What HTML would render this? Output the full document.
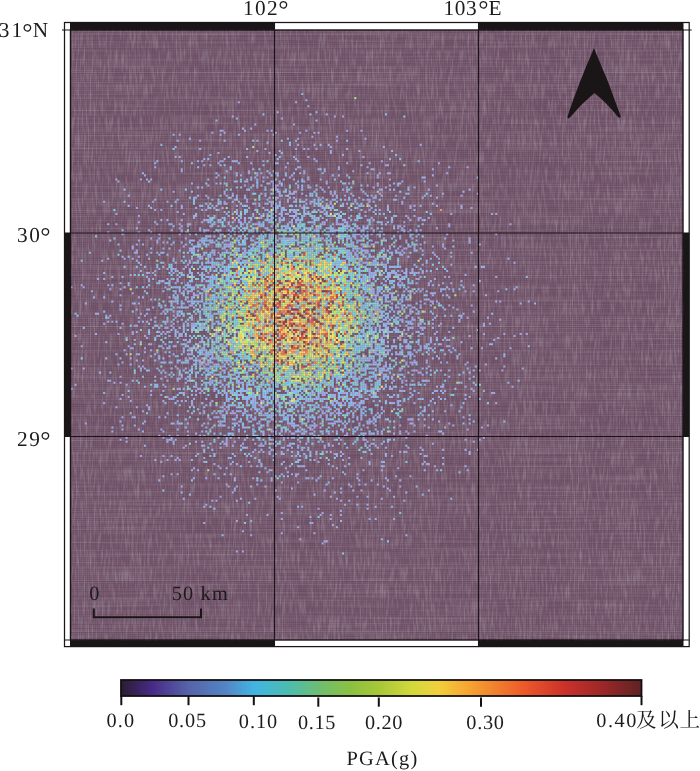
<!DOCTYPE html>
<html lang="zh"><head><meta charset="utf-8"><title>PGA</title>
<style>
html,body{margin:0;padding:0;background:#fff;}
svg{display:block;}
text{font-family:"Liberation Serif","Noto Serif CJK SC",serif;fill:#1d1a1b;text-rendering:geometricPrecision;}
</style></head><body>
<svg width="700" height="771" viewBox="0 0 700 771">
<defs>
<linearGradient id="cb" x1="0" y1="0" x2="1" y2="0"><stop offset="0.000" stop-color="#2b1e30"/><stop offset="0.030" stop-color="#3a225c"/><stop offset="0.060" stop-color="#482a86"/><stop offset="0.130" stop-color="#5664a8"/><stop offset="0.200" stop-color="#5484c4"/><stop offset="0.255" stop-color="#42b4e2"/><stop offset="0.320" stop-color="#4cbcb0"/><stop offset="0.385" stop-color="#70be6e"/><stop offset="0.440" stop-color="#8cc042"/><stop offset="0.495" stop-color="#a6c838"/><stop offset="0.560" stop-color="#d4d83c"/><stop offset="0.610" stop-color="#f2d03c"/><stop offset="0.660" stop-color="#f6aa34"/><stop offset="0.695" stop-color="#f39230"/><stop offset="0.770" stop-color="#ee5c2a"/><stop offset="0.850" stop-color="#cc322a"/><stop offset="0.920" stop-color="#a02828"/><stop offset="1.000" stop-color="#5e2224"/></linearGradient>
<filter id="soft" x="60" y="20" width="640" height="640" filterUnits="userSpaceOnUse"><feGaussianBlur stdDeviation="0.5"/></filter>
<filter id="linen" x="70" y="29" width="614" height="612" filterUnits="userSpaceOnUse" color-interpolation-filters="sRGB">
<feTurbulence type="fractalNoise" baseFrequency="0.5 0.06" numOctaves="2" seed="7" result="v"/>
<feColorMatrix in="v" type="matrix" values="0 0 0 0 1  0 0 0 0 1  0 0 0 0 1  0.46 0 0 0 -0.205" result="vw"/>
<feTurbulence type="fractalNoise" baseFrequency="0.012 0.5" numOctaves="1" seed="11" result="h"/>
<feColorMatrix in="h" type="matrix" values="0 0 0 0 1  0 0 0 0 1  0 0 0 0 1  0.22 0 0 0 -0.095" result="hw"/>
<feMerge><feMergeNode in="SourceGraphic"/><feMergeNode in="vw"/><feMergeNode in="hw"/></feMerge>
</filter>
<pattern id="fine" width="2.0417" height="2.0333" patternUnits="userSpaceOnUse" x="70.5" y="30">
<rect x="1.3" y="0" width="0.75" height="2.04" fill="#fff" fill-opacity="0.07"/>
<rect x="0" y="1.3" width="2.05" height="0.75" fill="#fff" fill-opacity="0.06"/>
</pattern>
<pattern id="tex" width="2.04" height="12.7" patternUnits="userSpaceOnUse" x="70.5" y="30">
<rect x="0" y="4.0" width="2.04" height="1.0" fill="#fff" fill-opacity="0.07"/>
<rect x="0" y="5.0" width="2.04" height="1.0" fill="#1a0a1a" fill-opacity="0.11"/>
</pattern>
<pattern id="tex2" width="2.04" height="12.7" patternUnits="userSpaceOnUse" x="70.5" y="30">
<rect x="0.3" y="0" width="0.8" height="12.7" fill="#fff" fill-opacity="0.03"/>
</pattern>
</defs>
<rect x="0" y="0" width="700" height="771" fill="#fff"/>
<rect x="64.50" y="22.50" width="624.70" height="624.10" fill="#fff" stroke="#1a1516" stroke-width="1.25"/>
<rect x="70.50" y="22.50" width="204.00" height="7.50" fill="#1a1516"/>
<rect x="478.50" y="22.50" width="204.50" height="7.50" fill="#1a1516"/>
<rect x="70.50" y="640.00" width="204.00" height="6.60" fill="#1a1516"/>
<rect x="478.50" y="640.00" width="204.50" height="6.60" fill="#1a1516"/>
<rect x="64.50" y="233.00" width="6.00" height="203.50" fill="#1a1516"/>
<rect x="683.00" y="233.00" width="6.20" height="203.50" fill="#1a1516"/>
<rect x="70.50" y="30.00" width="612.50" height="610.00" fill="#67485f" filter="url(#linen)"/>
<rect x="70.50" y="30.00" width="612.50" height="610.00" fill="url(#tex)"/>
<rect x="70.50" y="30.00" width="612.50" height="610.00" fill="url(#fine)"/>
<g filter="url(#soft)"><g transform="translate(70.50 30.00) scale(2.04167 2.03333)"><path fill="#a4a3e2" d="M82 35h1v1h-1zM110 35h1v1h-1zM125 41h1v1h-1zM73 49h1v1h-1zM74 49h1v1h-1zM98 49h1v1h-1zM142 49h1v1h-1zM69 50h1v1h-1zM112 50h1v1h-1zM53 51h1v1h-1zM118 52h1v1h-1zM130 52h1v1h-1zM106 53h1v1h-1zM63 54h1v1h-1zM130 54h1v1h-1zM111 56h1v1h-1zM119 56h1v1h-1zM116 58h1v1h-1zM120 58h1v1h-1zM97 60h1v1h-1zM51 62h1v1h-1zM77 62h1v1h-1zM65 63h1v1h-1zM119 63h1v1h-1zM64 64h1v1h-1zM73 64h1v1h-1zM72 65h1v1h-1zM135 65h1v1h-1zM180 65h1v1h-1zM65 66h1v1h-1zM154 66h1v1h-1zM155 66h1v1h-1zM105 67h1v1h-1zM145 67h1v1h-1zM194 67h1v1h-1zM54 68h1v1h-1zM124 68h1v1h-1zM148 68h1v1h-1zM87 69h1v1h-1zM114 69h1v1h-1zM138 69h1v1h-1zM87 70h1v1h-1zM93 70h1v1h-1zM100 70h1v1h-1zM156 70h1v1h-1zM36 71h1v1h-1zM72 71h1v1h-1zM83 71h1v1h-1zM91 71h1v1h-1zM108 71h1v1h-1zM135 71h1v1h-1zM150 71h1v1h-1zM88 72h1v1h-1zM94 72h1v1h-1zM96 72h1v1h-1zM156 73h1v1h-1zM99 74h1v1h-1zM125 74h1v1h-1zM71 75h1v1h-1zM76 75h1v1h-1zM97 75h1v1h-1zM102 75h1v1h-1zM136 75h1v1h-1zM93 76h1v1h-1zM101 76h1v1h-1zM111 76h1v1h-1zM116 76h1v1h-1zM150 76h1v1h-1zM156 76h1v1h-1zM179 76h1v1h-1zM95 77h1v1h-1zM99 77h1v1h-1zM100 77h1v1h-1zM122 77h1v1h-1zM126 77h1v1h-1zM148 77h1v1h-1zM100 78h1v1h-1zM120 78h1v1h-1zM135 78h1v1h-1zM151 78h1v1h-1zM109 79h1v1h-1zM124 79h1v1h-1zM129 79h1v1h-1zM75 80h1v1h-1zM79 80h1v1h-1zM95 80h1v1h-1zM107 80h1v1h-1zM109 80h1v1h-1zM129 80h1v1h-1zM137 80h1v1h-1zM144 80h1v1h-1zM151 80h1v1h-1zM182 80h1v1h-1zM85 81h1v1h-1zM105 81h1v1h-1zM147 81h1v1h-1zM152 81h1v1h-1zM159 81h1v1h-1zM191 81h1v1h-1zM60 82h1v1h-1zM81 82h1v1h-1zM97 82h1v1h-1zM109 82h1v1h-1zM121 82h1v1h-1zM52 83h1v1h-1zM69 83h1v1h-1zM80 83h1v1h-1zM106 83h1v1h-1zM112 83h1v1h-1zM134 83h1v1h-1zM145 83h1v1h-1zM159 83h1v1h-1zM40 84h1v1h-1zM47 84h1v1h-1zM72 84h1v1h-1zM86 84h1v1h-1zM106 84h1v1h-1zM127 84h1v1h-1zM139 84h1v1h-1zM146 84h1v1h-1zM162 84h1v1h-1zM76 85h1v1h-1zM90 85h1v1h-1zM98 85h1v1h-1zM117 85h1v1h-1zM125 85h1v1h-1zM145 85h1v1h-1zM162 85h1v1h-1zM54 86h1v1h-1zM67 86h1v1h-1zM69 86h1v1h-1zM92 86h1v1h-1zM100 86h1v1h-1zM112 86h1v1h-1zM119 86h1v1h-1zM123 86h1v1h-1zM126 86h1v1h-1zM146 86h1v1h-1zM166 86h1v1h-1zM168 86h1v1h-1zM179 86h1v1h-1zM32 87h1v1h-1zM54 87h1v1h-1zM67 87h1v1h-1zM87 87h1v1h-1zM113 87h1v1h-1zM155 87h1v1h-1zM166 87h1v1h-1zM196 87h1v1h-1zM41 88h1v1h-1zM44 88h1v1h-1zM66 88h1v1h-1zM100 88h1v1h-1zM108 88h1v1h-1zM110 88h1v1h-1zM146 88h1v1h-1zM81 89h1v1h-1zM98 89h1v1h-1zM122 89h1v1h-1zM144 89h1v1h-1zM92 90h1v1h-1zM96 90h1v1h-1zM106 90h1v1h-1zM131 90h1v1h-1zM33 91h1v1h-1zM67 91h1v1h-1zM82 91h1v1h-1zM98 91h1v1h-1zM107 91h1v1h-1zM110 91h1v1h-1zM114 91h1v1h-1zM168 91h1v1h-1zM60 92h1v1h-1zM70 92h1v1h-1zM90 92h1v1h-1zM93 92h1v1h-1zM109 92h1v1h-1zM119 92h1v1h-1zM132 92h1v1h-1zM165 92h1v1h-1zM170 92h1v1h-1zM175 92h1v1h-1zM66 93h1v1h-1zM67 93h1v1h-1zM88 93h1v1h-1zM95 93h1v1h-1zM97 93h1v1h-1zM103 93h1v1h-1zM137 93h1v1h-1zM140 93h1v1h-1zM145 93h1v1h-1zM166 93h1v1h-1zM172 93h1v1h-1zM72 94h1v1h-1zM82 94h1v1h-1zM118 94h1v1h-1zM123 94h1v1h-1zM152 94h1v1h-1zM22 95h1v1h-1zM42 95h1v1h-1zM84 95h1v1h-1zM112 95h1v1h-1zM124 95h1v1h-1zM131 95h1v1h-1zM185 95h1v1h-1zM215 95h1v1h-1zM54 96h1v1h-1zM57 96h1v1h-1zM68 96h1v1h-1zM69 96h1v1h-1zM140 96h1v1h-1zM161 96h1v1h-1zM163 96h1v1h-1zM185 96h1v1h-1zM53 97h1v1h-1zM63 97h1v1h-1zM137 97h1v1h-1zM160 97h1v1h-1zM49 98h1v1h-1zM66 98h1v1h-1zM77 98h1v1h-1zM96 98h1v1h-1zM99 98h1v1h-1zM119 98h1v1h-1zM142 98h1v1h-1zM162 98h1v1h-1zM33 99h1v1h-1zM54 99h1v1h-1zM80 99h1v1h-1zM82 99h1v1h-1zM98 99h1v1h-1zM113 99h1v1h-1zM131 99h1v1h-1zM138 99h1v1h-1zM169 99h1v1h-1zM53 100h1v1h-1zM58 100h1v1h-1zM93 100h1v1h-1zM98 100h1v1h-1zM107 100h1v1h-1zM139 100h1v1h-1zM140 100h1v1h-1zM147 100h1v1h-1zM208 100h1v1h-1zM73 101h1v1h-1zM98 101h1v1h-1zM104 101h1v1h-1zM169 101h1v1h-1zM56 102h1v1h-1zM83 102h1v1h-1zM123 102h1v1h-1zM153 102h1v1h-1zM161 102h1v1h-1zM42 103h1v1h-1zM60 103h1v1h-1zM64 103h1v1h-1zM76 103h1v1h-1zM93 103h1v1h-1zM111 103h1v1h-1zM124 103h1v1h-1zM140 103h1v1h-1zM147 103h1v1h-1zM164 103h1v1h-1zM187 103h1v1h-1zM45 104h1v1h-1zM64 104h1v1h-1zM68 104h1v1h-1zM69 104h1v1h-1zM149 104h1v1h-1zM49 105h1v1h-1zM77 105h1v1h-1zM99 105h1v1h-1zM127 105h1v1h-1zM142 105h1v1h-1zM144 105h1v1h-1zM147 105h1v1h-1zM171 105h1v1h-1zM55 106h1v1h-1zM73 106h1v1h-1zM75 106h1v1h-1zM76 106h1v1h-1zM112 106h1v1h-1zM146 106h1v1h-1zM177 106h1v1h-1zM182 106h1v1h-1zM45 107h1v1h-1zM75 107h1v1h-1zM127 107h1v1h-1zM128 107h1v1h-1zM142 107h1v1h-1zM156 107h1v1h-1zM160 107h1v1h-1zM163 107h1v1h-1zM171 107h1v1h-1zM32 108h1v1h-1zM53 108h1v1h-1zM58 108h1v1h-1zM60 108h1v1h-1zM70 108h1v1h-1zM81 108h1v1h-1zM162 108h1v1h-1zM172 108h1v1h-1zM39 109h1v1h-1zM68 109h1v1h-1zM72 109h1v1h-1zM85 109h1v1h-1zM136 109h1v1h-1zM65 110h1v1h-1zM70 110h1v1h-1zM80 110h1v1h-1zM136 110h1v1h-1zM140 110h1v1h-1zM142 110h1v1h-1zM33 111h1v1h-1zM64 111h1v1h-1zM137 111h1v1h-1zM147 111h1v1h-1zM67 112h1v1h-1zM141 112h1v1h-1zM145 112h1v1h-1zM180 112h1v1h-1zM15 113h1v1h-1zM32 113h1v1h-1zM58 113h1v1h-1zM69 113h1v1h-1zM86 113h1v1h-1zM133 113h1v1h-1zM141 113h1v1h-1zM51 114h1v1h-1zM113 114h1v1h-1zM144 114h1v1h-1zM148 114h1v1h-1zM152 114h1v1h-1zM160 114h1v1h-1zM57 115h1v1h-1zM70 115h1v1h-1zM73 115h1v1h-1zM78 115h1v1h-1zM135 115h1v1h-1zM142 115h1v1h-1zM151 115h1v1h-1zM153 115h1v1h-1zM65 116h1v1h-1zM69 116h1v1h-1zM76 116h1v1h-1zM141 116h1v1h-1zM51 117h1v1h-1zM55 117h1v1h-1zM58 117h1v1h-1zM106 117h1v1h-1zM146 117h1v1h-1zM41 118h1v1h-1zM52 118h1v1h-1zM140 118h1v1h-1zM146 118h1v1h-1zM174 118h1v1h-1zM38 119h1v1h-1zM40 119h1v1h-1zM67 119h1v1h-1zM148 119h1v1h-1zM149 119h1v1h-1zM157 119h1v1h-1zM169 119h1v1h-1zM172 119h1v1h-1zM29 120h1v1h-1zM63 120h1v1h-1zM64 120h1v1h-1zM143 120h1v1h-1zM152 120h1v1h-1zM78 121h1v1h-1zM155 121h1v1h-1zM156 121h1v1h-1zM162 121h1v1h-1zM183 121h1v1h-1zM185 121h1v1h-1zM208 121h1v1h-1zM13 122h1v1h-1zM68 122h1v1h-1zM146 122h1v1h-1zM148 122h1v1h-1zM160 122h1v1h-1zM161 122h1v1h-1zM169 122h1v1h-1zM178 122h1v1h-1zM44 123h1v1h-1zM45 123h1v1h-1zM66 123h1v1h-1zM156 123h1v1h-1zM161 123h1v1h-1zM160 124h1v1h-1zM162 124h1v1h-1zM175 124h1v1h-1zM182 124h1v1h-1zM18 125h1v1h-1zM144 125h1v1h-1zM160 125h1v1h-1zM180 125h1v1h-1zM6 126h1v1h-1zM37 126h1v1h-1zM46 126h1v1h-1zM74 126h1v1h-1zM146 126h1v1h-1zM19 127h1v1h-1zM24 127h1v1h-1zM47 127h1v1h-1zM167 127h1v1h-1zM187 127h1v1h-1zM10 128h1v1h-1zM36 128h1v1h-1zM55 128h1v1h-1zM59 128h1v1h-1zM65 128h1v1h-1zM163 128h1v1h-1zM181 128h1v1h-1zM193 128h1v1h-1zM209 128h1v1h-1zM60 129h1v1h-1zM156 129h1v1h-1zM168 129h1v1h-1zM176 129h1v1h-1zM177 129h1v1h-1zM178 129h1v1h-1zM60 130h1v1h-1zM61 130h1v1h-1zM62 130h1v1h-1zM148 130h1v1h-1zM150 130h1v1h-1zM154 130h1v1h-1zM160 130h1v1h-1zM165 130h1v1h-1zM33 131h1v1h-1zM48 131h1v1h-1zM50 131h1v1h-1zM51 131h1v1h-1zM56 131h1v1h-1zM59 131h1v1h-1zM152 131h1v1h-1zM51 132h1v1h-1zM162 132h1v1h-1zM166 132h1v1h-1zM58 133h1v1h-1zM61 133h1v1h-1zM146 133h1v1h-1zM156 133h1v1h-1zM171 133h1v1h-1zM177 133h1v1h-1zM179 133h1v1h-1zM224 133h1v1h-1zM49 134h1v1h-1zM74 134h1v1h-1zM173 134h1v1h-1zM44 135h1v1h-1zM54 135h1v1h-1zM58 135h1v1h-1zM59 135h1v1h-1zM162 135h1v1h-1zM166 135h1v1h-1zM185 135h1v1h-1zM196 135h1v1h-1zM52 136h1v1h-1zM57 136h1v1h-1zM150 136h1v1h-1zM32 137h1v1h-1zM48 137h1v1h-1zM151 137h1v1h-1zM162 137h1v1h-1zM50 138h1v1h-1zM52 138h1v1h-1zM149 138h1v1h-1zM173 138h1v1h-1zM197 138h1v1h-1zM13 139h1v1h-1zM44 139h1v1h-1zM63 139h1v1h-1zM148 139h1v1h-1zM166 139h1v1h-1zM169 139h1v1h-1zM192 139h1v1h-1zM36 140h1v1h-1zM53 140h1v1h-1zM148 140h1v1h-1zM155 140h1v1h-1zM164 140h1v1h-1zM165 140h1v1h-1zM179 140h1v1h-1zM41 141h1v1h-1zM51 141h1v1h-1zM147 141h1v1h-1zM155 141h1v1h-1zM194 141h1v1h-1zM65 142h1v1h-1zM150 142h1v1h-1zM162 142h1v1h-1zM20 143h1v1h-1zM155 143h1v1h-1zM59 144h1v1h-1zM60 144h1v1h-1zM170 144h1v1h-1zM177 144h1v1h-1zM181 144h1v1h-1zM32 145h1v1h-1zM64 145h1v1h-1zM47 146h1v1h-1zM154 146h1v1h-1zM165 146h1v1h-1zM172 146h1v1h-1zM55 147h1v1h-1zM172 147h1v1h-1zM30 148h1v1h-1zM45 148h1v1h-1zM48 148h1v1h-1zM51 148h1v1h-1zM155 148h1v1h-1zM30 149h1v1h-1zM46 149h1v1h-1zM153 149h1v1h-1zM155 149h1v1h-1zM167 149h1v1h-1zM171 149h1v1h-1zM202 149h1v1h-1zM212 149h1v1h-1zM223 149h1v1h-1zM2 150h1v1h-1zM36 150h1v1h-1zM48 150h1v1h-1zM54 150h1v1h-1zM153 150h1v1h-1zM217 150h1v1h-1zM27 151h1v1h-1zM66 151h1v1h-1zM152 151h1v1h-1zM176 151h1v1h-1zM179 151h1v1h-1zM31 152h1v1h-1zM55 152h1v1h-1zM72 152h1v1h-1zM153 152h1v1h-1zM182 152h1v1h-1zM184 152h1v1h-1zM207 152h1v1h-1zM57 153h1v1h-1zM158 153h1v1h-1zM39 154h1v1h-1zM54 154h1v1h-1zM170 154h1v1h-1zM5 155h1v1h-1zM50 155h1v1h-1zM51 155h1v1h-1zM63 155h1v1h-1zM72 155h1v1h-1zM171 155h1v1h-1zM174 155h1v1h-1zM45 156h1v1h-1zM58 156h1v1h-1zM62 156h1v1h-1zM164 156h1v1h-1zM173 156h1v1h-1zM201 156h1v1h-1zM26 157h1v1h-1zM39 157h1v1h-1zM55 157h1v1h-1zM74 157h1v1h-1zM171 157h1v1h-1zM175 157h1v1h-1zM36 158h1v1h-1zM42 158h1v1h-1zM55 158h1v1h-1zM77 158h1v1h-1zM148 158h1v1h-1zM149 158h1v1h-1zM169 158h1v1h-1zM178 158h1v1h-1zM65 159h1v1h-1zM69 159h1v1h-1zM146 159h1v1h-1zM151 159h1v1h-1zM154 159h1v1h-1zM159 159h1v1h-1zM160 159h1v1h-1zM161 159h1v1h-1zM43 160h1v1h-1zM67 160h1v1h-1zM71 160h1v1h-1zM144 160h1v1h-1zM168 160h1v1h-1zM29 161h1v1h-1zM56 161h1v1h-1zM64 161h1v1h-1zM70 161h1v1h-1zM141 161h1v1h-1zM189 161h1v1h-1zM62 162h1v1h-1zM63 162h1v1h-1zM74 162h1v1h-1zM57 163h1v1h-1zM63 163h1v1h-1zM67 163h1v1h-1zM164 163h1v1h-1zM167 163h1v1h-1zM174 163h1v1h-1zM23 164h1v1h-1zM64 164h1v1h-1zM70 164h1v1h-1zM147 164h1v1h-1zM203 164h1v1h-1zM35 165h1v1h-1zM51 165h1v1h-1zM63 165h1v1h-1zM65 165h1v1h-1zM69 165h1v1h-1zM72 165h1v1h-1zM153 165h1v1h-1zM212 165h1v1h-1zM6 166h1v1h-1zM36 166h1v1h-1zM52 166h1v1h-1zM66 166h1v1h-1zM68 166h1v1h-1zM76 166h1v1h-1zM145 166h1v1h-1zM149 166h1v1h-1zM34 167h1v1h-1zM74 167h1v1h-1zM79 167h1v1h-1zM142 167h1v1h-1zM154 167h1v1h-1zM155 167h1v1h-1zM167 167h1v1h-1zM169 167h1v1h-1zM181 167h1v1h-1zM211 167h1v1h-1zM49 168h1v1h-1zM138 168h1v1h-1zM171 168h1v1h-1zM80 169h1v1h-1zM82 169h1v1h-1zM172 169h1v1h-1zM24 170h1v1h-1zM49 170h1v1h-1zM92 170h1v1h-1zM130 170h1v1h-1zM138 170h1v1h-1zM139 170h1v1h-1zM142 170h1v1h-1zM148 170h1v1h-1zM52 171h1v1h-1zM58 171h1v1h-1zM118 171h1v1h-1zM132 171h1v1h-1zM136 171h1v1h-1zM151 171h1v1h-1zM195 171h1v1h-1zM19 172h1v1h-1zM32 172h1v1h-1zM52 172h1v1h-1zM68 172h1v1h-1zM89 172h1v1h-1zM158 172h1v1h-1zM175 172h1v1h-1zM83 173h1v1h-1zM86 173h1v1h-1zM99 173h1v1h-1zM162 173h1v1h-1zM27 174h1v1h-1zM101 174h1v1h-1zM61 175h1v1h-1zM70 175h1v1h-1zM0 176h1v1h-1zM52 176h1v1h-1zM62 176h1v1h-1zM75 176h1v1h-1zM98 176h1v1h-1zM196 176h1v1h-1zM70 177h1v1h-1zM123 177h1v1h-1zM130 177h1v1h-1zM146 177h1v1h-1zM162 177h1v1h-1zM178 177h1v1h-1zM179 177h1v1h-1zM197 177h1v1h-1zM202 177h1v1h-1zM63 178h1v1h-1zM83 178h1v1h-1zM96 178h1v1h-1zM119 178h1v1h-1zM123 178h1v1h-1zM133 178h1v1h-1zM134 178h1v1h-1zM138 178h1v1h-1zM206 178h1v1h-1zM44 179h1v1h-1zM124 179h1v1h-1zM142 179h1v1h-1zM28 180h1v1h-1zM47 180h1v1h-1zM50 180h1v1h-1zM78 180h1v1h-1zM107 180h1v1h-1zM128 180h1v1h-1zM147 180h1v1h-1zM180 180h1v1h-1zM48 181h1v1h-1zM50 181h1v1h-1zM76 181h1v1h-1zM90 181h1v1h-1zM101 181h1v1h-1zM123 181h1v1h-1zM140 181h1v1h-1zM193 181h1v1h-1zM52 182h1v1h-1zM77 182h1v1h-1zM117 182h1v1h-1zM133 182h1v1h-1zM148 182h1v1h-1zM16 183h1v1h-1zM59 183h1v1h-1zM86 183h1v1h-1zM89 183h1v1h-1zM107 183h1v1h-1zM108 183h1v1h-1zM132 183h1v1h-1zM141 183h1v1h-1zM142 183h1v1h-1zM157 183h1v1h-1zM208 183h1v1h-1zM82 184h1v1h-1zM89 184h1v1h-1zM93 184h1v1h-1zM101 184h1v1h-1zM118 184h1v1h-1zM125 184h1v1h-1zM133 184h1v1h-1zM32 185h1v1h-1zM38 185h1v1h-1zM73 185h1v1h-1zM76 185h1v1h-1zM81 185h1v1h-1zM93 185h1v1h-1zM94 185h1v1h-1zM123 185h1v1h-1zM191 185h1v1h-1zM75 186h1v1h-1zM77 186h1v1h-1zM99 186h1v1h-1zM135 186h1v1h-1zM152 186h1v1h-1zM35 187h1v1h-1zM83 187h1v1h-1zM85 187h1v1h-1zM104 187h1v1h-1zM106 187h1v1h-1zM115 187h1v1h-1zM123 187h1v1h-1zM131 187h1v1h-1zM139 187h1v1h-1zM162 187h1v1h-1zM65 188h1v1h-1zM73 188h1v1h-1zM78 188h1v1h-1zM79 188h1v1h-1zM84 188h1v1h-1zM102 188h1v1h-1zM105 188h1v1h-1zM115 188h1v1h-1zM124 188h1v1h-1zM130 188h1v1h-1zM132 188h1v1h-1zM81 189h1v1h-1zM87 189h1v1h-1zM94 189h1v1h-1zM98 189h1v1h-1zM107 189h1v1h-1zM129 189h1v1h-1zM131 189h1v1h-1zM138 189h1v1h-1zM172 189h1v1h-1zM31 190h1v1h-1zM67 190h1v1h-1zM72 190h1v1h-1zM98 190h1v1h-1zM104 190h1v1h-1zM106 190h1v1h-1zM115 190h1v1h-1zM142 190h1v1h-1zM148 190h1v1h-1zM108 191h1v1h-1zM116 191h1v1h-1zM125 191h1v1h-1zM148 191h1v1h-1zM149 191h1v1h-1zM165 191h1v1h-1zM195 191h1v1h-1zM87 192h1v1h-1zM100 192h1v1h-1zM108 192h1v1h-1zM118 192h1v1h-1zM129 192h1v1h-1zM146 192h1v1h-1zM7 193h1v1h-1zM52 193h1v1h-1zM67 193h1v1h-1zM73 193h1v1h-1zM80 193h1v1h-1zM92 193h1v1h-1zM106 193h1v1h-1zM108 193h1v1h-1zM122 193h1v1h-1zM146 193h1v1h-1zM185 193h1v1h-1zM73 194h1v1h-1zM82 194h1v1h-1zM117 194h1v1h-1zM119 194h1v1h-1zM120 194h1v1h-1zM161 194h1v1h-1zM168 194h1v1h-1zM173 194h1v1h-1zM187 194h1v1h-1zM204 194h1v1h-1zM112 195h1v1h-1zM116 195h1v1h-1zM119 195h1v1h-1zM145 195h1v1h-1zM201 195h1v1h-1zM33 196h1v1h-1zM68 196h1v1h-1zM114 196h1v1h-1zM118 196h1v1h-1zM138 196h1v1h-1zM194 196h1v1h-1zM89 197h1v1h-1zM105 197h1v1h-1zM112 197h1v1h-1zM180 197h1v1h-1zM61 198h1v1h-1zM150 198h1v1h-1zM158 198h1v1h-1zM165 198h1v1h-1zM182 198h1v1h-1zM65 199h1v1h-1zM77 199h1v1h-1zM111 199h1v1h-1zM143 199h1v1h-1zM104 200h1v1h-1zM106 200h1v1h-1zM143 200h1v1h-1zM202 200h1v1h-1zM47 201h1v1h-1zM76 201h1v1h-1zM97 201h1v1h-1zM98 201h1v1h-1zM132 201h1v1h-1zM148 201h1v1h-1zM193 201h1v1h-1zM27 202h1v1h-1zM95 202h1v1h-1zM116 202h1v1h-1zM197 202h1v1h-1zM50 203h1v1h-1zM75 203h1v1h-1zM76 203h1v1h-1zM98 203h1v1h-1zM107 203h1v1h-1zM144 203h1v1h-1zM177 203h1v1h-1zM76 204h1v1h-1zM111 204h1v1h-1zM149 204h1v1h-1zM55 205h1v1h-1zM114 205h1v1h-1zM124 205h1v1h-1zM171 205h1v1h-1zM99 206h1v1h-1zM106 206h1v1h-1zM113 206h1v1h-1zM193 206h1v1h-1zM199 206h1v1h-1zM65 207h1v1h-1zM97 207h1v1h-1zM127 207h1v1h-1zM104 208h1v1h-1zM120 208h1v1h-1zM129 208h1v1h-1zM133 208h1v1h-1zM147 208h1v1h-1zM171 208h1v1h-1zM34 209h1v1h-1zM45 209h1v1h-1zM154 209h1v1h-1zM157 209h1v1h-1zM52 210h1v1h-1zM182 210h1v1h-1zM41 211h1v1h-1zM47 211h1v1h-1zM53 211h1v1h-1zM44 212h1v1h-1zM65 212h1v1h-1zM87 212h1v1h-1zM104 212h1v1h-1zM152 212h1v1h-1zM173 212h1v1h-1zM78 213h1v1h-1zM146 213h1v1h-1zM174 213h1v1h-1zM88 214h1v1h-1zM107 214h1v1h-1zM113 214h1v1h-1zM114 214h1v1h-1zM178 214h1v1h-1zM60 215h1v1h-1zM95 215h1v1h-1zM160 215h1v1h-1zM98 216h1v1h-1zM152 216h1v1h-1zM106 217h1v1h-1zM52 218h1v1h-1zM110 218h1v1h-1zM110 219h1v1h-1zM89 220h1v1h-1zM118 220h1v1h-1zM121 220h1v1h-1zM147 221h1v1h-1zM155 221h1v1h-1zM161 221h1v1h-1zM103 222h1v1h-1zM76 223h1v1h-1zM81 224h1v1h-1zM108 225h1v1h-1zM124 226h1v1h-1zM156 226h1v1h-1zM79 227h1v1h-1zM132 227h1v1h-1zM73 229h1v1h-1zM140 229h1v1h-1zM90 230h1v1h-1zM102 230h1v1h-1zM130 230h1v1h-1zM152 230h1v1h-1zM132 231h1v1h-1zM136 231h1v1h-1zM145 233h1v1h-1zM65 234h1v1h-1zM121 235h1v1h-1zM132 236h1v1h-1zM103 237h1v1h-1zM123 237h1v1h-1zM132 238h1v1h-1zM127 240h1v1h-1zM158 240h1v1h-1zM81 241h1v1h-1zM128 243h1v1h-1zM84 246h1v1h-1zM119 247h1v1h-1zM112 250h1v1h-1zM124 251h1v1h-1zM84 256h1v1h-1z"/>
<path fill="#a0a7e6" d="M129 42h1v1h-1zM133 42h1v1h-1zM103 43h1v1h-1zM109 46h1v1h-1zM84 48h1v1h-1zM88 48h1v1h-1zM135 49h1v1h-1zM75 50h1v1h-1zM121 50h1v1h-1zM73 51h1v1h-1zM111 53h1v1h-1zM144 53h1v1h-1zM91 54h1v1h-1zM110 54h1v1h-1zM171 56h1v1h-1zM127 57h1v1h-1zM95 58h1v1h-1zM110 58h1v1h-1zM127 59h1v1h-1zM141 59h1v1h-1zM72 60h1v1h-1zM127 60h1v1h-1zM68 61h1v1h-1zM100 61h1v1h-1zM133 61h1v1h-1zM143 62h1v1h-1zM75 63h1v1h-1zM62 64h1v1h-1zM74 64h1v1h-1zM94 64h1v1h-1zM152 64h1v1h-1zM41 65h1v1h-1zM82 65h1v1h-1zM146 65h1v1h-1zM68 66h1v1h-1zM112 67h1v1h-1zM131 67h1v1h-1zM89 68h1v1h-1zM110 68h1v1h-1zM177 68h1v1h-1zM81 70h1v1h-1zM91 70h1v1h-1zM101 70h1v1h-1zM114 70h1v1h-1zM184 70h1v1h-1zM128 71h1v1h-1zM131 71h1v1h-1zM177 71h1v1h-1zM107 72h1v1h-1zM22 73h1v1h-1zM39 73h1v1h-1zM67 73h1v1h-1zM109 73h1v1h-1zM116 73h1v1h-1zM122 73h1v1h-1zM85 74h1v1h-1zM86 74h1v1h-1zM94 74h1v1h-1zM98 74h1v1h-1zM102 74h1v1h-1zM114 74h1v1h-1zM162 74h1v1h-1zM59 75h1v1h-1zM99 75h1v1h-1zM138 75h1v1h-1zM150 75h1v1h-1zM145 76h1v1h-1zM64 77h1v1h-1zM88 77h1v1h-1zM91 77h1v1h-1zM111 77h1v1h-1zM135 77h1v1h-1zM154 77h1v1h-1zM86 78h1v1h-1zM133 78h1v1h-1zM152 78h1v1h-1zM156 78h1v1h-1zM175 78h1v1h-1zM50 79h1v1h-1zM99 79h1v1h-1zM101 79h1v1h-1zM102 79h1v1h-1zM135 79h1v1h-1zM113 80h1v1h-1zM127 80h1v1h-1zM164 80h1v1h-1zM76 81h1v1h-1zM81 81h1v1h-1zM102 81h1v1h-1zM115 81h1v1h-1zM134 81h1v1h-1zM173 81h1v1h-1zM61 82h1v1h-1zM123 82h1v1h-1zM130 82h1v1h-1zM141 82h1v1h-1zM41 83h1v1h-1zM100 83h1v1h-1zM115 83h1v1h-1zM121 83h1v1h-1zM128 83h1v1h-1zM146 83h1v1h-1zM16 84h1v1h-1zM75 84h1v1h-1zM82 84h1v1h-1zM98 84h1v1h-1zM117 84h1v1h-1zM118 84h1v1h-1zM121 84h1v1h-1zM95 85h1v1h-1zM99 85h1v1h-1zM135 85h1v1h-1zM177 85h1v1h-1zM71 86h1v1h-1zM81 86h1v1h-1zM84 86h1v1h-1zM86 86h1v1h-1zM98 86h1v1h-1zM128 86h1v1h-1zM142 86h1v1h-1zM171 86h1v1h-1zM74 87h1v1h-1zM99 87h1v1h-1zM191 87h1v1h-1zM72 88h1v1h-1zM119 88h1v1h-1zM127 88h1v1h-1zM151 88h1v1h-1zM100 89h1v1h-1zM107 89h1v1h-1zM109 89h1v1h-1zM123 89h1v1h-1zM22 90h1v1h-1zM103 90h1v1h-1zM111 90h1v1h-1zM129 90h1v1h-1zM186 90h1v1h-1zM208 90h1v1h-1zM83 91h1v1h-1zM89 91h1v1h-1zM125 91h1v1h-1zM141 91h1v1h-1zM144 91h1v1h-1zM83 92h1v1h-1zM92 92h1v1h-1zM96 92h1v1h-1zM123 92h1v1h-1zM147 92h1v1h-1zM171 92h1v1h-1zM54 93h1v1h-1zM80 93h1v1h-1zM85 93h1v1h-1zM98 93h1v1h-1zM108 93h1v1h-1zM111 93h1v1h-1zM130 93h1v1h-1zM133 93h1v1h-1zM134 93h1v1h-1zM33 94h1v1h-1zM79 94h1v1h-1zM83 94h1v1h-1zM110 94h1v1h-1zM135 94h1v1h-1zM157 94h1v1h-1zM163 94h1v1h-1zM49 95h1v1h-1zM53 95h1v1h-1zM57 95h1v1h-1zM83 95h1v1h-1zM91 95h1v1h-1zM99 95h1v1h-1zM108 95h1v1h-1zM119 95h1v1h-1zM123 95h1v1h-1zM130 95h1v1h-1zM135 95h1v1h-1zM72 96h1v1h-1zM86 96h1v1h-1zM92 96h1v1h-1zM106 96h1v1h-1zM135 96h1v1h-1zM95 97h1v1h-1zM100 97h1v1h-1zM103 97h1v1h-1zM105 97h1v1h-1zM116 97h1v1h-1zM121 97h1v1h-1zM126 97h1v1h-1zM134 97h1v1h-1zM141 97h1v1h-1zM179 97h1v1h-1zM38 98h1v1h-1zM54 98h1v1h-1zM67 98h1v1h-1zM73 98h1v1h-1zM87 98h1v1h-1zM89 98h1v1h-1zM116 98h1v1h-1zM136 98h1v1h-1zM148 98h1v1h-1zM171 98h1v1h-1zM18 99h1v1h-1zM56 99h1v1h-1zM65 99h1v1h-1zM70 99h1v1h-1zM78 99h1v1h-1zM111 99h1v1h-1zM119 99h1v1h-1zM126 99h1v1h-1zM129 99h1v1h-1zM143 99h1v1h-1zM160 99h1v1h-1zM165 99h1v1h-1zM120 100h1v1h-1zM133 100h1v1h-1zM141 100h1v1h-1zM143 100h1v1h-1zM150 100h1v1h-1zM166 100h1v1h-1zM184 100h1v1h-1zM68 101h1v1h-1zM70 101h1v1h-1zM82 101h1v1h-1zM95 101h1v1h-1zM130 101h1v1h-1zM138 101h1v1h-1zM139 101h1v1h-1zM39 102h1v1h-1zM65 102h1v1h-1zM66 102h1v1h-1zM102 102h1v1h-1zM115 102h1v1h-1zM119 102h1v1h-1zM131 102h1v1h-1zM135 102h1v1h-1zM136 102h1v1h-1zM167 102h1v1h-1zM58 103h1v1h-1zM63 103h1v1h-1zM77 103h1v1h-1zM81 103h1v1h-1zM88 103h1v1h-1zM135 103h1v1h-1zM153 103h1v1h-1zM195 103h1v1h-1zM42 104h1v1h-1zM62 104h1v1h-1zM78 104h1v1h-1zM137 104h1v1h-1zM150 104h1v1h-1zM32 105h1v1h-1zM67 105h1v1h-1zM76 105h1v1h-1zM88 105h1v1h-1zM97 105h1v1h-1zM138 105h1v1h-1zM169 105h1v1h-1zM182 105h1v1h-1zM30 106h1v1h-1zM71 106h1v1h-1zM77 106h1v1h-1zM78 106h1v1h-1zM138 106h1v1h-1zM140 106h1v1h-1zM143 106h1v1h-1zM156 106h1v1h-1zM161 106h1v1h-1zM166 106h1v1h-1zM30 107h1v1h-1zM100 107h1v1h-1zM109 107h1v1h-1zM126 107h1v1h-1zM141 107h1v1h-1zM153 107h1v1h-1zM164 107h1v1h-1zM168 107h1v1h-1zM183 107h1v1h-1zM94 108h1v1h-1zM115 108h1v1h-1zM138 108h1v1h-1zM145 108h1v1h-1zM168 108h1v1h-1zM32 109h1v1h-1zM42 109h1v1h-1zM69 109h1v1h-1zM97 109h1v1h-1zM121 109h1v1h-1zM144 109h1v1h-1zM160 109h1v1h-1zM98 110h1v1h-1zM101 110h1v1h-1zM107 110h1v1h-1zM157 110h1v1h-1zM161 110h1v1h-1zM162 110h1v1h-1zM178 110h1v1h-1zM77 111h1v1h-1zM84 111h1v1h-1zM125 111h1v1h-1zM148 111h1v1h-1zM179 111h1v1h-1zM186 111h1v1h-1zM30 112h1v1h-1zM38 112h1v1h-1zM50 112h1v1h-1zM59 112h1v1h-1zM64 112h1v1h-1zM107 112h1v1h-1zM139 112h1v1h-1zM153 112h1v1h-1zM176 112h1v1h-1zM82 113h1v1h-1zM84 113h1v1h-1zM114 113h1v1h-1zM138 113h1v1h-1zM68 114h1v1h-1zM141 114h1v1h-1zM145 114h1v1h-1zM147 114h1v1h-1zM149 114h1v1h-1zM217 114h1v1h-1zM34 115h1v1h-1zM74 115h1v1h-1zM129 115h1v1h-1zM70 116h1v1h-1zM154 116h1v1h-1zM157 116h1v1h-1zM161 116h1v1h-1zM169 116h1v1h-1zM202 116h1v1h-1zM43 117h1v1h-1zM50 117h1v1h-1zM64 117h1v1h-1zM65 117h1v1h-1zM66 117h1v1h-1zM119 117h1v1h-1zM164 117h1v1h-1zM68 118h1v1h-1zM75 118h1v1h-1zM94 118h1v1h-1zM135 118h1v1h-1zM151 118h1v1h-1zM160 118h1v1h-1zM162 118h1v1h-1zM50 119h1v1h-1zM54 119h1v1h-1zM81 119h1v1h-1zM112 119h1v1h-1zM122 119h1v1h-1zM156 119h1v1h-1zM158 119h1v1h-1zM159 119h1v1h-1zM166 119h1v1h-1zM167 119h1v1h-1zM170 119h1v1h-1zM57 120h1v1h-1zM147 120h1v1h-1zM159 120h1v1h-1zM161 120h1v1h-1zM164 120h1v1h-1zM25 121h1v1h-1zM79 121h1v1h-1zM131 121h1v1h-1zM147 121h1v1h-1zM16 122h1v1h-1zM38 122h1v1h-1zM52 122h1v1h-1zM64 122h1v1h-1zM69 122h1v1h-1zM70 122h1v1h-1zM102 122h1v1h-1zM38 123h1v1h-1zM48 123h1v1h-1zM76 123h1v1h-1zM143 123h1v1h-1zM146 123h1v1h-1zM154 123h1v1h-1zM167 123h1v1h-1zM191 123h1v1h-1zM51 124h1v1h-1zM54 124h1v1h-1zM57 124h1v1h-1zM81 124h1v1h-1zM116 124h1v1h-1zM166 124h1v1h-1zM186 124h1v1h-1zM5 125h1v1h-1zM65 125h1v1h-1zM67 125h1v1h-1zM71 125h1v1h-1zM78 125h1v1h-1zM175 125h1v1h-1zM50 126h1v1h-1zM52 126h1v1h-1zM59 126h1v1h-1zM60 126h1v1h-1zM72 126h1v1h-1zM122 126h1v1h-1zM147 126h1v1h-1zM165 126h1v1h-1zM64 127h1v1h-1zM67 127h1v1h-1zM83 127h1v1h-1zM90 127h1v1h-1zM138 127h1v1h-1zM181 127h1v1h-1zM183 127h1v1h-1zM45 128h1v1h-1zM58 128h1v1h-1zM62 128h1v1h-1zM74 128h1v1h-1zM144 128h1v1h-1zM148 128h1v1h-1zM30 129h1v1h-1zM83 129h1v1h-1zM142 129h1v1h-1zM150 129h1v1h-1zM157 129h1v1h-1zM166 129h1v1h-1zM52 130h1v1h-1zM64 130h1v1h-1zM157 130h1v1h-1zM174 130h1v1h-1zM182 130h1v1h-1zM35 131h1v1h-1zM57 131h1v1h-1zM68 131h1v1h-1zM75 131h1v1h-1zM143 131h1v1h-1zM149 131h1v1h-1zM151 131h1v1h-1zM157 131h1v1h-1zM158 131h1v1h-1zM59 132h1v1h-1zM64 132h1v1h-1zM71 132h1v1h-1zM161 132h1v1h-1zM164 132h1v1h-1zM165 132h1v1h-1zM173 132h1v1h-1zM175 132h1v1h-1zM20 133h1v1h-1zM48 133h1v1h-1zM63 133h1v1h-1zM149 133h1v1h-1zM155 133h1v1h-1zM160 133h1v1h-1zM208 133h1v1h-1zM210 133h1v1h-1zM33 134h1v1h-1zM118 134h1v1h-1zM94 135h1v1h-1zM110 135h1v1h-1zM171 135h1v1h-1zM40 136h1v1h-1zM53 136h1v1h-1zM60 136h1v1h-1zM63 136h1v1h-1zM65 136h1v1h-1zM72 136h1v1h-1zM87 136h1v1h-1zM148 136h1v1h-1zM157 136h1v1h-1zM159 136h1v1h-1zM167 136h1v1h-1zM24 137h1v1h-1zM38 137h1v1h-1zM74 137h1v1h-1zM90 137h1v1h-1zM166 137h1v1h-1zM189 137h1v1h-1zM45 138h1v1h-1zM65 138h1v1h-1zM68 138h1v1h-1zM124 138h1v1h-1zM146 138h1v1h-1zM158 138h1v1h-1zM34 139h1v1h-1zM37 139h1v1h-1zM55 139h1v1h-1zM61 139h1v1h-1zM72 139h1v1h-1zM92 139h1v1h-1zM104 139h1v1h-1zM170 139h1v1h-1zM17 140h1v1h-1zM19 140h1v1h-1zM50 140h1v1h-1zM52 140h1v1h-1zM68 140h1v1h-1zM121 140h1v1h-1zM133 140h1v1h-1zM147 140h1v1h-1zM18 141h1v1h-1zM59 141h1v1h-1zM68 141h1v1h-1zM97 141h1v1h-1zM103 141h1v1h-1zM142 141h1v1h-1zM159 141h1v1h-1zM167 141h1v1h-1zM191 141h1v1h-1zM204 141h1v1h-1zM39 142h1v1h-1zM59 142h1v1h-1zM117 142h1v1h-1zM139 142h1v1h-1zM159 142h1v1h-1zM161 142h1v1h-1zM168 142h1v1h-1zM33 143h1v1h-1zM37 143h1v1h-1zM41 143h1v1h-1zM47 143h1v1h-1zM49 143h1v1h-1zM52 143h1v1h-1zM150 143h1v1h-1zM152 143h1v1h-1zM165 143h1v1h-1zM190 143h1v1h-1zM16 144h1v1h-1zM25 144h1v1h-1zM69 144h1v1h-1zM146 144h1v1h-1zM154 144h1v1h-1zM155 144h1v1h-1zM165 144h1v1h-1zM171 144h1v1h-1zM31 145h1v1h-1zM57 145h1v1h-1zM59 145h1v1h-1zM151 145h1v1h-1zM170 145h1v1h-1zM24 146h1v1h-1zM40 146h1v1h-1zM43 146h1v1h-1zM46 146h1v1h-1zM50 146h1v1h-1zM71 146h1v1h-1zM151 146h1v1h-1zM159 146h1v1h-1zM171 146h1v1h-1zM173 146h1v1h-1zM38 147h1v1h-1zM60 147h1v1h-1zM62 147h1v1h-1zM142 147h1v1h-1zM146 147h1v1h-1zM155 147h1v1h-1zM158 147h1v1h-1zM163 147h1v1h-1zM165 147h1v1h-1zM32 148h1v1h-1zM43 148h1v1h-1zM52 148h1v1h-1zM59 148h1v1h-1zM67 148h1v1h-1zM71 148h1v1h-1zM74 148h1v1h-1zM81 148h1v1h-1zM86 148h1v1h-1zM121 148h1v1h-1zM156 148h1v1h-1zM169 148h1v1h-1zM179 148h1v1h-1zM185 148h1v1h-1zM12 149h1v1h-1zM23 149h1v1h-1zM71 149h1v1h-1zM97 149h1v1h-1zM112 149h1v1h-1zM135 149h1v1h-1zM164 149h1v1h-1zM220 149h1v1h-1zM42 150h1v1h-1zM71 150h1v1h-1zM73 150h1v1h-1zM109 150h1v1h-1zM161 150h1v1h-1zM37 151h1v1h-1zM142 151h1v1h-1zM64 152h1v1h-1zM138 152h1v1h-1zM149 152h1v1h-1zM161 152h1v1h-1zM164 152h1v1h-1zM176 152h1v1h-1zM58 153h1v1h-1zM63 153h1v1h-1zM78 153h1v1h-1zM95 153h1v1h-1zM103 153h1v1h-1zM146 153h1v1h-1zM163 153h1v1h-1zM164 153h1v1h-1zM176 153h1v1h-1zM38 154h1v1h-1zM46 154h1v1h-1zM56 154h1v1h-1zM106 154h1v1h-1zM151 154h1v1h-1zM181 154h1v1h-1zM65 155h1v1h-1zM92 155h1v1h-1zM105 155h1v1h-1zM145 155h1v1h-1zM149 155h1v1h-1zM184 155h1v1h-1zM185 155h1v1h-1zM29 156h1v1h-1zM36 156h1v1h-1zM64 156h1v1h-1zM91 156h1v1h-1zM157 156h1v1h-1zM159 156h1v1h-1zM176 156h1v1h-1zM178 156h1v1h-1zM215 156h1v1h-1zM58 157h1v1h-1zM65 157h1v1h-1zM155 157h1v1h-1zM182 157h1v1h-1zM46 158h1v1h-1zM95 158h1v1h-1zM110 158h1v1h-1zM111 158h1v1h-1zM118 158h1v1h-1zM147 158h1v1h-1zM165 158h1v1h-1zM166 158h1v1h-1zM32 159h1v1h-1zM57 159h1v1h-1zM59 159h1v1h-1zM64 159h1v1h-1zM111 159h1v1h-1zM143 159h1v1h-1zM152 159h1v1h-1zM175 159h1v1h-1zM190 159h1v1h-1zM48 160h1v1h-1zM51 160h1v1h-1zM128 160h1v1h-1zM58 161h1v1h-1zM59 161h1v1h-1zM136 161h1v1h-1zM148 161h1v1h-1zM177 161h1v1h-1zM32 162h1v1h-1zM60 162h1v1h-1zM65 162h1v1h-1zM84 162h1v1h-1zM145 162h1v1h-1zM146 162h1v1h-1zM157 162h1v1h-1zM168 162h1v1h-1zM174 162h1v1h-1zM25 163h1v1h-1zM44 163h1v1h-1zM45 163h1v1h-1zM46 163h1v1h-1zM54 163h1v1h-1zM65 163h1v1h-1zM78 163h1v1h-1zM92 163h1v1h-1zM100 163h1v1h-1zM101 163h1v1h-1zM148 163h1v1h-1zM166 163h1v1h-1zM184 163h1v1h-1zM63 164h1v1h-1zM66 164h1v1h-1zM154 164h1v1h-1zM193 164h1v1h-1zM33 165h1v1h-1zM74 165h1v1h-1zM100 165h1v1h-1zM108 165h1v1h-1zM131 165h1v1h-1zM154 165h1v1h-1zM165 165h1v1h-1zM0 166h1v1h-1zM67 166h1v1h-1zM121 166h1v1h-1zM147 166h1v1h-1zM151 166h1v1h-1zM161 166h1v1h-1zM162 166h1v1h-1zM194 166h1v1h-1zM221 166h1v1h-1zM38 167h1v1h-1zM45 167h1v1h-1zM89 167h1v1h-1zM168 167h1v1h-1zM176 167h1v1h-1zM200 167h1v1h-1zM57 168h1v1h-1zM67 168h1v1h-1zM77 168h1v1h-1zM170 168h1v1h-1zM54 169h1v1h-1zM71 169h1v1h-1zM86 169h1v1h-1zM92 169h1v1h-1zM94 169h1v1h-1zM139 169h1v1h-1zM148 169h1v1h-1zM153 169h1v1h-1zM161 169h1v1h-1zM46 170h1v1h-1zM54 170h1v1h-1zM58 170h1v1h-1zM75 170h1v1h-1zM107 170h1v1h-1zM128 170h1v1h-1zM154 170h1v1h-1zM44 171h1v1h-1zM71 171h1v1h-1zM97 171h1v1h-1zM47 172h1v1h-1zM57 172h1v1h-1zM70 172h1v1h-1zM82 172h1v1h-1zM130 172h1v1h-1zM140 172h1v1h-1zM162 172h1v1h-1zM21 173h1v1h-1zM24 173h1v1h-1zM56 173h1v1h-1zM67 173h1v1h-1zM68 173h1v1h-1zM72 173h1v1h-1zM82 173h1v1h-1zM100 173h1v1h-1zM116 173h1v1h-1zM137 173h1v1h-1zM170 173h1v1h-1zM191 173h1v1h-1zM61 174h1v1h-1zM86 174h1v1h-1zM92 174h1v1h-1zM116 174h1v1h-1zM124 174h1v1h-1zM144 174h1v1h-1zM182 174h1v1h-1zM46 175h1v1h-1zM84 175h1v1h-1zM86 175h1v1h-1zM97 175h1v1h-1zM99 175h1v1h-1zM109 175h1v1h-1zM126 175h1v1h-1zM132 175h1v1h-1zM143 175h1v1h-1zM193 175h1v1h-1zM216 175h1v1h-1zM58 176h1v1h-1zM63 176h1v1h-1zM117 176h1v1h-1zM129 176h1v1h-1zM135 176h1v1h-1zM139 176h1v1h-1zM147 176h1v1h-1zM156 176h1v1h-1zM157 176h1v1h-1zM39 177h1v1h-1zM64 177h1v1h-1zM105 177h1v1h-1zM108 177h1v1h-1zM114 177h1v1h-1zM150 177h1v1h-1zM161 177h1v1h-1zM183 177h1v1h-1zM76 178h1v1h-1zM81 178h1v1h-1zM111 178h1v1h-1zM122 178h1v1h-1zM125 178h1v1h-1zM132 178h1v1h-1zM137 178h1v1h-1zM166 178h1v1h-1zM207 178h1v1h-1zM25 179h1v1h-1zM39 179h1v1h-1zM61 179h1v1h-1zM84 179h1v1h-1zM89 179h1v1h-1zM99 179h1v1h-1zM112 179h1v1h-1zM118 179h1v1h-1zM123 179h1v1h-1zM128 179h1v1h-1zM129 179h1v1h-1zM140 179h1v1h-1zM141 179h1v1h-1zM158 179h1v1h-1zM88 180h1v1h-1zM120 180h1v1h-1zM132 180h1v1h-1zM133 180h1v1h-1zM141 180h1v1h-1zM195 180h1v1h-1zM24 181h1v1h-1zM60 181h1v1h-1zM78 181h1v1h-1zM84 181h1v1h-1zM87 181h1v1h-1zM89 181h1v1h-1zM95 181h1v1h-1zM96 181h1v1h-1zM100 181h1v1h-1zM115 181h1v1h-1zM120 181h1v1h-1zM121 181h1v1h-1zM134 181h1v1h-1zM145 181h1v1h-1zM183 181h1v1h-1zM29 182h1v1h-1zM45 182h1v1h-1zM56 182h1v1h-1zM59 182h1v1h-1zM69 182h1v1h-1zM76 182h1v1h-1zM86 182h1v1h-1zM88 182h1v1h-1zM90 182h1v1h-1zM94 182h1v1h-1zM101 182h1v1h-1zM115 182h1v1h-1zM128 182h1v1h-1zM137 182h1v1h-1zM143 182h1v1h-1zM154 182h1v1h-1zM176 182h1v1h-1zM68 183h1v1h-1zM100 183h1v1h-1zM110 183h1v1h-1zM128 183h1v1h-1zM130 183h1v1h-1zM134 183h1v1h-1zM139 183h1v1h-1zM158 183h1v1h-1zM160 183h1v1h-1zM168 183h1v1h-1zM37 184h1v1h-1zM59 184h1v1h-1zM75 184h1v1h-1zM92 184h1v1h-1zM111 184h1v1h-1zM128 184h1v1h-1zM161 184h1v1h-1zM84 185h1v1h-1zM126 185h1v1h-1zM139 185h1v1h-1zM144 185h1v1h-1zM173 185h1v1h-1zM94 186h1v1h-1zM102 186h1v1h-1zM106 186h1v1h-1zM108 186h1v1h-1zM122 186h1v1h-1zM127 186h1v1h-1zM131 186h1v1h-1zM142 186h1v1h-1zM76 187h1v1h-1zM79 187h1v1h-1zM82 187h1v1h-1zM129 187h1v1h-1zM133 187h1v1h-1zM153 187h1v1h-1zM183 187h1v1h-1zM71 188h1v1h-1zM80 188h1v1h-1zM85 188h1v1h-1zM90 188h1v1h-1zM93 188h1v1h-1zM135 188h1v1h-1zM142 188h1v1h-1zM74 189h1v1h-1zM75 189h1v1h-1zM95 189h1v1h-1zM100 189h1v1h-1zM116 189h1v1h-1zM122 189h1v1h-1zM127 189h1v1h-1zM149 189h1v1h-1zM151 189h1v1h-1zM25 190h1v1h-1zM43 190h1v1h-1zM70 190h1v1h-1zM81 190h1v1h-1zM90 190h1v1h-1zM116 190h1v1h-1zM122 190h1v1h-1zM138 190h1v1h-1zM140 190h1v1h-1zM192 190h1v1h-1zM89 191h1v1h-1zM98 191h1v1h-1zM112 191h1v1h-1zM140 191h1v1h-1zM146 191h1v1h-1zM154 191h1v1h-1zM166 191h1v1h-1zM167 191h1v1h-1zM24 192h1v1h-1zM36 192h1v1h-1zM73 192h1v1h-1zM75 192h1v1h-1zM82 192h1v1h-1zM83 192h1v1h-1zM132 192h1v1h-1zM180 192h1v1h-1zM57 193h1v1h-1zM91 193h1v1h-1zM96 193h1v1h-1zM123 193h1v1h-1zM127 193h1v1h-1zM128 193h1v1h-1zM129 193h1v1h-1zM148 193h1v1h-1zM166 193h1v1h-1zM167 193h1v1h-1zM64 194h1v1h-1zM72 194h1v1h-1zM108 194h1v1h-1zM141 194h1v1h-1zM143 194h1v1h-1zM149 194h1v1h-1zM20 195h1v1h-1zM66 195h1v1h-1zM77 195h1v1h-1zM86 195h1v1h-1zM93 195h1v1h-1zM122 195h1v1h-1zM134 195h1v1h-1zM25 196h1v1h-1zM44 196h1v1h-1zM79 196h1v1h-1zM133 196h1v1h-1zM153 196h1v1h-1zM20 197h1v1h-1zM64 197h1v1h-1zM98 197h1v1h-1zM100 197h1v1h-1zM107 197h1v1h-1zM130 197h1v1h-1zM133 197h1v1h-1zM161 197h1v1h-1zM164 197h1v1h-1zM79 198h1v1h-1zM109 198h1v1h-1zM126 198h1v1h-1zM144 198h1v1h-1zM147 198h1v1h-1zM152 198h1v1h-1zM43 199h1v1h-1zM99 199h1v1h-1zM135 199h1v1h-1zM27 200h1v1h-1zM45 200h1v1h-1zM49 200h1v1h-1zM72 200h1v1h-1zM82 200h1v1h-1zM164 200h1v1h-1zM24 201h1v1h-1zM49 201h1v1h-1zM51 201h1v1h-1zM85 201h1v1h-1zM99 201h1v1h-1zM143 201h1v1h-1zM144 201h1v1h-1zM200 201h1v1h-1zM50 202h1v1h-1zM80 202h1v1h-1zM95 203h1v1h-1zM99 203h1v1h-1zM115 203h1v1h-1zM126 203h1v1h-1zM147 203h1v1h-1zM56 204h1v1h-1zM79 204h1v1h-1zM83 204h1v1h-1zM93 204h1v1h-1zM126 204h1v1h-1zM73 205h1v1h-1zM103 205h1v1h-1zM108 205h1v1h-1zM154 205h1v1h-1zM69 206h1v1h-1zM98 206h1v1h-1zM172 206h1v1h-1zM182 206h1v1h-1zM92 207h1v1h-1zM94 207h1v1h-1zM103 207h1v1h-1zM123 207h1v1h-1zM132 207h1v1h-1zM161 207h1v1h-1zM164 207h1v1h-1zM117 208h1v1h-1zM195 208h1v1h-1zM108 209h1v1h-1zM110 209h1v1h-1zM174 209h1v1h-1zM65 210h1v1h-1zM77 210h1v1h-1zM136 210h1v1h-1zM142 210h1v1h-1zM51 211h1v1h-1zM92 212h1v1h-1zM121 212h1v1h-1zM81 213h1v1h-1zM175 213h1v1h-1zM182 213h1v1h-1zM91 214h1v1h-1zM134 214h1v1h-1zM153 214h1v1h-1zM105 215h1v1h-1zM130 215h1v1h-1zM143 216h1v1h-1zM179 216h1v1h-1zM194 216h1v1h-1zM96 217h1v1h-1zM49 218h1v1h-1zM103 218h1v1h-1zM108 218h1v1h-1zM111 218h1v1h-1zM134 218h1v1h-1zM140 218h1v1h-1zM166 219h1v1h-1zM66 220h1v1h-1zM115 220h1v1h-1zM128 220h1v1h-1zM140 220h1v1h-1zM98 221h1v1h-1zM91 223h1v1h-1zM141 223h1v1h-1zM150 223h1v1h-1zM54 224h1v1h-1zM77 224h1v1h-1zM153 224h1v1h-1zM161 224h1v1h-1zM155 225h1v1h-1zM80 226h1v1h-1zM175 226h1v1h-1zM101 229h1v1h-1zM127 229h1v1h-1zM83 230h1v1h-1zM69 231h1v1h-1zM71 231h1v1h-1zM81 231h1v1h-1zM163 231h1v1h-1zM66 233h1v1h-1zM113 234h1v1h-1zM86 238h1v1h-1zM96 238h1v1h-1zM122 238h1v1h-1zM127 238h1v1h-1zM117 239h1v1h-1zM103 240h1v1h-1zM146 240h1v1h-1zM88 241h1v1h-1zM65 242h1v1h-1zM118 242h1v1h-1zM103 247h1v1h-1zM88 248h1v1h-1zM164 248h1v1h-1zM125 251h1v1h-1zM123 252h1v1h-1zM81 256h1v1h-1z"/>
<path fill="#9aade8" d="M115 34h1v1h-1zM116 37h1v1h-1zM101 40h1v1h-1zM79 42h1v1h-1zM71 44h1v1h-1zM90 46h1v1h-1zM85 49h1v1h-1zM96 49h1v1h-1zM115 49h1v1h-1zM119 50h1v1h-1zM82 51h1v1h-1zM99 51h1v1h-1zM58 53h1v1h-1zM52 54h1v1h-1zM75 54h1v1h-1zM96 55h1v1h-1zM44 56h1v1h-1zM107 56h1v1h-1zM122 56h1v1h-1zM153 57h1v1h-1zM63 58h1v1h-1zM91 59h1v1h-1zM53 62h1v1h-1zM109 62h1v1h-1zM116 62h1v1h-1zM79 64h1v1h-1zM80 64h1v1h-1zM170 64h1v1h-1zM88 65h1v1h-1zM41 67h1v1h-1zM185 67h1v1h-1zM78 68h1v1h-1zM131 68h1v1h-1zM54 69h1v1h-1zM76 69h1v1h-1zM124 69h1v1h-1zM97 70h1v1h-1zM105 70h1v1h-1zM112 70h1v1h-1zM123 70h1v1h-1zM145 70h1v1h-1zM151 70h1v1h-1zM155 70h1v1h-1zM81 71h1v1h-1zM98 71h1v1h-1zM71 72h1v1h-1zM90 72h1v1h-1zM116 72h1v1h-1zM150 72h1v1h-1zM172 72h1v1h-1zM173 72h1v1h-1zM34 73h1v1h-1zM86 73h1v1h-1zM104 73h1v1h-1zM81 74h1v1h-1zM132 74h1v1h-1zM173 74h1v1h-1zM75 75h1v1h-1zM125 75h1v1h-1zM160 75h1v1h-1zM161 75h1v1h-1zM67 76h1v1h-1zM85 76h1v1h-1zM91 76h1v1h-1zM99 76h1v1h-1zM100 76h1v1h-1zM160 76h1v1h-1zM113 77h1v1h-1zM117 77h1v1h-1zM165 77h1v1h-1zM168 77h1v1h-1zM123 78h1v1h-1zM142 78h1v1h-1zM158 78h1v1h-1zM195 78h1v1h-1zM110 79h1v1h-1zM102 80h1v1h-1zM108 80h1v1h-1zM118 80h1v1h-1zM199 80h1v1h-1zM28 81h1v1h-1zM66 81h1v1h-1zM128 81h1v1h-1zM130 81h1v1h-1zM149 81h1v1h-1zM176 81h1v1h-1zM67 82h1v1h-1zM101 82h1v1h-1zM148 82h1v1h-1zM172 82h1v1h-1zM179 82h1v1h-1zM86 83h1v1h-1zM96 83h1v1h-1zM143 83h1v1h-1zM102 84h1v1h-1zM109 84h1v1h-1zM148 84h1v1h-1zM73 85h1v1h-1zM75 85h1v1h-1zM100 85h1v1h-1zM102 85h1v1h-1zM115 85h1v1h-1zM127 85h1v1h-1zM133 85h1v1h-1zM137 85h1v1h-1zM38 86h1v1h-1zM63 86h1v1h-1zM101 86h1v1h-1zM122 86h1v1h-1zM133 86h1v1h-1zM143 86h1v1h-1zM155 86h1v1h-1zM191 86h1v1h-1zM61 87h1v1h-1zM70 87h1v1h-1zM94 87h1v1h-1zM103 87h1v1h-1zM104 87h1v1h-1zM115 87h1v1h-1zM116 87h1v1h-1zM123 87h1v1h-1zM124 87h1v1h-1zM125 87h1v1h-1zM127 87h1v1h-1zM136 87h1v1h-1zM147 87h1v1h-1zM64 88h1v1h-1zM81 88h1v1h-1zM90 88h1v1h-1zM95 88h1v1h-1zM103 88h1v1h-1zM105 88h1v1h-1zM109 88h1v1h-1zM137 88h1v1h-1zM52 89h1v1h-1zM75 89h1v1h-1zM86 89h1v1h-1zM148 89h1v1h-1zM55 90h1v1h-1zM76 90h1v1h-1zM79 90h1v1h-1zM85 90h1v1h-1zM105 90h1v1h-1zM110 90h1v1h-1zM114 90h1v1h-1zM115 90h1v1h-1zM117 90h1v1h-1zM151 90h1v1h-1zM206 90h1v1h-1zM60 91h1v1h-1zM61 91h1v1h-1zM77 91h1v1h-1zM103 91h1v1h-1zM127 91h1v1h-1zM158 91h1v1h-1zM159 91h1v1h-1zM74 92h1v1h-1zM81 92h1v1h-1zM87 92h1v1h-1zM104 92h1v1h-1zM111 92h1v1h-1zM120 92h1v1h-1zM47 93h1v1h-1zM65 93h1v1h-1zM73 93h1v1h-1zM102 93h1v1h-1zM112 93h1v1h-1zM121 93h1v1h-1zM139 93h1v1h-1zM148 93h1v1h-1zM170 93h1v1h-1zM64 94h1v1h-1zM77 94h1v1h-1zM107 94h1v1h-1zM108 94h1v1h-1zM124 94h1v1h-1zM130 94h1v1h-1zM151 94h1v1h-1zM70 95h1v1h-1zM77 95h1v1h-1zM93 95h1v1h-1zM133 95h1v1h-1zM154 95h1v1h-1zM172 95h1v1h-1zM78 96h1v1h-1zM93 96h1v1h-1zM143 96h1v1h-1zM158 96h1v1h-1zM160 96h1v1h-1zM32 97h1v1h-1zM84 97h1v1h-1zM90 97h1v1h-1zM106 97h1v1h-1zM109 97h1v1h-1zM110 97h1v1h-1zM118 97h1v1h-1zM120 97h1v1h-1zM135 97h1v1h-1zM140 97h1v1h-1zM143 97h1v1h-1zM147 97h1v1h-1zM162 97h1v1h-1zM85 98h1v1h-1zM108 98h1v1h-1zM128 98h1v1h-1zM129 98h1v1h-1zM130 98h1v1h-1zM139 98h1v1h-1zM163 98h1v1h-1zM166 98h1v1h-1zM57 99h1v1h-1zM116 99h1v1h-1zM128 99h1v1h-1zM132 99h1v1h-1zM142 99h1v1h-1zM152 99h1v1h-1zM163 99h1v1h-1zM25 100h1v1h-1zM43 100h1v1h-1zM73 100h1v1h-1zM77 100h1v1h-1zM84 100h1v1h-1zM102 100h1v1h-1zM116 100h1v1h-1zM126 100h1v1h-1zM145 100h1v1h-1zM153 100h1v1h-1zM67 101h1v1h-1zM93 101h1v1h-1zM109 101h1v1h-1zM118 101h1v1h-1zM145 101h1v1h-1zM43 102h1v1h-1zM85 102h1v1h-1zM97 102h1v1h-1zM103 102h1v1h-1zM105 102h1v1h-1zM107 102h1v1h-1zM109 102h1v1h-1zM113 102h1v1h-1zM114 102h1v1h-1zM118 102h1v1h-1zM122 102h1v1h-1zM127 102h1v1h-1zM132 102h1v1h-1zM137 102h1v1h-1zM139 102h1v1h-1zM183 102h1v1h-1zM195 102h1v1h-1zM19 103h1v1h-1zM33 103h1v1h-1zM67 103h1v1h-1zM85 103h1v1h-1zM92 103h1v1h-1zM107 103h1v1h-1zM109 103h1v1h-1zM127 103h1v1h-1zM141 103h1v1h-1zM142 103h1v1h-1zM159 103h1v1h-1zM47 104h1v1h-1zM70 104h1v1h-1zM100 104h1v1h-1zM103 104h1v1h-1zM120 104h1v1h-1zM164 104h1v1h-1zM195 104h1v1h-1zM56 105h1v1h-1zM59 105h1v1h-1zM90 105h1v1h-1zM106 105h1v1h-1zM107 105h1v1h-1zM145 105h1v1h-1zM157 105h1v1h-1zM200 105h1v1h-1zM61 106h1v1h-1zM89 106h1v1h-1zM118 106h1v1h-1zM135 106h1v1h-1zM137 106h1v1h-1zM165 106h1v1h-1zM168 106h1v1h-1zM48 107h1v1h-1zM59 107h1v1h-1zM85 107h1v1h-1zM89 107h1v1h-1zM92 107h1v1h-1zM95 107h1v1h-1zM116 107h1v1h-1zM119 107h1v1h-1zM131 107h1v1h-1zM133 107h1v1h-1zM134 107h1v1h-1zM24 108h1v1h-1zM59 108h1v1h-1zM62 108h1v1h-1zM69 108h1v1h-1zM76 108h1v1h-1zM82 108h1v1h-1zM123 108h1v1h-1zM142 108h1v1h-1zM143 108h1v1h-1zM144 108h1v1h-1zM155 108h1v1h-1zM31 109h1v1h-1zM80 109h1v1h-1zM137 109h1v1h-1zM139 109h1v1h-1zM145 109h1v1h-1zM163 109h1v1h-1zM177 109h1v1h-1zM186 109h1v1h-1zM196 109h1v1h-1zM63 110h1v1h-1zM74 110h1v1h-1zM84 110h1v1h-1zM85 110h1v1h-1zM97 110h1v1h-1zM117 110h1v1h-1zM133 110h1v1h-1zM150 110h1v1h-1zM25 111h1v1h-1zM67 111h1v1h-1zM129 111h1v1h-1zM135 111h1v1h-1zM136 111h1v1h-1zM140 111h1v1h-1zM165 111h1v1h-1zM18 112h1v1h-1zM26 112h1v1h-1zM69 112h1v1h-1zM71 112h1v1h-1zM77 112h1v1h-1zM83 112h1v1h-1zM88 112h1v1h-1zM108 112h1v1h-1zM128 112h1v1h-1zM149 112h1v1h-1zM214 112h1v1h-1zM5 113h1v1h-1zM54 113h1v1h-1zM62 113h1v1h-1zM67 113h1v1h-1zM81 113h1v1h-1zM101 113h1v1h-1zM134 113h1v1h-1zM58 114h1v1h-1zM62 114h1v1h-1zM67 114h1v1h-1zM72 114h1v1h-1zM78 114h1v1h-1zM82 114h1v1h-1zM85 114h1v1h-1zM86 114h1v1h-1zM87 114h1v1h-1zM93 114h1v1h-1zM136 114h1v1h-1zM143 114h1v1h-1zM174 114h1v1h-1zM95 115h1v1h-1zM137 115h1v1h-1zM147 115h1v1h-1zM154 115h1v1h-1zM172 115h1v1h-1zM186 115h1v1h-1zM56 116h1v1h-1zM92 116h1v1h-1zM117 116h1v1h-1zM133 116h1v1h-1zM153 116h1v1h-1zM159 116h1v1h-1zM198 116h1v1h-1zM47 117h1v1h-1zM62 117h1v1h-1zM75 117h1v1h-1zM137 117h1v1h-1zM150 117h1v1h-1zM167 117h1v1h-1zM34 118h1v1h-1zM51 118h1v1h-1zM77 118h1v1h-1zM128 118h1v1h-1zM157 118h1v1h-1zM167 118h1v1h-1zM184 118h1v1h-1zM37 119h1v1h-1zM58 119h1v1h-1zM59 119h1v1h-1zM93 119h1v1h-1zM146 119h1v1h-1zM163 119h1v1h-1zM164 119h1v1h-1zM168 119h1v1h-1zM52 120h1v1h-1zM59 120h1v1h-1zM65 120h1v1h-1zM69 120h1v1h-1zM109 120h1v1h-1zM146 120h1v1h-1zM148 120h1v1h-1zM155 120h1v1h-1zM160 120h1v1h-1zM193 120h1v1h-1zM20 121h1v1h-1zM37 121h1v1h-1zM53 121h1v1h-1zM60 121h1v1h-1zM66 121h1v1h-1zM67 121h1v1h-1zM140 121h1v1h-1zM143 121h1v1h-1zM163 121h1v1h-1zM171 121h1v1h-1zM223 121h1v1h-1zM47 122h1v1h-1zM49 122h1v1h-1zM59 122h1v1h-1zM124 122h1v1h-1zM140 122h1v1h-1zM143 122h1v1h-1zM155 122h1v1h-1zM170 122h1v1h-1zM43 123h1v1h-1zM52 123h1v1h-1zM71 123h1v1h-1zM82 123h1v1h-1zM136 123h1v1h-1zM176 123h1v1h-1zM200 123h1v1h-1zM24 124h1v1h-1zM78 124h1v1h-1zM147 124h1v1h-1zM148 124h1v1h-1zM169 124h1v1h-1zM28 125h1v1h-1zM58 125h1v1h-1zM61 125h1v1h-1zM62 125h1v1h-1zM197 125h1v1h-1zM0 126h1v1h-1zM57 126h1v1h-1zM67 126h1v1h-1zM68 126h1v1h-1zM132 126h1v1h-1zM142 126h1v1h-1zM145 126h1v1h-1zM157 126h1v1h-1zM158 126h1v1h-1zM161 126h1v1h-1zM218 126h1v1h-1zM53 127h1v1h-1zM56 127h1v1h-1zM65 127h1v1h-1zM76 127h1v1h-1zM137 127h1v1h-1zM147 127h1v1h-1zM148 127h1v1h-1zM151 127h1v1h-1zM154 127h1v1h-1zM155 127h1v1h-1zM172 127h1v1h-1zM185 127h1v1h-1zM217 127h1v1h-1zM53 128h1v1h-1zM69 128h1v1h-1zM146 128h1v1h-1zM147 128h1v1h-1zM150 128h1v1h-1zM165 128h1v1h-1zM167 128h1v1h-1zM169 128h1v1h-1zM171 128h1v1h-1zM174 128h1v1h-1zM197 128h1v1h-1zM51 129h1v1h-1zM64 129h1v1h-1zM90 129h1v1h-1zM119 129h1v1h-1zM148 129h1v1h-1zM74 130h1v1h-1zM126 130h1v1h-1zM143 130h1v1h-1zM155 130h1v1h-1zM177 130h1v1h-1zM203 130h1v1h-1zM11 131h1v1h-1zM71 131h1v1h-1zM144 131h1v1h-1zM185 131h1v1h-1zM39 132h1v1h-1zM43 132h1v1h-1zM52 132h1v1h-1zM174 132h1v1h-1zM51 133h1v1h-1zM59 133h1v1h-1zM68 133h1v1h-1zM124 133h1v1h-1zM176 133h1v1h-1zM7 134h1v1h-1zM30 134h1v1h-1zM52 134h1v1h-1zM55 134h1v1h-1zM67 134h1v1h-1zM93 134h1v1h-1zM122 134h1v1h-1zM161 134h1v1h-1zM177 134h1v1h-1zM180 134h1v1h-1zM220 134h1v1h-1zM24 135h1v1h-1zM80 135h1v1h-1zM125 135h1v1h-1zM176 135h1v1h-1zM55 136h1v1h-1zM107 136h1v1h-1zM142 136h1v1h-1zM147 136h1v1h-1zM160 136h1v1h-1zM164 136h1v1h-1zM168 136h1v1h-1zM182 136h1v1h-1zM187 136h1v1h-1zM37 137h1v1h-1zM47 137h1v1h-1zM61 137h1v1h-1zM72 137h1v1h-1zM99 137h1v1h-1zM149 137h1v1h-1zM163 137h1v1h-1zM47 138h1v1h-1zM54 138h1v1h-1zM101 138h1v1h-1zM2 139h1v1h-1zM12 139h1v1h-1zM90 139h1v1h-1zM147 139h1v1h-1zM59 140h1v1h-1zM151 140h1v1h-1zM158 140h1v1h-1zM161 140h1v1h-1zM106 141h1v1h-1zM152 141h1v1h-1zM178 141h1v1h-1zM47 142h1v1h-1zM98 142h1v1h-1zM177 142h1v1h-1zM210 142h1v1h-1zM18 143h1v1h-1zM22 143h1v1h-1zM66 143h1v1h-1zM69 143h1v1h-1zM71 143h1v1h-1zM85 143h1v1h-1zM146 143h1v1h-1zM162 143h1v1h-1zM46 144h1v1h-1zM50 144h1v1h-1zM55 144h1v1h-1zM95 144h1v1h-1zM133 144h1v1h-1zM145 144h1v1h-1zM166 144h1v1h-1zM167 144h1v1h-1zM205 144h1v1h-1zM49 145h1v1h-1zM60 145h1v1h-1zM94 145h1v1h-1zM136 145h1v1h-1zM180 145h1v1h-1zM202 145h1v1h-1zM59 146h1v1h-1zM62 146h1v1h-1zM147 146h1v1h-1zM149 146h1v1h-1zM166 146h1v1h-1zM64 147h1v1h-1zM108 147h1v1h-1zM139 147h1v1h-1zM152 147h1v1h-1zM153 147h1v1h-1zM160 147h1v1h-1zM199 147h1v1h-1zM162 148h1v1h-1zM38 149h1v1h-1zM54 149h1v1h-1zM69 149h1v1h-1zM80 149h1v1h-1zM89 149h1v1h-1zM98 149h1v1h-1zM143 149h1v1h-1zM147 149h1v1h-1zM148 149h1v1h-1zM178 149h1v1h-1zM43 150h1v1h-1zM51 150h1v1h-1zM56 150h1v1h-1zM58 150h1v1h-1zM144 150h1v1h-1zM170 150h1v1h-1zM195 150h1v1h-1zM166 151h1v1h-1zM209 151h1v1h-1zM56 152h1v1h-1zM58 152h1v1h-1zM69 152h1v1h-1zM77 152h1v1h-1zM147 152h1v1h-1zM151 152h1v1h-1zM163 152h1v1h-1zM185 152h1v1h-1zM17 153h1v1h-1zM34 153h1v1h-1zM64 153h1v1h-1zM128 153h1v1h-1zM135 153h1v1h-1zM155 153h1v1h-1zM170 153h1v1h-1zM191 153h1v1h-1zM69 154h1v1h-1zM73 154h1v1h-1zM74 154h1v1h-1zM80 154h1v1h-1zM97 154h1v1h-1zM109 154h1v1h-1zM149 154h1v1h-1zM153 154h1v1h-1zM165 154h1v1h-1zM174 154h1v1h-1zM28 155h1v1h-1zM76 155h1v1h-1zM84 155h1v1h-1zM154 155h1v1h-1zM157 155h1v1h-1zM162 155h1v1h-1zM164 155h1v1h-1zM165 155h1v1h-1zM30 156h1v1h-1zM48 156h1v1h-1zM61 156h1v1h-1zM70 156h1v1h-1zM103 156h1v1h-1zM142 156h1v1h-1zM165 156h1v1h-1zM61 157h1v1h-1zM64 157h1v1h-1zM66 157h1v1h-1zM69 157h1v1h-1zM73 157h1v1h-1zM82 157h1v1h-1zM149 157h1v1h-1zM150 157h1v1h-1zM153 157h1v1h-1zM154 157h1v1h-1zM162 157h1v1h-1zM185 157h1v1h-1zM59 158h1v1h-1zM155 158h1v1h-1zM159 158h1v1h-1zM50 159h1v1h-1zM58 159h1v1h-1zM66 159h1v1h-1zM67 159h1v1h-1zM68 159h1v1h-1zM79 159h1v1h-1zM149 159h1v1h-1zM155 159h1v1h-1zM167 159h1v1h-1zM66 160h1v1h-1zM76 160h1v1h-1zM99 160h1v1h-1zM153 160h1v1h-1zM24 161h1v1h-1zM68 161h1v1h-1zM88 161h1v1h-1zM142 161h1v1h-1zM144 161h1v1h-1zM146 161h1v1h-1zM166 161h1v1h-1zM180 161h1v1h-1zM35 162h1v1h-1zM68 162h1v1h-1zM75 162h1v1h-1zM76 162h1v1h-1zM77 162h1v1h-1zM78 162h1v1h-1zM119 162h1v1h-1zM131 162h1v1h-1zM143 162h1v1h-1zM150 162h1v1h-1zM52 163h1v1h-1zM61 163h1v1h-1zM68 163h1v1h-1zM76 163h1v1h-1zM115 163h1v1h-1zM151 163h1v1h-1zM154 163h1v1h-1zM181 163h1v1h-1zM194 163h1v1h-1zM29 164h1v1h-1zM81 164h1v1h-1zM83 164h1v1h-1zM105 164h1v1h-1zM118 164h1v1h-1zM148 164h1v1h-1zM149 164h1v1h-1zM59 165h1v1h-1zM70 165h1v1h-1zM73 165h1v1h-1zM78 165h1v1h-1zM87 165h1v1h-1zM92 165h1v1h-1zM127 165h1v1h-1zM139 165h1v1h-1zM150 165h1v1h-1zM175 165h1v1h-1zM34 166h1v1h-1zM49 166h1v1h-1zM56 166h1v1h-1zM65 166h1v1h-1zM131 166h1v1h-1zM143 166h1v1h-1zM152 166h1v1h-1zM43 167h1v1h-1zM53 167h1v1h-1zM55 167h1v1h-1zM90 167h1v1h-1zM109 167h1v1h-1zM119 167h1v1h-1zM122 167h1v1h-1zM151 167h1v1h-1zM153 167h1v1h-1zM161 167h1v1h-1zM185 167h1v1h-1zM19 168h1v1h-1zM46 168h1v1h-1zM61 168h1v1h-1zM65 168h1v1h-1zM73 168h1v1h-1zM75 168h1v1h-1zM120 168h1v1h-1zM135 168h1v1h-1zM136 168h1v1h-1zM151 168h1v1h-1zM152 168h1v1h-1zM192 168h1v1h-1zM53 169h1v1h-1zM68 169h1v1h-1zM70 169h1v1h-1zM144 169h1v1h-1zM160 169h1v1h-1zM167 169h1v1h-1zM35 170h1v1h-1zM66 170h1v1h-1zM78 170h1v1h-1zM103 170h1v1h-1zM117 170h1v1h-1zM141 170h1v1h-1zM146 170h1v1h-1zM157 170h1v1h-1zM163 170h1v1h-1zM185 170h1v1h-1zM53 171h1v1h-1zM79 171h1v1h-1zM83 171h1v1h-1zM87 171h1v1h-1zM146 171h1v1h-1zM149 171h1v1h-1zM157 171h1v1h-1zM41 172h1v1h-1zM69 172h1v1h-1zM73 172h1v1h-1zM90 172h1v1h-1zM98 172h1v1h-1zM106 172h1v1h-1zM123 172h1v1h-1zM128 172h1v1h-1zM134 172h1v1h-1zM136 172h1v1h-1zM139 172h1v1h-1zM143 172h1v1h-1zM164 172h1v1h-1zM172 172h1v1h-1zM173 172h1v1h-1zM174 172h1v1h-1zM65 173h1v1h-1zM81 173h1v1h-1zM94 173h1v1h-1zM111 173h1v1h-1zM119 173h1v1h-1zM130 173h1v1h-1zM157 173h1v1h-1zM2 174h1v1h-1zM45 174h1v1h-1zM76 174h1v1h-1zM82 174h1v1h-1zM88 174h1v1h-1zM128 174h1v1h-1zM131 174h1v1h-1zM138 174h1v1h-1zM154 174h1v1h-1zM164 174h1v1h-1zM166 174h1v1h-1zM173 174h1v1h-1zM36 175h1v1h-1zM81 175h1v1h-1zM128 175h1v1h-1zM144 175h1v1h-1zM162 175h1v1h-1zM179 175h1v1h-1zM181 175h1v1h-1zM182 175h1v1h-1zM55 176h1v1h-1zM65 176h1v1h-1zM83 176h1v1h-1zM86 176h1v1h-1zM149 176h1v1h-1zM151 176h1v1h-1zM166 176h1v1h-1zM45 177h1v1h-1zM61 177h1v1h-1zM75 177h1v1h-1zM79 177h1v1h-1zM86 177h1v1h-1zM98 177h1v1h-1zM102 177h1v1h-1zM129 177h1v1h-1zM144 177h1v1h-1zM16 178h1v1h-1zM53 178h1v1h-1zM54 178h1v1h-1zM73 178h1v1h-1zM78 178h1v1h-1zM79 178h1v1h-1zM89 178h1v1h-1zM94 178h1v1h-1zM117 178h1v1h-1zM124 178h1v1h-1zM141 178h1v1h-1zM147 178h1v1h-1zM149 178h1v1h-1zM170 178h1v1h-1zM182 178h1v1h-1zM59 179h1v1h-1zM71 179h1v1h-1zM95 179h1v1h-1zM100 179h1v1h-1zM103 179h1v1h-1zM108 179h1v1h-1zM131 179h1v1h-1zM138 179h1v1h-1zM148 179h1v1h-1zM149 179h1v1h-1zM71 180h1v1h-1zM86 180h1v1h-1zM99 180h1v1h-1zM112 180h1v1h-1zM113 180h1v1h-1zM117 180h1v1h-1zM121 180h1v1h-1zM156 180h1v1h-1zM157 180h1v1h-1zM160 180h1v1h-1zM49 181h1v1h-1zM85 181h1v1h-1zM92 181h1v1h-1zM111 181h1v1h-1zM118 181h1v1h-1zM122 181h1v1h-1zM125 181h1v1h-1zM131 181h1v1h-1zM135 181h1v1h-1zM144 181h1v1h-1zM170 181h1v1h-1zM177 181h1v1h-1zM93 182h1v1h-1zM96 182h1v1h-1zM107 182h1v1h-1zM116 182h1v1h-1zM118 182h1v1h-1zM123 182h1v1h-1zM129 182h1v1h-1zM130 182h1v1h-1zM160 182h1v1h-1zM91 183h1v1h-1zM131 183h1v1h-1zM136 183h1v1h-1zM138 183h1v1h-1zM156 183h1v1h-1zM66 184h1v1h-1zM68 184h1v1h-1zM77 184h1v1h-1zM129 184h1v1h-1zM134 184h1v1h-1zM138 184h1v1h-1zM140 184h1v1h-1zM150 184h1v1h-1zM160 184h1v1h-1zM186 184h1v1h-1zM22 185h1v1h-1zM77 185h1v1h-1zM114 185h1v1h-1zM117 185h1v1h-1zM119 185h1v1h-1zM125 185h1v1h-1zM152 185h1v1h-1zM38 186h1v1h-1zM92 186h1v1h-1zM97 186h1v1h-1zM126 186h1v1h-1zM160 186h1v1h-1zM57 187h1v1h-1zM65 187h1v1h-1zM73 187h1v1h-1zM81 187h1v1h-1zM86 187h1v1h-1zM113 187h1v1h-1zM125 187h1v1h-1zM172 187h1v1h-1zM177 187h1v1h-1zM59 188h1v1h-1zM95 188h1v1h-1zM116 188h1v1h-1zM127 188h1v1h-1zM136 188h1v1h-1zM150 188h1v1h-1zM92 189h1v1h-1zM96 189h1v1h-1zM108 189h1v1h-1zM113 189h1v1h-1zM125 189h1v1h-1zM30 190h1v1h-1zM46 190h1v1h-1zM74 190h1v1h-1zM121 190h1v1h-1zM125 190h1v1h-1zM151 190h1v1h-1zM68 191h1v1h-1zM75 191h1v1h-1zM79 191h1v1h-1zM93 191h1v1h-1zM94 191h1v1h-1zM170 191h1v1h-1zM173 191h1v1h-1zM177 191h1v1h-1zM52 192h1v1h-1zM72 192h1v1h-1zM106 192h1v1h-1zM112 192h1v1h-1zM131 192h1v1h-1zM49 193h1v1h-1zM50 193h1v1h-1zM65 193h1v1h-1zM79 193h1v1h-1zM81 193h1v1h-1zM113 193h1v1h-1zM126 193h1v1h-1zM133 193h1v1h-1zM135 193h1v1h-1zM141 193h1v1h-1zM145 193h1v1h-1zM195 193h1v1h-1zM94 194h1v1h-1zM96 194h1v1h-1zM109 194h1v1h-1zM110 194h1v1h-1zM118 194h1v1h-1zM56 195h1v1h-1zM69 195h1v1h-1zM84 195h1v1h-1zM85 195h1v1h-1zM109 195h1v1h-1zM117 195h1v1h-1zM175 195h1v1h-1zM183 195h1v1h-1zM98 196h1v1h-1zM106 196h1v1h-1zM117 196h1v1h-1zM132 196h1v1h-1zM140 196h1v1h-1zM45 197h1v1h-1zM57 197h1v1h-1zM82 197h1v1h-1zM94 197h1v1h-1zM99 197h1v1h-1zM114 197h1v1h-1zM119 197h1v1h-1zM122 197h1v1h-1zM123 197h1v1h-1zM138 197h1v1h-1zM89 198h1v1h-1zM94 198h1v1h-1zM108 198h1v1h-1zM113 198h1v1h-1zM117 198h1v1h-1zM135 198h1v1h-1zM143 198h1v1h-1zM146 198h1v1h-1zM52 199h1v1h-1zM94 199h1v1h-1zM97 199h1v1h-1zM103 199h1v1h-1zM134 199h1v1h-1zM174 199h1v1h-1zM78 200h1v1h-1zM108 200h1v1h-1zM120 200h1v1h-1zM131 200h1v1h-1zM111 201h1v1h-1zM129 201h1v1h-1zM47 202h1v1h-1zM61 202h1v1h-1zM76 202h1v1h-1zM145 202h1v1h-1zM155 202h1v1h-1zM73 203h1v1h-1zM84 203h1v1h-1zM90 203h1v1h-1zM93 203h1v1h-1zM102 203h1v1h-1zM131 203h1v1h-1zM64 204h1v1h-1zM65 204h1v1h-1zM92 204h1v1h-1zM106 204h1v1h-1zM107 204h1v1h-1zM128 204h1v1h-1zM146 204h1v1h-1zM84 205h1v1h-1zM86 205h1v1h-1zM165 205h1v1h-1zM90 206h1v1h-1zM93 206h1v1h-1zM89 207h1v1h-1zM111 207h1v1h-1zM120 207h1v1h-1zM163 207h1v1h-1zM195 207h1v1h-1zM62 208h1v1h-1zM130 208h1v1h-1zM154 208h1v1h-1zM80 209h1v1h-1zM86 209h1v1h-1zM88 209h1v1h-1zM99 209h1v1h-1zM130 209h1v1h-1zM59 211h1v1h-1zM111 211h1v1h-1zM112 211h1v1h-1zM117 211h1v1h-1zM119 211h1v1h-1zM126 211h1v1h-1zM133 211h1v1h-1zM146 212h1v1h-1zM70 213h1v1h-1zM93 213h1v1h-1zM126 213h1v1h-1zM172 213h1v1h-1zM72 214h1v1h-1zM112 214h1v1h-1zM128 214h1v1h-1zM193 214h1v1h-1zM73 215h1v1h-1zM76 215h1v1h-1zM59 216h1v1h-1zM62 216h1v1h-1zM173 216h1v1h-1zM70 218h1v1h-1zM78 218h1v1h-1zM45 219h1v1h-1zM159 219h1v1h-1zM60 220h1v1h-1zM80 220h1v1h-1zM98 220h1v1h-1zM116 220h1v1h-1zM154 220h1v1h-1zM80 221h1v1h-1zM91 221h1v1h-1zM120 221h1v1h-1zM141 221h1v1h-1zM111 222h1v1h-1zM136 223h1v1h-1zM144 223h1v1h-1zM95 224h1v1h-1zM137 224h1v1h-1zM80 225h1v1h-1zM138 226h1v1h-1zM142 226h1v1h-1zM54 227h1v1h-1zM129 227h1v1h-1zM164 227h1v1h-1zM58 228h1v1h-1zM119 228h1v1h-1zM172 228h1v1h-1zM145 229h1v1h-1zM55 230h1v1h-1zM186 230h1v1h-1zM134 233h1v1h-1zM140 233h1v1h-1zM149 234h1v1h-1zM157 234h1v1h-1zM145 235h1v1h-1zM117 242h1v1h-1zM111 244h1v1h-1zM130 244h1v1h-1z"/>
<path fill="#91b6ea" d="M113 31h1v1h-1zM120 40h1v1h-1zM117 41h1v1h-1zM154 41h1v1h-1zM81 43h1v1h-1zM120 44h1v1h-1zM100 50h1v1h-1zM50 51h1v1h-1zM135 54h1v1h-1zM126 56h1v1h-1zM51 57h1v1h-1zM114 58h1v1h-1zM135 58h1v1h-1zM102 59h1v1h-1zM157 59h1v1h-1zM86 62h1v1h-1zM102 62h1v1h-1zM67 63h1v1h-1zM110 63h1v1h-1zM156 63h1v1h-1zM161 63h1v1h-1zM42 64h1v1h-1zM54 64h1v1h-1zM81 64h1v1h-1zM111 64h1v1h-1zM120 64h1v1h-1zM100 65h1v1h-1zM101 65h1v1h-1zM106 65h1v1h-1zM142 66h1v1h-1zM111 67h1v1h-1zM121 68h1v1h-1zM147 68h1v1h-1zM35 70h1v1h-1zM37 73h1v1h-1zM83 73h1v1h-1zM88 73h1v1h-1zM91 73h1v1h-1zM113 73h1v1h-1zM23 74h1v1h-1zM80 74h1v1h-1zM111 74h1v1h-1zM113 74h1v1h-1zM103 75h1v1h-1zM134 75h1v1h-1zM89 76h1v1h-1zM103 76h1v1h-1zM107 76h1v1h-1zM120 76h1v1h-1zM83 77h1v1h-1zM116 77h1v1h-1zM26 78h1v1h-1zM44 78h1v1h-1zM98 78h1v1h-1zM105 78h1v1h-1zM113 78h1v1h-1zM75 79h1v1h-1zM104 79h1v1h-1zM107 79h1v1h-1zM127 79h1v1h-1zM143 79h1v1h-1zM192 79h1v1h-1zM93 80h1v1h-1zM62 81h1v1h-1zM118 81h1v1h-1zM138 81h1v1h-1zM85 82h1v1h-1zM107 82h1v1h-1zM149 82h1v1h-1zM110 83h1v1h-1zM129 83h1v1h-1zM139 83h1v1h-1zM79 84h1v1h-1zM97 84h1v1h-1zM114 84h1v1h-1zM123 84h1v1h-1zM89 85h1v1h-1zM92 85h1v1h-1zM119 85h1v1h-1zM140 85h1v1h-1zM28 86h1v1h-1zM107 86h1v1h-1zM108 86h1v1h-1zM114 86h1v1h-1zM39 87h1v1h-1zM101 87h1v1h-1zM128 87h1v1h-1zM86 88h1v1h-1zM121 88h1v1h-1zM142 88h1v1h-1zM168 88h1v1h-1zM103 89h1v1h-1zM110 89h1v1h-1zM116 89h1v1h-1zM125 89h1v1h-1zM81 90h1v1h-1zM89 90h1v1h-1zM94 90h1v1h-1zM99 90h1v1h-1zM102 90h1v1h-1zM124 90h1v1h-1zM70 91h1v1h-1zM93 91h1v1h-1zM108 91h1v1h-1zM113 91h1v1h-1zM117 91h1v1h-1zM118 91h1v1h-1zM131 91h1v1h-1zM137 91h1v1h-1zM164 91h1v1h-1zM98 92h1v1h-1zM102 92h1v1h-1zM131 92h1v1h-1zM44 93h1v1h-1zM68 93h1v1h-1zM69 93h1v1h-1zM82 93h1v1h-1zM120 93h1v1h-1zM68 94h1v1h-1zM73 94h1v1h-1zM85 94h1v1h-1zM102 94h1v1h-1zM116 94h1v1h-1zM117 94h1v1h-1zM134 94h1v1h-1zM146 94h1v1h-1zM155 94h1v1h-1zM58 95h1v1h-1zM86 95h1v1h-1zM90 95h1v1h-1zM92 95h1v1h-1zM122 95h1v1h-1zM128 95h1v1h-1zM132 95h1v1h-1zM152 95h1v1h-1zM98 96h1v1h-1zM100 96h1v1h-1zM104 96h1v1h-1zM114 96h1v1h-1zM145 96h1v1h-1zM82 97h1v1h-1zM96 97h1v1h-1zM111 97h1v1h-1zM125 97h1v1h-1zM127 97h1v1h-1zM128 97h1v1h-1zM138 97h1v1h-1zM144 97h1v1h-1zM145 97h1v1h-1zM65 98h1v1h-1zM72 98h1v1h-1zM105 98h1v1h-1zM120 98h1v1h-1zM121 98h1v1h-1zM39 99h1v1h-1zM88 99h1v1h-1zM89 99h1v1h-1zM120 99h1v1h-1zM125 99h1v1h-1zM151 99h1v1h-1zM74 100h1v1h-1zM80 100h1v1h-1zM97 100h1v1h-1zM128 100h1v1h-1zM132 100h1v1h-1zM170 100h1v1h-1zM12 101h1v1h-1zM83 101h1v1h-1zM89 101h1v1h-1zM92 101h1v1h-1zM114 101h1v1h-1zM121 101h1v1h-1zM135 101h1v1h-1zM142 101h1v1h-1zM161 101h1v1h-1zM21 102h1v1h-1zM77 102h1v1h-1zM106 102h1v1h-1zM59 103h1v1h-1zM68 103h1v1h-1zM82 103h1v1h-1zM95 103h1v1h-1zM101 103h1v1h-1zM108 103h1v1h-1zM118 103h1v1h-1zM125 103h1v1h-1zM54 104h1v1h-1zM65 104h1v1h-1zM90 104h1v1h-1zM91 104h1v1h-1zM104 104h1v1h-1zM106 104h1v1h-1zM133 104h1v1h-1zM173 104h1v1h-1zM35 105h1v1h-1zM65 105h1v1h-1zM75 105h1v1h-1zM83 105h1v1h-1zM95 105h1v1h-1zM126 105h1v1h-1zM167 105h1v1h-1zM60 106h1v1h-1zM63 106h1v1h-1zM87 106h1v1h-1zM99 106h1v1h-1zM100 106h1v1h-1zM58 107h1v1h-1zM60 107h1v1h-1zM81 107h1v1h-1zM84 107h1v1h-1zM88 107h1v1h-1zM106 107h1v1h-1zM118 107h1v1h-1zM138 107h1v1h-1zM140 107h1v1h-1zM88 108h1v1h-1zM92 108h1v1h-1zM116 108h1v1h-1zM121 108h1v1h-1zM135 108h1v1h-1zM152 108h1v1h-1zM153 108h1v1h-1zM159 108h1v1h-1zM9 109h1v1h-1zM44 109h1v1h-1zM45 109h1v1h-1zM65 109h1v1h-1zM70 109h1v1h-1zM92 109h1v1h-1zM98 109h1v1h-1zM131 109h1v1h-1zM135 109h1v1h-1zM156 109h1v1h-1zM159 109h1v1h-1zM37 110h1v1h-1zM43 110h1v1h-1zM91 110h1v1h-1zM139 110h1v1h-1zM154 110h1v1h-1zM172 110h1v1h-1zM28 111h1v1h-1zM59 111h1v1h-1zM62 111h1v1h-1zM73 111h1v1h-1zM80 111h1v1h-1zM108 111h1v1h-1zM152 111h1v1h-1zM153 111h1v1h-1zM154 111h1v1h-1zM63 112h1v1h-1zM74 112h1v1h-1zM81 112h1v1h-1zM82 112h1v1h-1zM135 112h1v1h-1zM50 113h1v1h-1zM120 113h1v1h-1zM148 113h1v1h-1zM149 113h1v1h-1zM174 113h1v1h-1zM45 114h1v1h-1zM64 114h1v1h-1zM71 114h1v1h-1zM75 114h1v1h-1zM90 114h1v1h-1zM130 114h1v1h-1zM131 114h1v1h-1zM132 114h1v1h-1zM139 114h1v1h-1zM155 114h1v1h-1zM42 115h1v1h-1zM49 115h1v1h-1zM64 115h1v1h-1zM77 115h1v1h-1zM114 115h1v1h-1zM134 115h1v1h-1zM160 115h1v1h-1zM26 116h1v1h-1zM36 116h1v1h-1zM49 116h1v1h-1zM59 116h1v1h-1zM68 116h1v1h-1zM80 116h1v1h-1zM84 116h1v1h-1zM85 116h1v1h-1zM131 116h1v1h-1zM135 116h1v1h-1zM143 116h1v1h-1zM156 116h1v1h-1zM158 116h1v1h-1zM182 116h1v1h-1zM201 116h1v1h-1zM71 117h1v1h-1zM133 117h1v1h-1zM134 117h1v1h-1zM49 118h1v1h-1zM73 118h1v1h-1zM74 118h1v1h-1zM76 118h1v1h-1zM82 118h1v1h-1zM124 118h1v1h-1zM142 118h1v1h-1zM145 118h1v1h-1zM172 118h1v1h-1zM16 119h1v1h-1zM62 119h1v1h-1zM89 119h1v1h-1zM96 119h1v1h-1zM138 119h1v1h-1zM147 119h1v1h-1zM55 120h1v1h-1zM82 120h1v1h-1zM95 120h1v1h-1zM136 120h1v1h-1zM139 120h1v1h-1zM142 120h1v1h-1zM156 120h1v1h-1zM68 121h1v1h-1zM69 121h1v1h-1zM76 121h1v1h-1zM84 121h1v1h-1zM103 121h1v1h-1zM127 121h1v1h-1zM132 121h1v1h-1zM146 121h1v1h-1zM164 121h1v1h-1zM40 122h1v1h-1zM74 122h1v1h-1zM106 122h1v1h-1zM130 122h1v1h-1zM142 122h1v1h-1zM58 123h1v1h-1zM135 123h1v1h-1zM137 123h1v1h-1zM28 124h1v1h-1zM42 124h1v1h-1zM68 124h1v1h-1zM77 124h1v1h-1zM82 124h1v1h-1zM85 124h1v1h-1zM86 124h1v1h-1zM140 124h1v1h-1zM152 124h1v1h-1zM20 125h1v1h-1zM48 125h1v1h-1zM56 125h1v1h-1zM85 125h1v1h-1zM109 125h1v1h-1zM145 125h1v1h-1zM154 125h1v1h-1zM162 125h1v1h-1zM177 125h1v1h-1zM191 125h1v1h-1zM26 126h1v1h-1zM69 126h1v1h-1zM79 126h1v1h-1zM99 126h1v1h-1zM129 126h1v1h-1zM152 126h1v1h-1zM184 126h1v1h-1zM192 126h1v1h-1zM60 127h1v1h-1zM87 127h1v1h-1zM134 127h1v1h-1zM152 127h1v1h-1zM182 127h1v1h-1zM84 128h1v1h-1zM91 128h1v1h-1zM151 128h1v1h-1zM187 128h1v1h-1zM54 129h1v1h-1zM55 129h1v1h-1zM57 129h1v1h-1zM66 129h1v1h-1zM86 129h1v1h-1zM126 129h1v1h-1zM133 129h1v1h-1zM144 129h1v1h-1zM147 129h1v1h-1zM152 129h1v1h-1zM24 130h1v1h-1zM66 130h1v1h-1zM96 130h1v1h-1zM107 130h1v1h-1zM16 131h1v1h-1zM64 131h1v1h-1zM76 131h1v1h-1zM81 131h1v1h-1zM83 131h1v1h-1zM118 131h1v1h-1zM154 131h1v1h-1zM155 131h1v1h-1zM41 132h1v1h-1zM157 132h1v1h-1zM50 133h1v1h-1zM54 133h1v1h-1zM66 133h1v1h-1zM75 133h1v1h-1zM117 133h1v1h-1zM138 133h1v1h-1zM143 133h1v1h-1zM150 133h1v1h-1zM154 133h1v1h-1zM60 134h1v1h-1zM62 134h1v1h-1zM65 134h1v1h-1zM110 134h1v1h-1zM129 134h1v1h-1zM130 134h1v1h-1zM135 134h1v1h-1zM157 134h1v1h-1zM227 134h1v1h-1zM43 135h1v1h-1zM46 135h1v1h-1zM85 135h1v1h-1zM93 135h1v1h-1zM143 135h1v1h-1zM144 135h1v1h-1zM151 135h1v1h-1zM153 135h1v1h-1zM70 136h1v1h-1zM111 136h1v1h-1zM156 136h1v1h-1zM162 136h1v1h-1zM171 136h1v1h-1zM65 137h1v1h-1zM67 137h1v1h-1zM73 137h1v1h-1zM77 137h1v1h-1zM100 137h1v1h-1zM150 137h1v1h-1zM154 137h1v1h-1zM169 137h1v1h-1zM183 137h1v1h-1zM16 138h1v1h-1zM78 138h1v1h-1zM109 138h1v1h-1zM151 138h1v1h-1zM153 138h1v1h-1zM160 138h1v1h-1zM166 138h1v1h-1zM176 138h1v1h-1zM68 139h1v1h-1zM71 139h1v1h-1zM110 139h1v1h-1zM114 139h1v1h-1zM122 139h1v1h-1zM133 139h1v1h-1zM160 139h1v1h-1zM177 139h1v1h-1zM63 140h1v1h-1zM138 140h1v1h-1zM153 140h1v1h-1zM186 140h1v1h-1zM191 140h1v1h-1zM33 141h1v1h-1zM107 141h1v1h-1zM170 141h1v1h-1zM54 142h1v1h-1zM67 142h1v1h-1zM78 142h1v1h-1zM132 142h1v1h-1zM154 142h1v1h-1zM167 142h1v1h-1zM190 142h1v1h-1zM35 143h1v1h-1zM72 143h1v1h-1zM171 143h1v1h-1zM64 144h1v1h-1zM92 144h1v1h-1zM124 144h1v1h-1zM153 144h1v1h-1zM202 144h1v1h-1zM55 145h1v1h-1zM65 145h1v1h-1zM69 145h1v1h-1zM144 145h1v1h-1zM153 145h1v1h-1zM154 145h1v1h-1zM161 145h1v1h-1zM6 146h1v1h-1zM53 146h1v1h-1zM55 146h1v1h-1zM64 146h1v1h-1zM66 146h1v1h-1zM121 146h1v1h-1zM145 146h1v1h-1zM167 146h1v1h-1zM177 146h1v1h-1zM51 147h1v1h-1zM93 147h1v1h-1zM112 147h1v1h-1zM133 147h1v1h-1zM149 147h1v1h-1zM159 147h1v1h-1zM47 148h1v1h-1zM55 148h1v1h-1zM72 148h1v1h-1zM161 148h1v1h-1zM51 149h1v1h-1zM76 149h1v1h-1zM120 149h1v1h-1zM141 149h1v1h-1zM53 150h1v1h-1zM72 150h1v1h-1zM52 151h1v1h-1zM87 151h1v1h-1zM123 151h1v1h-1zM135 151h1v1h-1zM140 151h1v1h-1zM79 152h1v1h-1zM119 152h1v1h-1zM144 152h1v1h-1zM158 152h1v1h-1zM45 153h1v1h-1zM71 153h1v1h-1zM102 153h1v1h-1zM134 153h1v1h-1zM140 153h1v1h-1zM148 153h1v1h-1zM153 153h1v1h-1zM62 154h1v1h-1zM117 154h1v1h-1zM147 154h1v1h-1zM178 154h1v1h-1zM180 154h1v1h-1zM205 154h1v1h-1zM206 154h1v1h-1zM43 155h1v1h-1zM75 155h1v1h-1zM136 155h1v1h-1zM143 155h1v1h-1zM150 155h1v1h-1zM161 155h1v1h-1zM173 155h1v1h-1zM224 155h1v1h-1zM55 156h1v1h-1zM59 156h1v1h-1zM79 156h1v1h-1zM106 156h1v1h-1zM117 156h1v1h-1zM139 156h1v1h-1zM140 156h1v1h-1zM147 156h1v1h-1zM151 156h1v1h-1zM171 156h1v1h-1zM174 156h1v1h-1zM187 156h1v1h-1zM57 157h1v1h-1zM70 157h1v1h-1zM90 157h1v1h-1zM101 157h1v1h-1zM138 157h1v1h-1zM142 157h1v1h-1zM152 157h1v1h-1zM156 157h1v1h-1zM168 157h1v1h-1zM188 157h1v1h-1zM68 158h1v1h-1zM69 158h1v1h-1zM127 158h1v1h-1zM140 158h1v1h-1zM161 158h1v1h-1zM162 158h1v1h-1zM186 158h1v1h-1zM22 159h1v1h-1zM27 159h1v1h-1zM139 159h1v1h-1zM165 159h1v1h-1zM183 159h1v1h-1zM212 159h1v1h-1zM39 160h1v1h-1zM62 160h1v1h-1zM69 160h1v1h-1zM82 160h1v1h-1zM106 160h1v1h-1zM134 160h1v1h-1zM164 160h1v1h-1zM17 161h1v1h-1zM45 161h1v1h-1zM61 161h1v1h-1zM69 161h1v1h-1zM71 161h1v1h-1zM74 161h1v1h-1zM114 161h1v1h-1zM120 161h1v1h-1zM130 161h1v1h-1zM135 161h1v1h-1zM137 161h1v1h-1zM143 161h1v1h-1zM145 161h1v1h-1zM147 161h1v1h-1zM151 161h1v1h-1zM159 161h1v1h-1zM208 161h1v1h-1zM41 162h1v1h-1zM57 162h1v1h-1zM139 162h1v1h-1zM148 162h1v1h-1zM151 162h1v1h-1zM163 162h1v1h-1zM48 163h1v1h-1zM69 163h1v1h-1zM143 163h1v1h-1zM149 163h1v1h-1zM159 163h1v1h-1zM168 163h1v1h-1zM169 163h1v1h-1zM61 164h1v1h-1zM67 164h1v1h-1zM71 164h1v1h-1zM75 164h1v1h-1zM86 164h1v1h-1zM90 164h1v1h-1zM135 164h1v1h-1zM139 164h1v1h-1zM164 164h1v1h-1zM167 164h1v1h-1zM89 165h1v1h-1zM91 165h1v1h-1zM107 165h1v1h-1zM136 165h1v1h-1zM144 165h1v1h-1zM156 165h1v1h-1zM198 165h1v1h-1zM42 166h1v1h-1zM59 166h1v1h-1zM137 166h1v1h-1zM142 166h1v1h-1zM144 166h1v1h-1zM153 166h1v1h-1zM155 166h1v1h-1zM172 166h1v1h-1zM59 167h1v1h-1zM67 167h1v1h-1zM75 167h1v1h-1zM81 167h1v1h-1zM87 167h1v1h-1zM95 167h1v1h-1zM106 167h1v1h-1zM107 167h1v1h-1zM120 167h1v1h-1zM141 167h1v1h-1zM144 167h1v1h-1zM152 167h1v1h-1zM197 167h1v1h-1zM44 168h1v1h-1zM85 168h1v1h-1zM86 168h1v1h-1zM91 168h1v1h-1zM108 168h1v1h-1zM111 168h1v1h-1zM127 168h1v1h-1zM129 168h1v1h-1zM137 168h1v1h-1zM156 168h1v1h-1zM195 168h1v1h-1zM79 169h1v1h-1zM128 169h1v1h-1zM132 169h1v1h-1zM134 169h1v1h-1zM137 169h1v1h-1zM149 169h1v1h-1zM183 169h1v1h-1zM41 170h1v1h-1zM57 170h1v1h-1zM61 170h1v1h-1zM76 170h1v1h-1zM81 170h1v1h-1zM82 170h1v1h-1zM95 170h1v1h-1zM96 170h1v1h-1zM120 170h1v1h-1zM131 170h1v1h-1zM149 170h1v1h-1zM56 171h1v1h-1zM81 171h1v1h-1zM84 171h1v1h-1zM85 171h1v1h-1zM91 171h1v1h-1zM105 171h1v1h-1zM131 171h1v1h-1zM138 171h1v1h-1zM139 171h1v1h-1zM141 171h1v1h-1zM144 171h1v1h-1zM153 171h1v1h-1zM155 171h1v1h-1zM75 172h1v1h-1zM88 172h1v1h-1zM120 172h1v1h-1zM150 172h1v1h-1zM167 172h1v1h-1zM219 172h1v1h-1zM73 173h1v1h-1zM79 173h1v1h-1zM84 173h1v1h-1zM110 173h1v1h-1zM123 173h1v1h-1zM127 173h1v1h-1zM133 173h1v1h-1zM140 173h1v1h-1zM143 173h1v1h-1zM149 173h1v1h-1zM214 173h1v1h-1zM42 174h1v1h-1zM74 174h1v1h-1zM77 174h1v1h-1zM89 174h1v1h-1zM94 174h1v1h-1zM105 174h1v1h-1zM126 174h1v1h-1zM150 174h1v1h-1zM170 174h1v1h-1zM41 175h1v1h-1zM42 175h1v1h-1zM60 175h1v1h-1zM66 175h1v1h-1zM73 175h1v1h-1zM75 175h1v1h-1zM90 175h1v1h-1zM93 175h1v1h-1zM117 175h1v1h-1zM142 175h1v1h-1zM156 175h1v1h-1zM158 175h1v1h-1zM53 176h1v1h-1zM70 176h1v1h-1zM71 176h1v1h-1zM94 176h1v1h-1zM112 176h1v1h-1zM114 176h1v1h-1zM115 176h1v1h-1zM131 176h1v1h-1zM142 176h1v1h-1zM148 176h1v1h-1zM153 176h1v1h-1zM188 176h1v1h-1zM78 177h1v1h-1zM84 177h1v1h-1zM87 177h1v1h-1zM92 177h1v1h-1zM96 177h1v1h-1zM109 177h1v1h-1zM110 177h1v1h-1zM136 177h1v1h-1zM141 177h1v1h-1zM163 177h1v1h-1zM168 177h1v1h-1zM181 177h1v1h-1zM55 178h1v1h-1zM75 178h1v1h-1zM106 178h1v1h-1zM110 178h1v1h-1zM118 178h1v1h-1zM139 178h1v1h-1zM140 178h1v1h-1zM177 178h1v1h-1zM55 179h1v1h-1zM76 179h1v1h-1zM82 179h1v1h-1zM83 179h1v1h-1zM92 179h1v1h-1zM94 179h1v1h-1zM121 179h1v1h-1zM146 179h1v1h-1zM193 179h1v1h-1zM76 180h1v1h-1zM85 180h1v1h-1zM89 180h1v1h-1zM92 180h1v1h-1zM100 180h1v1h-1zM102 180h1v1h-1zM129 180h1v1h-1zM135 180h1v1h-1zM138 180h1v1h-1zM166 180h1v1h-1zM66 181h1v1h-1zM82 181h1v1h-1zM136 181h1v1h-1zM137 181h1v1h-1zM165 181h1v1h-1zM171 181h1v1h-1zM181 181h1v1h-1zM200 181h1v1h-1zM54 182h1v1h-1zM104 182h1v1h-1zM161 182h1v1h-1zM163 182h1v1h-1zM46 183h1v1h-1zM90 183h1v1h-1zM94 183h1v1h-1zM97 183h1v1h-1zM109 183h1v1h-1zM125 183h1v1h-1zM95 184h1v1h-1zM96 184h1v1h-1zM113 184h1v1h-1zM119 184h1v1h-1zM141 184h1v1h-1zM83 185h1v1h-1zM90 185h1v1h-1zM120 185h1v1h-1zM141 185h1v1h-1zM143 185h1v1h-1zM62 186h1v1h-1zM88 186h1v1h-1zM90 186h1v1h-1zM91 186h1v1h-1zM109 186h1v1h-1zM118 186h1v1h-1zM130 186h1v1h-1zM147 186h1v1h-1zM158 186h1v1h-1zM173 186h1v1h-1zM70 187h1v1h-1zM91 187h1v1h-1zM118 187h1v1h-1zM142 187h1v1h-1zM147 187h1v1h-1zM173 187h1v1h-1zM29 188h1v1h-1zM63 188h1v1h-1zM69 188h1v1h-1zM98 188h1v1h-1zM123 188h1v1h-1zM128 188h1v1h-1zM131 188h1v1h-1zM93 189h1v1h-1zM104 189h1v1h-1zM110 189h1v1h-1zM112 189h1v1h-1zM142 189h1v1h-1zM71 190h1v1h-1zM88 190h1v1h-1zM118 190h1v1h-1zM119 190h1v1h-1zM56 191h1v1h-1zM86 191h1v1h-1zM90 191h1v1h-1zM119 191h1v1h-1zM126 191h1v1h-1zM128 191h1v1h-1zM136 191h1v1h-1zM142 191h1v1h-1zM92 192h1v1h-1zM97 192h1v1h-1zM116 192h1v1h-1zM130 192h1v1h-1zM156 192h1v1h-1zM212 192h1v1h-1zM35 193h1v1h-1zM53 193h1v1h-1zM107 193h1v1h-1zM115 193h1v1h-1zM25 194h1v1h-1zM31 194h1v1h-1zM74 194h1v1h-1zM75 194h1v1h-1zM128 194h1v1h-1zM134 194h1v1h-1zM103 195h1v1h-1zM139 195h1v1h-1zM103 196h1v1h-1zM111 196h1v1h-1zM125 196h1v1h-1zM35 197h1v1h-1zM103 197h1v1h-1zM110 197h1v1h-1zM111 197h1v1h-1zM128 197h1v1h-1zM156 197h1v1h-1zM168 197h1v1h-1zM100 198h1v1h-1zM114 198h1v1h-1zM118 198h1v1h-1zM138 198h1v1h-1zM161 198h1v1h-1zM57 199h1v1h-1zM63 199h1v1h-1zM75 199h1v1h-1zM76 200h1v1h-1zM118 200h1v1h-1zM140 200h1v1h-1zM104 201h1v1h-1zM122 201h1v1h-1zM156 201h1v1h-1zM158 201h1v1h-1zM64 202h1v1h-1zM112 202h1v1h-1zM108 203h1v1h-1zM148 203h1v1h-1zM152 203h1v1h-1zM36 204h1v1h-1zM94 204h1v1h-1zM100 204h1v1h-1zM124 204h1v1h-1zM67 205h1v1h-1zM85 205h1v1h-1zM111 205h1v1h-1zM145 205h1v1h-1zM116 206h1v1h-1zM117 207h1v1h-1zM125 207h1v1h-1zM70 208h1v1h-1zM97 208h1v1h-1zM103 208h1v1h-1zM114 208h1v1h-1zM49 209h1v1h-1zM61 209h1v1h-1zM68 209h1v1h-1zM132 209h1v1h-1zM78 210h1v1h-1zM122 210h1v1h-1zM79 212h1v1h-1zM93 214h1v1h-1zM115 216h1v1h-1zM190 217h1v1h-1zM75 218h1v1h-1zM100 219h1v1h-1zM72 220h1v1h-1zM43 221h1v1h-1zM93 221h1v1h-1zM126 222h1v1h-1zM88 224h1v1h-1zM169 224h1v1h-1zM132 225h1v1h-1zM100 226h1v1h-1zM158 229h1v1h-1zM111 234h1v1h-1zM70 235h1v1h-1zM149 240h1v1h-1zM132 241h1v1h-1zM152 250h1v1h-1z"/>
<path fill="#85c0eb" d="M94 41h1v1h-1zM86 58h1v1h-1zM103 60h1v1h-1zM101 63h1v1h-1zM59 65h1v1h-1zM75 66h1v1h-1zM94 66h1v1h-1zM62 67h1v1h-1zM122 68h1v1h-1zM71 70h1v1h-1zM101 71h1v1h-1zM105 71h1v1h-1zM199 72h1v1h-1zM129 73h1v1h-1zM91 74h1v1h-1zM73 75h1v1h-1zM91 75h1v1h-1zM133 75h1v1h-1zM158 75h1v1h-1zM113 76h1v1h-1zM142 76h1v1h-1zM62 77h1v1h-1zM81 77h1v1h-1zM137 77h1v1h-1zM78 78h1v1h-1zM87 78h1v1h-1zM101 78h1v1h-1zM165 78h1v1h-1zM59 79h1v1h-1zM120 80h1v1h-1zM165 80h1v1h-1zM79 81h1v1h-1zM95 81h1v1h-1zM117 81h1v1h-1zM77 82h1v1h-1zM78 82h1v1h-1zM136 82h1v1h-1zM163 82h1v1h-1zM60 83h1v1h-1zM92 83h1v1h-1zM122 83h1v1h-1zM136 83h1v1h-1zM151 83h1v1h-1zM158 83h1v1h-1zM26 84h1v1h-1zM51 84h1v1h-1zM60 84h1v1h-1zM113 84h1v1h-1zM119 84h1v1h-1zM130 84h1v1h-1zM66 85h1v1h-1zM83 85h1v1h-1zM96 85h1v1h-1zM138 85h1v1h-1zM64 86h1v1h-1zM102 86h1v1h-1zM110 86h1v1h-1zM121 86h1v1h-1zM141 86h1v1h-1zM140 87h1v1h-1zM104 88h1v1h-1zM114 88h1v1h-1zM149 88h1v1h-1zM155 88h1v1h-1zM83 89h1v1h-1zM114 89h1v1h-1zM132 89h1v1h-1zM61 90h1v1h-1zM98 90h1v1h-1zM141 90h1v1h-1zM153 90h1v1h-1zM176 90h1v1h-1zM96 91h1v1h-1zM68 92h1v1h-1zM75 92h1v1h-1zM85 92h1v1h-1zM118 92h1v1h-1zM136 92h1v1h-1zM142 92h1v1h-1zM154 92h1v1h-1zM157 92h1v1h-1zM75 93h1v1h-1zM104 93h1v1h-1zM110 93h1v1h-1zM125 93h1v1h-1zM173 93h1v1h-1zM41 94h1v1h-1zM87 94h1v1h-1zM18 95h1v1h-1zM48 95h1v1h-1zM94 95h1v1h-1zM106 95h1v1h-1zM138 95h1v1h-1zM50 96h1v1h-1zM75 96h1v1h-1zM81 96h1v1h-1zM94 96h1v1h-1zM118 96h1v1h-1zM133 96h1v1h-1zM170 96h1v1h-1zM79 97h1v1h-1zM122 97h1v1h-1zM152 97h1v1h-1zM63 98h1v1h-1zM97 98h1v1h-1zM113 98h1v1h-1zM132 98h1v1h-1zM133 98h1v1h-1zM143 98h1v1h-1zM169 98h1v1h-1zM72 99h1v1h-1zM91 99h1v1h-1zM106 99h1v1h-1zM127 99h1v1h-1zM133 99h1v1h-1zM139 99h1v1h-1zM145 99h1v1h-1zM121 100h1v1h-1zM151 100h1v1h-1zM66 101h1v1h-1zM78 101h1v1h-1zM97 101h1v1h-1zM100 101h1v1h-1zM115 101h1v1h-1zM144 101h1v1h-1zM151 101h1v1h-1zM158 101h1v1h-1zM166 101h1v1h-1zM73 102h1v1h-1zM86 102h1v1h-1zM88 102h1v1h-1zM93 102h1v1h-1zM111 102h1v1h-1zM125 102h1v1h-1zM157 102h1v1h-1zM66 103h1v1h-1zM69 103h1v1h-1zM71 103h1v1h-1zM89 103h1v1h-1zM97 103h1v1h-1zM110 103h1v1h-1zM114 103h1v1h-1zM137 103h1v1h-1zM169 103h1v1h-1zM72 104h1v1h-1zM74 104h1v1h-1zM85 104h1v1h-1zM92 104h1v1h-1zM96 104h1v1h-1zM135 104h1v1h-1zM138 104h1v1h-1zM23 105h1v1h-1zM62 105h1v1h-1zM63 105h1v1h-1zM66 105h1v1h-1zM79 105h1v1h-1zM82 105h1v1h-1zM85 105h1v1h-1zM148 105h1v1h-1zM72 106h1v1h-1zM91 106h1v1h-1zM92 106h1v1h-1zM104 106h1v1h-1zM119 106h1v1h-1zM121 106h1v1h-1zM145 106h1v1h-1zM158 106h1v1h-1zM187 106h1v1h-1zM39 107h1v1h-1zM74 107h1v1h-1zM78 107h1v1h-1zM104 107h1v1h-1zM108 107h1v1h-1zM87 108h1v1h-1zM100 108h1v1h-1zM112 108h1v1h-1zM117 108h1v1h-1zM122 108h1v1h-1zM140 108h1v1h-1zM57 109h1v1h-1zM59 109h1v1h-1zM60 109h1v1h-1zM75 109h1v1h-1zM78 109h1v1h-1zM86 109h1v1h-1zM110 109h1v1h-1zM118 109h1v1h-1zM157 109h1v1h-1zM161 109h1v1h-1zM47 110h1v1h-1zM82 110h1v1h-1zM110 110h1v1h-1zM116 110h1v1h-1zM119 110h1v1h-1zM124 110h1v1h-1zM143 110h1v1h-1zM68 111h1v1h-1zM95 111h1v1h-1zM133 111h1v1h-1zM143 111h1v1h-1zM146 111h1v1h-1zM151 111h1v1h-1zM73 112h1v1h-1zM94 112h1v1h-1zM99 112h1v1h-1zM103 112h1v1h-1zM120 112h1v1h-1zM122 112h1v1h-1zM125 112h1v1h-1zM137 112h1v1h-1zM160 112h1v1h-1zM171 112h1v1h-1zM94 113h1v1h-1zM99 113h1v1h-1zM104 113h1v1h-1zM119 113h1v1h-1zM121 113h1v1h-1zM130 113h1v1h-1zM142 113h1v1h-1zM61 114h1v1h-1zM70 114h1v1h-1zM80 114h1v1h-1zM83 114h1v1h-1zM89 114h1v1h-1zM121 114h1v1h-1zM129 114h1v1h-1zM150 114h1v1h-1zM69 115h1v1h-1zM83 115h1v1h-1zM88 115h1v1h-1zM109 115h1v1h-1zM131 115h1v1h-1zM145 115h1v1h-1zM149 115h1v1h-1zM168 115h1v1h-1zM32 116h1v1h-1zM45 116h1v1h-1zM63 116h1v1h-1zM67 116h1v1h-1zM81 116h1v1h-1zM100 116h1v1h-1zM130 116h1v1h-1zM91 117h1v1h-1zM130 117h1v1h-1zM154 117h1v1h-1zM171 117h1v1h-1zM179 117h1v1h-1zM71 118h1v1h-1zM110 118h1v1h-1zM129 118h1v1h-1zM149 118h1v1h-1zM154 118h1v1h-1zM158 118h1v1h-1zM164 118h1v1h-1zM176 118h1v1h-1zM64 119h1v1h-1zM72 119h1v1h-1zM75 119h1v1h-1zM77 119h1v1h-1zM82 119h1v1h-1zM91 119h1v1h-1zM95 119h1v1h-1zM125 119h1v1h-1zM126 119h1v1h-1zM155 119h1v1h-1zM33 120h1v1h-1zM41 120h1v1h-1zM80 120h1v1h-1zM84 120h1v1h-1zM99 120h1v1h-1zM70 121h1v1h-1zM85 121h1v1h-1zM116 121h1v1h-1zM62 122h1v1h-1zM65 122h1v1h-1zM71 122h1v1h-1zM83 122h1v1h-1zM98 122h1v1h-1zM144 122h1v1h-1zM153 122h1v1h-1zM163 122h1v1h-1zM165 122h1v1h-1zM59 123h1v1h-1zM67 123h1v1h-1zM84 123h1v1h-1zM91 123h1v1h-1zM132 123h1v1h-1zM138 123h1v1h-1zM144 123h1v1h-1zM149 123h1v1h-1zM157 123h1v1h-1zM158 123h1v1h-1zM165 123h1v1h-1zM46 124h1v1h-1zM47 124h1v1h-1zM48 124h1v1h-1zM79 124h1v1h-1zM130 124h1v1h-1zM144 124h1v1h-1zM156 124h1v1h-1zM57 125h1v1h-1zM68 125h1v1h-1zM118 125h1v1h-1zM126 125h1v1h-1zM143 125h1v1h-1zM147 125h1v1h-1zM161 125h1v1h-1zM32 126h1v1h-1zM35 126h1v1h-1zM51 126h1v1h-1zM58 126h1v1h-1zM73 126h1v1h-1zM125 126h1v1h-1zM141 126h1v1h-1zM97 127h1v1h-1zM139 127h1v1h-1zM164 127h1v1h-1zM170 127h1v1h-1zM190 127h1v1h-1zM213 127h1v1h-1zM51 128h1v1h-1zM57 128h1v1h-1zM70 128h1v1h-1zM78 128h1v1h-1zM94 128h1v1h-1zM116 128h1v1h-1zM72 129h1v1h-1zM88 129h1v1h-1zM80 130h1v1h-1zM149 130h1v1h-1zM153 130h1v1h-1zM163 130h1v1h-1zM73 131h1v1h-1zM77 131h1v1h-1zM92 131h1v1h-1zM120 131h1v1h-1zM136 131h1v1h-1zM140 131h1v1h-1zM145 131h1v1h-1zM147 131h1v1h-1zM162 131h1v1h-1zM56 132h1v1h-1zM70 132h1v1h-1zM86 132h1v1h-1zM92 132h1v1h-1zM130 132h1v1h-1zM136 132h1v1h-1zM140 132h1v1h-1zM141 132h1v1h-1zM148 132h1v1h-1zM70 133h1v1h-1zM73 133h1v1h-1zM94 133h1v1h-1zM152 133h1v1h-1zM54 134h1v1h-1zM59 134h1v1h-1zM66 134h1v1h-1zM73 134h1v1h-1zM82 134h1v1h-1zM125 134h1v1h-1zM142 134h1v1h-1zM152 134h1v1h-1zM169 134h1v1h-1zM49 135h1v1h-1zM70 135h1v1h-1zM148 135h1v1h-1zM159 135h1v1h-1zM165 135h1v1h-1zM44 136h1v1h-1zM67 136h1v1h-1zM69 136h1v1h-1zM83 136h1v1h-1zM100 136h1v1h-1zM143 136h1v1h-1zM145 136h1v1h-1zM46 137h1v1h-1zM64 137h1v1h-1zM69 137h1v1h-1zM112 137h1v1h-1zM137 137h1v1h-1zM62 138h1v1h-1zM136 138h1v1h-1zM152 138h1v1h-1zM156 138h1v1h-1zM52 139h1v1h-1zM65 139h1v1h-1zM73 139h1v1h-1zM78 139h1v1h-1zM143 139h1v1h-1zM152 139h1v1h-1zM155 139h1v1h-1zM206 139h1v1h-1zM69 141h1v1h-1zM80 141h1v1h-1zM149 141h1v1h-1zM150 141h1v1h-1zM154 141h1v1h-1zM63 142h1v1h-1zM143 142h1v1h-1zM145 142h1v1h-1zM147 142h1v1h-1zM158 142h1v1h-1zM46 143h1v1h-1zM56 143h1v1h-1zM76 143h1v1h-1zM144 143h1v1h-1zM164 143h1v1h-1zM166 143h1v1h-1zM175 143h1v1h-1zM57 144h1v1h-1zM61 144h1v1h-1zM72 144h1v1h-1zM73 144h1v1h-1zM81 144h1v1h-1zM94 144h1v1h-1zM111 144h1v1h-1zM142 144h1v1h-1zM148 144h1v1h-1zM156 144h1v1h-1zM159 144h1v1h-1zM160 144h1v1h-1zM41 145h1v1h-1zM42 145h1v1h-1zM130 145h1v1h-1zM146 145h1v1h-1zM164 145h1v1h-1zM65 146h1v1h-1zM78 146h1v1h-1zM130 146h1v1h-1zM140 146h1v1h-1zM187 146h1v1h-1zM94 147h1v1h-1zM151 147h1v1h-1zM88 148h1v1h-1zM129 148h1v1h-1zM143 148h1v1h-1zM145 148h1v1h-1zM148 148h1v1h-1zM149 148h1v1h-1zM157 148h1v1h-1zM160 148h1v1h-1zM170 148h1v1h-1zM44 149h1v1h-1zM53 149h1v1h-1zM75 149h1v1h-1zM144 149h1v1h-1zM172 149h1v1h-1zM74 150h1v1h-1zM102 150h1v1h-1zM139 150h1v1h-1zM148 150h1v1h-1zM154 150h1v1h-1zM162 150h1v1h-1zM41 151h1v1h-1zM64 151h1v1h-1zM68 151h1v1h-1zM90 151h1v1h-1zM131 151h1v1h-1zM160 151h1v1h-1zM183 151h1v1h-1zM84 152h1v1h-1zM139 152h1v1h-1zM143 152h1v1h-1zM152 152h1v1h-1zM49 153h1v1h-1zM67 153h1v1h-1zM70 153h1v1h-1zM147 153h1v1h-1zM169 153h1v1h-1zM31 154h1v1h-1zM55 154h1v1h-1zM66 154h1v1h-1zM112 154h1v1h-1zM138 154h1v1h-1zM143 154h1v1h-1zM175 154h1v1h-1zM44 155h1v1h-1zM48 155h1v1h-1zM60 155h1v1h-1zM74 155h1v1h-1zM79 155h1v1h-1zM135 155h1v1h-1zM142 155h1v1h-1zM166 155h1v1h-1zM47 156h1v1h-1zM60 156h1v1h-1zM80 156h1v1h-1zM84 156h1v1h-1zM144 156h1v1h-1zM149 156h1v1h-1zM150 156h1v1h-1zM175 156h1v1h-1zM196 156h1v1h-1zM76 157h1v1h-1zM78 157h1v1h-1zM79 157h1v1h-1zM134 157h1v1h-1zM146 157h1v1h-1zM147 157h1v1h-1zM177 157h1v1h-1zM48 158h1v1h-1zM62 158h1v1h-1zM64 158h1v1h-1zM83 158h1v1h-1zM136 158h1v1h-1zM138 158h1v1h-1zM33 159h1v1h-1zM41 159h1v1h-1zM54 159h1v1h-1zM95 159h1v1h-1zM124 159h1v1h-1zM157 159h1v1h-1zM166 159h1v1h-1zM147 160h1v1h-1zM151 160h1v1h-1zM163 160h1v1h-1zM166 160h1v1h-1zM179 160h1v1h-1zM212 160h1v1h-1zM43 161h1v1h-1zM66 161h1v1h-1zM73 161h1v1h-1zM76 161h1v1h-1zM84 161h1v1h-1zM129 161h1v1h-1zM131 161h1v1h-1zM139 161h1v1h-1zM152 161h1v1h-1zM52 162h1v1h-1zM53 162h1v1h-1zM92 162h1v1h-1zM49 163h1v1h-1zM56 163h1v1h-1zM135 163h1v1h-1zM72 164h1v1h-1zM89 164h1v1h-1zM92 164h1v1h-1zM124 164h1v1h-1zM132 164h1v1h-1zM137 164h1v1h-1zM140 164h1v1h-1zM146 164h1v1h-1zM169 164h1v1h-1zM68 165h1v1h-1zM75 165h1v1h-1zM85 165h1v1h-1zM140 165h1v1h-1zM87 166h1v1h-1zM95 166h1v1h-1zM122 166h1v1h-1zM134 166h1v1h-1zM135 166h1v1h-1zM146 166h1v1h-1zM148 166h1v1h-1zM156 166h1v1h-1zM174 166h1v1h-1zM58 167h1v1h-1zM63 167h1v1h-1zM139 167h1v1h-1zM143 167h1v1h-1zM14 168h1v1h-1zM31 168h1v1h-1zM62 168h1v1h-1zM68 168h1v1h-1zM98 168h1v1h-1zM104 168h1v1h-1zM147 168h1v1h-1zM174 168h1v1h-1zM64 169h1v1h-1zM105 169h1v1h-1zM106 169h1v1h-1zM110 169h1v1h-1zM112 169h1v1h-1zM119 169h1v1h-1zM150 169h1v1h-1zM154 169h1v1h-1zM77 170h1v1h-1zM129 170h1v1h-1zM134 170h1v1h-1zM153 170h1v1h-1zM155 170h1v1h-1zM197 170h1v1h-1zM75 171h1v1h-1zM93 171h1v1h-1zM104 171h1v1h-1zM106 171h1v1h-1zM145 171h1v1h-1zM161 171h1v1h-1zM18 172h1v1h-1zM30 172h1v1h-1zM58 172h1v1h-1zM78 172h1v1h-1zM97 172h1v1h-1zM124 172h1v1h-1zM146 172h1v1h-1zM147 172h1v1h-1zM61 173h1v1h-1zM69 173h1v1h-1zM78 173h1v1h-1zM96 173h1v1h-1zM98 173h1v1h-1zM106 173h1v1h-1zM125 173h1v1h-1zM151 173h1v1h-1zM190 173h1v1h-1zM95 174h1v1h-1zM139 174h1v1h-1zM143 174h1v1h-1zM149 174h1v1h-1zM168 174h1v1h-1zM79 175h1v1h-1zM154 175h1v1h-1zM84 176h1v1h-1zM96 176h1v1h-1zM110 176h1v1h-1zM119 176h1v1h-1zM126 176h1v1h-1zM143 176h1v1h-1zM83 177h1v1h-1zM97 177h1v1h-1zM101 177h1v1h-1zM106 177h1v1h-1zM126 177h1v1h-1zM72 178h1v1h-1zM80 178h1v1h-1zM135 178h1v1h-1zM52 179h1v1h-1zM74 179h1v1h-1zM117 179h1v1h-1zM135 179h1v1h-1zM160 179h1v1h-1zM186 179h1v1h-1zM51 180h1v1h-1zM57 180h1v1h-1zM94 180h1v1h-1zM95 180h1v1h-1zM108 180h1v1h-1zM110 180h1v1h-1zM127 180h1v1h-1zM148 180h1v1h-1zM150 180h1v1h-1zM97 181h1v1h-1zM99 181h1v1h-1zM114 181h1v1h-1zM119 181h1v1h-1zM172 181h1v1h-1zM80 182h1v1h-1zM89 182h1v1h-1zM142 182h1v1h-1zM151 182h1v1h-1zM64 183h1v1h-1zM82 183h1v1h-1zM102 183h1v1h-1zM112 183h1v1h-1zM143 183h1v1h-1zM178 183h1v1h-1zM78 184h1v1h-1zM79 184h1v1h-1zM99 184h1v1h-1zM102 184h1v1h-1zM105 184h1v1h-1zM110 184h1v1h-1zM131 184h1v1h-1zM136 184h1v1h-1zM137 184h1v1h-1zM149 184h1v1h-1zM175 184h1v1h-1zM65 185h1v1h-1zM74 185h1v1h-1zM89 185h1v1h-1zM103 185h1v1h-1zM110 185h1v1h-1zM121 185h1v1h-1zM124 185h1v1h-1zM143 186h1v1h-1zM60 187h1v1h-1zM74 187h1v1h-1zM108 187h1v1h-1zM111 187h1v1h-1zM117 187h1v1h-1zM137 187h1v1h-1zM47 188h1v1h-1zM96 188h1v1h-1zM99 188h1v1h-1zM171 188h1v1h-1zM52 189h1v1h-1zM84 189h1v1h-1zM86 189h1v1h-1zM102 189h1v1h-1zM114 189h1v1h-1zM134 189h1v1h-1zM144 189h1v1h-1zM170 189h1v1h-1zM175 189h1v1h-1zM195 189h1v1h-1zM58 190h1v1h-1zM97 190h1v1h-1zM112 190h1v1h-1zM80 191h1v1h-1zM83 191h1v1h-1zM99 191h1v1h-1zM104 191h1v1h-1zM105 191h1v1h-1zM106 191h1v1h-1zM123 191h1v1h-1zM88 192h1v1h-1zM96 192h1v1h-1zM102 192h1v1h-1zM103 192h1v1h-1zM134 192h1v1h-1zM136 192h1v1h-1zM145 192h1v1h-1zM149 192h1v1h-1zM197 192h1v1h-1zM84 193h1v1h-1zM119 193h1v1h-1zM84 194h1v1h-1zM89 194h1v1h-1zM111 194h1v1h-1zM79 195h1v1h-1zM92 195h1v1h-1zM52 196h1v1h-1zM82 196h1v1h-1zM92 196h1v1h-1zM96 196h1v1h-1zM142 196h1v1h-1zM149 196h1v1h-1zM66 197h1v1h-1zM85 197h1v1h-1zM115 197h1v1h-1zM126 197h1v1h-1zM150 197h1v1h-1zM152 197h1v1h-1zM70 198h1v1h-1zM77 198h1v1h-1zM78 198h1v1h-1zM48 199h1v1h-1zM79 199h1v1h-1zM86 199h1v1h-1zM121 199h1v1h-1zM141 199h1v1h-1zM86 200h1v1h-1zM91 200h1v1h-1zM92 200h1v1h-1zM109 200h1v1h-1zM48 201h1v1h-1zM89 201h1v1h-1zM92 201h1v1h-1zM70 202h1v1h-1zM100 202h1v1h-1zM121 202h1v1h-1zM123 202h1v1h-1zM139 202h1v1h-1zM153 202h1v1h-1zM138 203h1v1h-1zM104 205h1v1h-1zM150 205h1v1h-1zM65 206h1v1h-1zM83 206h1v1h-1zM146 206h1v1h-1zM108 207h1v1h-1zM79 208h1v1h-1zM87 208h1v1h-1zM100 208h1v1h-1zM111 208h1v1h-1zM70 209h1v1h-1zM112 209h1v1h-1zM115 209h1v1h-1zM173 209h1v1h-1zM90 210h1v1h-1zM115 210h1v1h-1zM111 212h1v1h-1zM153 212h1v1h-1zM136 213h1v1h-1zM83 214h1v1h-1zM111 214h1v1h-1zM152 214h1v1h-1zM97 216h1v1h-1zM92 217h1v1h-1zM133 217h1v1h-1zM106 219h1v1h-1zM122 219h1v1h-1zM125 223h1v1h-1zM68 234h1v1h-1zM161 237h1v1h-1zM74 248h1v1h-1zM155 251h1v1h-1z"/>
<path fill="#79caea" d="M163 42h1v1h-1zM89 54h1v1h-1zM107 55h1v1h-1zM50 58h1v1h-1zM159 61h1v1h-1zM73 66h1v1h-1zM78 67h1v1h-1zM92 68h1v1h-1zM109 70h1v1h-1zM136 72h1v1h-1zM110 75h1v1h-1zM56 78h1v1h-1zM95 78h1v1h-1zM119 79h1v1h-1zM161 79h1v1h-1zM89 80h1v1h-1zM90 80h1v1h-1zM98 80h1v1h-1zM117 80h1v1h-1zM174 80h1v1h-1zM73 81h1v1h-1zM103 81h1v1h-1zM58 82h1v1h-1zM92 82h1v1h-1zM100 82h1v1h-1zM73 84h1v1h-1zM110 84h1v1h-1zM60 85h1v1h-1zM121 85h1v1h-1zM49 86h1v1h-1zM100 87h1v1h-1zM114 87h1v1h-1zM21 88h1v1h-1zM96 88h1v1h-1zM99 88h1v1h-1zM124 88h1v1h-1zM77 89h1v1h-1zM85 89h1v1h-1zM149 90h1v1h-1zM126 91h1v1h-1zM128 91h1v1h-1zM99 92h1v1h-1zM130 92h1v1h-1zM140 92h1v1h-1zM141 92h1v1h-1zM113 93h1v1h-1zM157 93h1v1h-1zM70 94h1v1h-1zM92 94h1v1h-1zM94 94h1v1h-1zM97 94h1v1h-1zM119 94h1v1h-1zM69 95h1v1h-1zM89 95h1v1h-1zM139 95h1v1h-1zM146 95h1v1h-1zM83 96h1v1h-1zM105 96h1v1h-1zM136 96h1v1h-1zM107 97h1v1h-1zM112 97h1v1h-1zM115 97h1v1h-1zM25 98h1v1h-1zM79 98h1v1h-1zM88 98h1v1h-1zM103 98h1v1h-1zM107 98h1v1h-1zM124 98h1v1h-1zM127 98h1v1h-1zM134 98h1v1h-1zM84 99h1v1h-1zM87 99h1v1h-1zM108 99h1v1h-1zM112 99h1v1h-1zM148 99h1v1h-1zM61 100h1v1h-1zM86 100h1v1h-1zM135 100h1v1h-1zM138 100h1v1h-1zM167 100h1v1h-1zM94 101h1v1h-1zM126 101h1v1h-1zM132 101h1v1h-1zM172 101h1v1h-1zM48 102h1v1h-1zM64 102h1v1h-1zM81 102h1v1h-1zM91 102h1v1h-1zM94 102h1v1h-1zM99 102h1v1h-1zM120 102h1v1h-1zM133 102h1v1h-1zM143 102h1v1h-1zM65 103h1v1h-1zM104 103h1v1h-1zM105 103h1v1h-1zM120 103h1v1h-1zM146 103h1v1h-1zM154 103h1v1h-1zM50 104h1v1h-1zM58 104h1v1h-1zM82 104h1v1h-1zM105 104h1v1h-1zM107 104h1v1h-1zM108 104h1v1h-1zM116 104h1v1h-1zM119 104h1v1h-1zM140 104h1v1h-1zM145 104h1v1h-1zM73 105h1v1h-1zM84 105h1v1h-1zM93 105h1v1h-1zM105 105h1v1h-1zM111 105h1v1h-1zM125 105h1v1h-1zM129 107h1v1h-1zM80 108h1v1h-1zM85 108h1v1h-1zM89 108h1v1h-1zM98 108h1v1h-1zM101 108h1v1h-1zM104 108h1v1h-1zM110 108h1v1h-1zM128 108h1v1h-1zM132 108h1v1h-1zM134 108h1v1h-1zM136 108h1v1h-1zM169 108h1v1h-1zM66 109h1v1h-1zM74 109h1v1h-1zM77 109h1v1h-1zM84 109h1v1h-1zM93 109h1v1h-1zM99 109h1v1h-1zM119 109h1v1h-1zM132 109h1v1h-1zM152 109h1v1h-1zM94 110h1v1h-1zM111 110h1v1h-1zM127 110h1v1h-1zM146 110h1v1h-1zM55 111h1v1h-1zM107 111h1v1h-1zM117 111h1v1h-1zM134 111h1v1h-1zM144 111h1v1h-1zM87 112h1v1h-1zM111 112h1v1h-1zM127 112h1v1h-1zM156 112h1v1h-1zM126 113h1v1h-1zM127 113h1v1h-1zM132 113h1v1h-1zM139 113h1v1h-1zM33 114h1v1h-1zM44 114h1v1h-1zM55 114h1v1h-1zM60 114h1v1h-1zM66 114h1v1h-1zM84 114h1v1h-1zM97 114h1v1h-1zM126 114h1v1h-1zM128 114h1v1h-1zM48 115h1v1h-1zM128 115h1v1h-1zM42 116h1v1h-1zM66 116h1v1h-1zM74 116h1v1h-1zM86 116h1v1h-1zM90 116h1v1h-1zM97 116h1v1h-1zM144 116h1v1h-1zM149 116h1v1h-1zM160 116h1v1h-1zM49 117h1v1h-1zM77 117h1v1h-1zM83 117h1v1h-1zM117 117h1v1h-1zM118 117h1v1h-1zM139 117h1v1h-1zM183 117h1v1h-1zM58 118h1v1h-1zM70 118h1v1h-1zM103 118h1v1h-1zM112 118h1v1h-1zM150 118h1v1h-1zM48 119h1v1h-1zM102 119h1v1h-1zM113 119h1v1h-1zM121 119h1v1h-1zM153 119h1v1h-1zM31 120h1v1h-1zM49 120h1v1h-1zM76 120h1v1h-1zM78 120h1v1h-1zM94 120h1v1h-1zM116 120h1v1h-1zM140 120h1v1h-1zM168 120h1v1h-1zM71 121h1v1h-1zM74 121h1v1h-1zM80 121h1v1h-1zM100 121h1v1h-1zM113 121h1v1h-1zM135 121h1v1h-1zM137 121h1v1h-1zM144 121h1v1h-1zM50 122h1v1h-1zM76 122h1v1h-1zM77 122h1v1h-1zM137 122h1v1h-1zM141 122h1v1h-1zM145 122h1v1h-1zM64 123h1v1h-1zM69 123h1v1h-1zM75 123h1v1h-1zM140 123h1v1h-1zM69 124h1v1h-1zM142 124h1v1h-1zM165 124h1v1h-1zM64 125h1v1h-1zM69 125h1v1h-1zM70 125h1v1h-1zM76 125h1v1h-1zM86 125h1v1h-1zM153 125h1v1h-1zM55 126h1v1h-1zM88 126h1v1h-1zM134 126h1v1h-1zM143 126h1v1h-1zM151 126h1v1h-1zM163 126h1v1h-1zM66 127h1v1h-1zM70 127h1v1h-1zM77 127h1v1h-1zM143 127h1v1h-1zM144 127h1v1h-1zM50 128h1v1h-1zM81 128h1v1h-1zM118 128h1v1h-1zM136 128h1v1h-1zM137 128h1v1h-1zM73 129h1v1h-1zM131 129h1v1h-1zM140 129h1v1h-1zM87 130h1v1h-1zM99 130h1v1h-1zM135 130h1v1h-1zM137 130h1v1h-1zM162 130h1v1h-1zM60 131h1v1h-1zM70 131h1v1h-1zM164 131h1v1h-1zM68 132h1v1h-1zM74 132h1v1h-1zM98 132h1v1h-1zM149 132h1v1h-1zM52 133h1v1h-1zM57 133h1v1h-1zM62 133h1v1h-1zM80 133h1v1h-1zM90 133h1v1h-1zM125 133h1v1h-1zM137 133h1v1h-1zM142 133h1v1h-1zM162 133h1v1h-1zM31 134h1v1h-1zM68 134h1v1h-1zM69 134h1v1h-1zM114 134h1v1h-1zM138 134h1v1h-1zM144 134h1v1h-1zM78 135h1v1h-1zM124 135h1v1h-1zM130 135h1v1h-1zM149 135h1v1h-1zM155 135h1v1h-1zM181 135h1v1h-1zM56 136h1v1h-1zM49 137h1v1h-1zM83 137h1v1h-1zM157 137h1v1h-1zM30 138h1v1h-1zM79 138h1v1h-1zM100 138h1v1h-1zM121 138h1v1h-1zM147 138h1v1h-1zM46 139h1v1h-1zM66 139h1v1h-1zM135 139h1v1h-1zM141 139h1v1h-1zM154 139h1v1h-1zM3 140h1v1h-1zM55 140h1v1h-1zM67 140h1v1h-1zM183 140h1v1h-1zM67 141h1v1h-1zM77 141h1v1h-1zM95 141h1v1h-1zM157 141h1v1h-1zM164 141h1v1h-1zM80 142h1v1h-1zM131 142h1v1h-1zM135 142h1v1h-1zM153 142h1v1h-1zM156 142h1v1h-1zM62 143h1v1h-1zM93 143h1v1h-1zM98 143h1v1h-1zM130 143h1v1h-1zM139 143h1v1h-1zM141 143h1v1h-1zM143 143h1v1h-1zM159 143h1v1h-1zM172 143h1v1h-1zM38 144h1v1h-1zM66 144h1v1h-1zM75 144h1v1h-1zM88 144h1v1h-1zM91 144h1v1h-1zM97 144h1v1h-1zM141 144h1v1h-1zM29 145h1v1h-1zM44 145h1v1h-1zM61 145h1v1h-1zM74 145h1v1h-1zM75 145h1v1h-1zM80 145h1v1h-1zM100 145h1v1h-1zM138 145h1v1h-1zM63 146h1v1h-1zM87 146h1v1h-1zM155 146h1v1h-1zM49 147h1v1h-1zM132 147h1v1h-1zM61 148h1v1h-1zM79 148h1v1h-1zM101 148h1v1h-1zM159 148h1v1h-1zM87 149h1v1h-1zM115 149h1v1h-1zM65 150h1v1h-1zM70 150h1v1h-1zM93 150h1v1h-1zM141 150h1v1h-1zM142 150h1v1h-1zM71 151h1v1h-1zM75 151h1v1h-1zM98 151h1v1h-1zM137 151h1v1h-1zM141 151h1v1h-1zM145 151h1v1h-1zM148 151h1v1h-1zM71 152h1v1h-1zM73 152h1v1h-1zM89 152h1v1h-1zM133 152h1v1h-1zM179 152h1v1h-1zM48 153h1v1h-1zM118 153h1v1h-1zM70 154h1v1h-1zM76 154h1v1h-1zM79 154h1v1h-1zM136 154h1v1h-1zM144 154h1v1h-1zM145 154h1v1h-1zM56 155h1v1h-1zM69 155h1v1h-1zM131 155h1v1h-1zM147 155h1v1h-1zM151 155h1v1h-1zM159 155h1v1h-1zM65 156h1v1h-1zM123 156h1v1h-1zM141 156h1v1h-1zM152 156h1v1h-1zM140 157h1v1h-1zM151 157h1v1h-1zM170 157h1v1h-1zM181 157h1v1h-1zM63 158h1v1h-1zM67 158h1v1h-1zM71 158h1v1h-1zM73 158h1v1h-1zM85 158h1v1h-1zM91 158h1v1h-1zM94 158h1v1h-1zM128 158h1v1h-1zM131 158h1v1h-1zM133 158h1v1h-1zM139 158h1v1h-1zM63 159h1v1h-1zM87 159h1v1h-1zM150 159h1v1h-1zM172 159h1v1h-1zM52 160h1v1h-1zM85 160h1v1h-1zM140 160h1v1h-1zM81 161h1v1h-1zM83 161h1v1h-1zM56 162h1v1h-1zM72 162h1v1h-1zM80 162h1v1h-1zM81 162h1v1h-1zM129 162h1v1h-1zM142 162h1v1h-1zM74 163h1v1h-1zM90 163h1v1h-1zM131 163h1v1h-1zM115 164h1v1h-1zM119 164h1v1h-1zM144 164h1v1h-1zM150 164h1v1h-1zM156 164h1v1h-1zM159 164h1v1h-1zM61 165h1v1h-1zM142 165h1v1h-1zM79 166h1v1h-1zM92 166h1v1h-1zM94 166h1v1h-1zM157 166h1v1h-1zM108 167h1v1h-1zM114 167h1v1h-1zM123 167h1v1h-1zM135 167h1v1h-1zM179 167h1v1h-1zM69 168h1v1h-1zM80 168h1v1h-1zM101 168h1v1h-1zM144 168h1v1h-1zM146 168h1v1h-1zM165 168h1v1h-1zM178 168h1v1h-1zM48 169h1v1h-1zM58 169h1v1h-1zM61 169h1v1h-1zM77 169h1v1h-1zM100 169h1v1h-1zM122 169h1v1h-1zM162 169h1v1h-1zM176 169h1v1h-1zM190 169h1v1h-1zM73 170h1v1h-1zM87 170h1v1h-1zM97 170h1v1h-1zM147 170h1v1h-1zM89 171h1v1h-1zM102 171h1v1h-1zM128 171h1v1h-1zM130 171h1v1h-1zM140 171h1v1h-1zM60 172h1v1h-1zM94 172h1v1h-1zM103 172h1v1h-1zM117 172h1v1h-1zM154 172h1v1h-1zM183 172h1v1h-1zM71 173h1v1h-1zM101 173h1v1h-1zM107 173h1v1h-1zM134 173h1v1h-1zM142 173h1v1h-1zM41 174h1v1h-1zM64 174h1v1h-1zM66 174h1v1h-1zM70 174h1v1h-1zM84 174h1v1h-1zM100 174h1v1h-1zM103 174h1v1h-1zM107 174h1v1h-1zM113 174h1v1h-1zM119 174h1v1h-1zM122 174h1v1h-1zM142 174h1v1h-1zM198 174h1v1h-1zM100 175h1v1h-1zM107 175h1v1h-1zM111 175h1v1h-1zM114 175h1v1h-1zM122 175h1v1h-1zM134 175h1v1h-1zM159 175h1v1h-1zM138 176h1v1h-1zM140 176h1v1h-1zM144 176h1v1h-1zM28 177h1v1h-1zM59 177h1v1h-1zM72 177h1v1h-1zM81 177h1v1h-1zM99 177h1v1h-1zM112 177h1v1h-1zM132 177h1v1h-1zM133 177h1v1h-1zM65 178h1v1h-1zM109 178h1v1h-1zM113 178h1v1h-1zM131 178h1v1h-1zM144 178h1v1h-1zM67 179h1v1h-1zM81 179h1v1h-1zM87 179h1v1h-1zM88 179h1v1h-1zM98 179h1v1h-1zM105 179h1v1h-1zM126 179h1v1h-1zM137 179h1v1h-1zM155 179h1v1h-1zM167 179h1v1h-1zM81 180h1v1h-1zM96 180h1v1h-1zM77 181h1v1h-1zM86 181h1v1h-1zM113 181h1v1h-1zM124 181h1v1h-1zM98 182h1v1h-1zM110 182h1v1h-1zM111 182h1v1h-1zM135 182h1v1h-1zM51 183h1v1h-1zM75 183h1v1h-1zM98 183h1v1h-1zM103 183h1v1h-1zM114 183h1v1h-1zM127 183h1v1h-1zM137 183h1v1h-1zM154 183h1v1h-1zM192 183h1v1h-1zM204 183h1v1h-1zM53 184h1v1h-1zM71 184h1v1h-1zM80 184h1v1h-1zM86 184h1v1h-1zM90 184h1v1h-1zM121 184h1v1h-1zM99 185h1v1h-1zM113 185h1v1h-1zM132 185h1v1h-1zM146 186h1v1h-1zM93 187h1v1h-1zM101 187h1v1h-1zM144 187h1v1h-1zM190 187h1v1h-1zM143 188h1v1h-1zM147 188h1v1h-1zM152 188h1v1h-1zM159 188h1v1h-1zM97 189h1v1h-1zM106 189h1v1h-1zM160 189h1v1h-1zM86 190h1v1h-1zM96 190h1v1h-1zM105 190h1v1h-1zM108 190h1v1h-1zM117 190h1v1h-1zM150 190h1v1h-1zM161 190h1v1h-1zM127 191h1v1h-1zM131 191h1v1h-1zM74 192h1v1h-1zM113 192h1v1h-1zM147 192h1v1h-1zM109 193h1v1h-1zM192 193h1v1h-1zM158 195h1v1h-1zM89 196h1v1h-1zM90 197h1v1h-1zM139 197h1v1h-1zM146 197h1v1h-1zM181 197h1v1h-1zM67 198h1v1h-1zM73 198h1v1h-1zM102 198h1v1h-1zM123 198h1v1h-1zM130 198h1v1h-1zM148 198h1v1h-1zM89 199h1v1h-1zM90 199h1v1h-1zM97 200h1v1h-1zM113 200h1v1h-1zM121 200h1v1h-1zM140 201h1v1h-1zM68 203h1v1h-1zM109 203h1v1h-1zM118 203h1v1h-1zM134 203h1v1h-1zM164 204h1v1h-1zM113 205h1v1h-1zM135 205h1v1h-1zM144 207h1v1h-1zM129 210h1v1h-1zM92 211h1v1h-1zM99 211h1v1h-1zM164 212h1v1h-1zM103 213h1v1h-1zM108 213h1v1h-1zM181 216h1v1h-1zM102 219h1v1h-1zM104 219h1v1h-1zM59 221h1v1h-1zM87 232h1v1h-1zM121 239h1v1h-1z"/>
<path fill="#7dcfde" d="M103 54h1v1h-1zM75 72h1v1h-1zM83 74h1v1h-1zM66 75h1v1h-1zM136 78h1v1h-1zM105 79h1v1h-1zM99 80h1v1h-1zM145 81h1v1h-1zM72 83h1v1h-1zM119 83h1v1h-1zM125 83h1v1h-1zM132 83h1v1h-1zM120 85h1v1h-1zM85 86h1v1h-1zM85 88h1v1h-1zM130 88h1v1h-1zM97 89h1v1h-1zM118 89h1v1h-1zM119 89h1v1h-1zM156 89h1v1h-1zM174 89h1v1h-1zM125 90h1v1h-1zM134 90h1v1h-1zM100 91h1v1h-1zM119 91h1v1h-1zM88 92h1v1h-1zM113 92h1v1h-1zM72 93h1v1h-1zM96 93h1v1h-1zM100 93h1v1h-1zM146 93h1v1h-1zM67 94h1v1h-1zM112 94h1v1h-1zM150 94h1v1h-1zM111 95h1v1h-1zM113 95h1v1h-1zM114 95h1v1h-1zM74 96h1v1h-1zM108 96h1v1h-1zM111 96h1v1h-1zM113 96h1v1h-1zM127 96h1v1h-1zM132 97h1v1h-1zM150 97h1v1h-1zM102 98h1v1h-1zM118 99h1v1h-1zM137 99h1v1h-1zM113 100h1v1h-1zM118 100h1v1h-1zM124 100h1v1h-1zM99 101h1v1h-1zM113 101h1v1h-1zM133 101h1v1h-1zM104 102h1v1h-1zM121 102h1v1h-1zM75 103h1v1h-1zM100 103h1v1h-1zM115 103h1v1h-1zM116 103h1v1h-1zM126 103h1v1h-1zM131 103h1v1h-1zM98 104h1v1h-1zM99 104h1v1h-1zM109 104h1v1h-1zM111 104h1v1h-1zM117 104h1v1h-1zM167 104h1v1h-1zM71 105h1v1h-1zM102 105h1v1h-1zM104 105h1v1h-1zM115 105h1v1h-1zM121 105h1v1h-1zM122 105h1v1h-1zM123 105h1v1h-1zM137 105h1v1h-1zM152 105h1v1h-1zM62 106h1v1h-1zM66 106h1v1h-1zM93 106h1v1h-1zM113 106h1v1h-1zM130 106h1v1h-1zM82 107h1v1h-1zM91 107h1v1h-1zM97 107h1v1h-1zM98 107h1v1h-1zM114 107h1v1h-1zM115 107h1v1h-1zM139 107h1v1h-1zM113 108h1v1h-1zM120 108h1v1h-1zM147 108h1v1h-1zM87 109h1v1h-1zM88 109h1v1h-1zM102 109h1v1h-1zM111 109h1v1h-1zM120 109h1v1h-1zM151 109h1v1h-1zM166 109h1v1h-1zM23 110h1v1h-1zM61 110h1v1h-1zM67 110h1v1h-1zM68 110h1v1h-1zM87 110h1v1h-1zM88 110h1v1h-1zM106 110h1v1h-1zM108 110h1v1h-1zM131 110h1v1h-1zM135 110h1v1h-1zM137 110h1v1h-1zM63 111h1v1h-1zM94 111h1v1h-1zM109 111h1v1h-1zM115 111h1v1h-1zM118 111h1v1h-1zM130 111h1v1h-1zM156 111h1v1h-1zM116 112h1v1h-1zM130 112h1v1h-1zM138 112h1v1h-1zM150 112h1v1h-1zM56 113h1v1h-1zM78 113h1v1h-1zM85 113h1v1h-1zM108 113h1v1h-1zM125 113h1v1h-1zM137 113h1v1h-1zM155 113h1v1h-1zM91 114h1v1h-1zM120 114h1v1h-1zM180 114h1v1h-1zM71 115h1v1h-1zM94 115h1v1h-1zM98 115h1v1h-1zM99 115h1v1h-1zM140 115h1v1h-1zM146 115h1v1h-1zM148 115h1v1h-1zM177 115h1v1h-1zM75 116h1v1h-1zM102 116h1v1h-1zM115 116h1v1h-1zM128 116h1v1h-1zM139 116h1v1h-1zM73 117h1v1h-1zM76 117h1v1h-1zM90 117h1v1h-1zM95 117h1v1h-1zM140 117h1v1h-1zM141 117h1v1h-1zM144 117h1v1h-1zM145 117h1v1h-1zM84 118h1v1h-1zM86 118h1v1h-1zM121 118h1v1h-1zM118 119h1v1h-1zM35 120h1v1h-1zM54 120h1v1h-1zM85 120h1v1h-1zM86 120h1v1h-1zM88 120h1v1h-1zM89 120h1v1h-1zM118 120h1v1h-1zM123 120h1v1h-1zM57 121h1v1h-1zM77 121h1v1h-1zM91 121h1v1h-1zM128 121h1v1h-1zM138 121h1v1h-1zM154 121h1v1h-1zM173 121h1v1h-1zM125 122h1v1h-1zM150 122h1v1h-1zM162 122h1v1h-1zM68 123h1v1h-1zM77 123h1v1h-1zM85 123h1v1h-1zM127 123h1v1h-1zM142 123h1v1h-1zM43 124h1v1h-1zM71 124h1v1h-1zM73 124h1v1h-1zM100 124h1v1h-1zM119 124h1v1h-1zM133 124h1v1h-1zM157 124h1v1h-1zM167 124h1v1h-1zM72 125h1v1h-1zM77 125h1v1h-1zM94 125h1v1h-1zM105 125h1v1h-1zM116 125h1v1h-1zM135 125h1v1h-1zM53 126h1v1h-1zM135 126h1v1h-1zM144 126h1v1h-1zM59 127h1v1h-1zM78 127h1v1h-1zM80 127h1v1h-1zM94 127h1v1h-1zM150 127h1v1h-1zM110 128h1v1h-1zM130 128h1v1h-1zM134 128h1v1h-1zM135 128h1v1h-1zM140 128h1v1h-1zM145 128h1v1h-1zM84 129h1v1h-1zM96 129h1v1h-1zM111 129h1v1h-1zM123 129h1v1h-1zM130 129h1v1h-1zM69 130h1v1h-1zM70 130h1v1h-1zM138 130h1v1h-1zM184 130h1v1h-1zM72 131h1v1h-1zM74 131h1v1h-1zM119 131h1v1h-1zM131 131h1v1h-1zM137 131h1v1h-1zM69 132h1v1h-1zM103 132h1v1h-1zM116 132h1v1h-1zM154 132h1v1h-1zM60 133h1v1h-1zM64 133h1v1h-1zM81 133h1v1h-1zM134 133h1v1h-1zM70 134h1v1h-1zM81 134h1v1h-1zM112 134h1v1h-1zM137 134h1v1h-1zM150 134h1v1h-1zM160 134h1v1h-1zM61 135h1v1h-1zM63 135h1v1h-1zM112 135h1v1h-1zM134 135h1v1h-1zM145 135h1v1h-1zM50 136h1v1h-1zM54 136h1v1h-1zM66 136h1v1h-1zM149 136h1v1h-1zM68 137h1v1h-1zM75 137h1v1h-1zM107 137h1v1h-1zM117 137h1v1h-1zM122 137h1v1h-1zM143 137h1v1h-1zM145 137h1v1h-1zM146 137h1v1h-1zM53 138h1v1h-1zM60 138h1v1h-1zM63 138h1v1h-1zM73 138h1v1h-1zM80 138h1v1h-1zM84 138h1v1h-1zM88 138h1v1h-1zM120 138h1v1h-1zM138 138h1v1h-1zM170 138h1v1h-1zM57 139h1v1h-1zM70 139h1v1h-1zM95 139h1v1h-1zM139 139h1v1h-1zM142 139h1v1h-1zM146 139h1v1h-1zM69 140h1v1h-1zM81 140h1v1h-1zM108 140h1v1h-1zM141 140h1v1h-1zM145 140h1v1h-1zM152 140h1v1h-1zM17 141h1v1h-1zM47 141h1v1h-1zM105 141h1v1h-1zM160 141h1v1h-1zM64 142h1v1h-1zM66 142h1v1h-1zM69 142h1v1h-1zM77 142h1v1h-1zM106 142h1v1h-1zM141 142h1v1h-1zM45 143h1v1h-1zM79 143h1v1h-1zM81 143h1v1h-1zM99 143h1v1h-1zM138 143h1v1h-1zM147 143h1v1h-1zM158 143h1v1h-1zM80 144h1v1h-1zM147 144h1v1h-1zM173 144h1v1h-1zM106 145h1v1h-1zM116 145h1v1h-1zM123 145h1v1h-1zM142 145h1v1h-1zM60 146h1v1h-1zM84 146h1v1h-1zM124 146h1v1h-1zM126 146h1v1h-1zM129 146h1v1h-1zM144 146h1v1h-1zM146 146h1v1h-1zM66 147h1v1h-1zM75 147h1v1h-1zM113 147h1v1h-1zM120 147h1v1h-1zM125 147h1v1h-1zM147 147h1v1h-1zM38 148h1v1h-1zM78 148h1v1h-1zM82 148h1v1h-1zM92 148h1v1h-1zM138 148h1v1h-1zM142 148h1v1h-1zM147 148h1v1h-1zM78 149h1v1h-1zM92 149h1v1h-1zM136 149h1v1h-1zM150 149h1v1h-1zM60 150h1v1h-1zM63 150h1v1h-1zM86 150h1v1h-1zM88 150h1v1h-1zM95 150h1v1h-1zM165 150h1v1h-1zM46 151h1v1h-1zM59 151h1v1h-1zM61 151h1v1h-1zM44 152h1v1h-1zM67 152h1v1h-1zM137 152h1v1h-1zM170 152h1v1h-1zM52 153h1v1h-1zM82 153h1v1h-1zM123 153h1v1h-1zM94 154h1v1h-1zM139 154h1v1h-1zM152 154h1v1h-1zM100 155h1v1h-1zM106 155h1v1h-1zM122 155h1v1h-1zM139 155h1v1h-1zM140 155h1v1h-1zM141 155h1v1h-1zM158 155h1v1h-1zM101 156h1v1h-1zM135 156h1v1h-1zM161 156h1v1h-1zM166 156h1v1h-1zM72 157h1v1h-1zM93 157h1v1h-1zM95 157h1v1h-1zM132 157h1v1h-1zM66 158h1v1h-1zM90 158h1v1h-1zM80 159h1v1h-1zM81 159h1v1h-1zM85 159h1v1h-1zM130 159h1v1h-1zM132 159h1v1h-1zM60 160h1v1h-1zM83 160h1v1h-1zM129 160h1v1h-1zM137 160h1v1h-1zM148 160h1v1h-1zM154 160h1v1h-1zM189 160h1v1h-1zM5 161h1v1h-1zM72 161h1v1h-1zM85 161h1v1h-1zM86 161h1v1h-1zM96 161h1v1h-1zM117 161h1v1h-1zM132 161h1v1h-1zM140 161h1v1h-1zM61 162h1v1h-1zM110 162h1v1h-1zM122 162h1v1h-1zM144 162h1v1h-1zM152 162h1v1h-1zM55 163h1v1h-1zM97 163h1v1h-1zM97 164h1v1h-1zM114 164h1v1h-1zM129 164h1v1h-1zM71 165h1v1h-1zM86 165h1v1h-1zM88 165h1v1h-1zM96 165h1v1h-1zM134 165h1v1h-1zM158 165h1v1h-1zM61 166h1v1h-1zM90 166h1v1h-1zM101 166h1v1h-1zM107 166h1v1h-1zM125 166h1v1h-1zM37 167h1v1h-1zM66 167h1v1h-1zM69 167h1v1h-1zM70 167h1v1h-1zM71 167h1v1h-1zM88 167h1v1h-1zM130 167h1v1h-1zM149 167h1v1h-1zM56 168h1v1h-1zM81 168h1v1h-1zM82 168h1v1h-1zM102 168h1v1h-1zM106 168h1v1h-1zM122 168h1v1h-1zM139 168h1v1h-1zM148 168h1v1h-1zM73 169h1v1h-1zM98 169h1v1h-1zM102 169h1v1h-1zM130 169h1v1h-1zM135 169h1v1h-1zM142 169h1v1h-1zM74 170h1v1h-1zM98 170h1v1h-1zM104 170h1v1h-1zM133 170h1v1h-1zM136 170h1v1h-1zM66 171h1v1h-1zM86 171h1v1h-1zM103 171h1v1h-1zM123 171h1v1h-1zM81 172h1v1h-1zM107 172h1v1h-1zM132 172h1v1h-1zM135 172h1v1h-1zM33 173h1v1h-1zM89 173h1v1h-1zM105 173h1v1h-1zM109 173h1v1h-1zM112 173h1v1h-1zM122 173h1v1h-1zM124 173h1v1h-1zM128 173h1v1h-1zM197 173h1v1h-1zM39 174h1v1h-1zM68 174h1v1h-1zM87 174h1v1h-1zM96 174h1v1h-1zM97 174h1v1h-1zM151 174h1v1h-1zM57 175h1v1h-1zM77 175h1v1h-1zM91 175h1v1h-1zM101 175h1v1h-1zM112 175h1v1h-1zM135 175h1v1h-1zM137 175h1v1h-1zM150 175h1v1h-1zM92 176h1v1h-1zM113 176h1v1h-1zM116 176h1v1h-1zM121 176h1v1h-1zM132 176h1v1h-1zM136 176h1v1h-1zM82 177h1v1h-1zM88 177h1v1h-1zM94 177h1v1h-1zM95 177h1v1h-1zM118 177h1v1h-1zM120 177h1v1h-1zM145 177h1v1h-1zM148 177h1v1h-1zM95 178h1v1h-1zM121 178h1v1h-1zM102 179h1v1h-1zM104 179h1v1h-1zM116 179h1v1h-1zM127 179h1v1h-1zM139 179h1v1h-1zM87 180h1v1h-1zM97 180h1v1h-1zM103 180h1v1h-1zM115 180h1v1h-1zM131 180h1v1h-1zM142 180h1v1h-1zM79 181h1v1h-1zM105 181h1v1h-1zM116 181h1v1h-1zM163 181h1v1h-1zM122 182h1v1h-1zM88 183h1v1h-1zM116 184h1v1h-1zM117 184h1v1h-1zM60 185h1v1h-1zM82 185h1v1h-1zM129 185h1v1h-1zM100 186h1v1h-1zM107 186h1v1h-1zM140 186h1v1h-1zM97 187h1v1h-1zM37 188h1v1h-1zM118 189h1v1h-1zM75 190h1v1h-1zM62 191h1v1h-1zM155 191h1v1h-1zM138 192h1v1h-1zM158 192h1v1h-1zM54 193h1v1h-1zM80 194h1v1h-1zM100 195h1v1h-1zM104 195h1v1h-1zM105 195h1v1h-1zM126 195h1v1h-1zM125 197h1v1h-1zM142 198h1v1h-1zM91 199h1v1h-1zM119 199h1v1h-1zM112 200h1v1h-1zM116 200h1v1h-1zM70 201h1v1h-1zM116 201h1v1h-1zM155 201h1v1h-1zM74 202h1v1h-1zM102 202h1v1h-1zM144 204h1v1h-1zM97 205h1v1h-1zM116 205h1v1h-1zM142 205h1v1h-1zM143 207h1v1h-1zM85 208h1v1h-1zM122 208h1v1h-1zM117 209h1v1h-1zM110 212h1v1h-1zM85 242h1v1h-1z"/>
<path fill="#81d4d2" d="M96 69h1v1h-1zM99 69h1v1h-1zM38 74h1v1h-1zM96 75h1v1h-1zM76 78h1v1h-1zM120 81h1v1h-1zM72 85h1v1h-1zM142 85h1v1h-1zM132 86h1v1h-1zM149 86h1v1h-1zM68 87h1v1h-1zM139 87h1v1h-1zM71 88h1v1h-1zM91 88h1v1h-1zM120 89h1v1h-1zM130 90h1v1h-1zM133 90h1v1h-1zM109 91h1v1h-1zM132 91h1v1h-1zM74 94h1v1h-1zM98 94h1v1h-1zM101 96h1v1h-1zM103 96h1v1h-1zM80 97h1v1h-1zM85 97h1v1h-1zM158 97h1v1h-1zM83 98h1v1h-1zM91 98h1v1h-1zM104 98h1v1h-1zM111 98h1v1h-1zM131 98h1v1h-1zM107 99h1v1h-1zM95 100h1v1h-1zM104 100h1v1h-1zM131 100h1v1h-1zM117 101h1v1h-1zM134 101h1v1h-1zM136 101h1v1h-1zM72 102h1v1h-1zM100 102h1v1h-1zM145 102h1v1h-1zM84 103h1v1h-1zM103 103h1v1h-1zM84 104h1v1h-1zM97 104h1v1h-1zM114 104h1v1h-1zM127 104h1v1h-1zM131 104h1v1h-1zM152 104h1v1h-1zM78 105h1v1h-1zM92 105h1v1h-1zM120 105h1v1h-1zM135 105h1v1h-1zM143 105h1v1h-1zM165 105h1v1h-1zM120 106h1v1h-1zM136 106h1v1h-1zM90 107h1v1h-1zM94 107h1v1h-1zM99 107h1v1h-1zM117 107h1v1h-1zM130 107h1v1h-1zM90 108h1v1h-1zM107 108h1v1h-1zM148 108h1v1h-1zM76 109h1v1h-1zM107 109h1v1h-1zM116 109h1v1h-1zM117 109h1v1h-1zM141 109h1v1h-1zM60 110h1v1h-1zM90 110h1v1h-1zM113 110h1v1h-1zM126 110h1v1h-1zM83 111h1v1h-1zM86 111h1v1h-1zM106 111h1v1h-1zM112 111h1v1h-1zM124 111h1v1h-1zM72 112h1v1h-1zM90 112h1v1h-1zM92 112h1v1h-1zM114 112h1v1h-1zM126 112h1v1h-1zM75 113h1v1h-1zM91 113h1v1h-1zM136 113h1v1h-1zM69 114h1v1h-1zM74 114h1v1h-1zM92 114h1v1h-1zM109 114h1v1h-1zM112 114h1v1h-1zM80 115h1v1h-1zM100 115h1v1h-1zM102 115h1v1h-1zM106 115h1v1h-1zM130 115h1v1h-1zM141 115h1v1h-1zM48 116h1v1h-1zM77 116h1v1h-1zM78 116h1v1h-1zM103 116h1v1h-1zM116 116h1v1h-1zM123 116h1v1h-1zM126 116h1v1h-1zM132 116h1v1h-1zM96 117h1v1h-1zM120 117h1v1h-1zM122 117h1v1h-1zM125 117h1v1h-1zM135 117h1v1h-1zM66 118h1v1h-1zM96 118h1v1h-1zM101 118h1v1h-1zM104 118h1v1h-1zM119 118h1v1h-1zM141 118h1v1h-1zM97 119h1v1h-1zM108 119h1v1h-1zM137 119h1v1h-1zM141 119h1v1h-1zM128 120h1v1h-1zM141 120h1v1h-1zM144 120h1v1h-1zM149 120h1v1h-1zM93 121h1v1h-1zM99 121h1v1h-1zM133 121h1v1h-1zM148 121h1v1h-1zM160 121h1v1h-1zM87 122h1v1h-1zM128 122h1v1h-1zM132 122h1v1h-1zM92 123h1v1h-1zM126 123h1v1h-1zM74 124h1v1h-1zM121 124h1v1h-1zM127 124h1v1h-1zM136 124h1v1h-1zM139 124h1v1h-1zM38 125h1v1h-1zM103 125h1v1h-1zM158 125h1v1h-1zM163 125h1v1h-1zM49 126h1v1h-1zM62 126h1v1h-1zM71 126h1v1h-1zM133 126h1v1h-1zM136 126h1v1h-1zM155 126h1v1h-1zM48 127h1v1h-1zM82 127h1v1h-1zM86 127h1v1h-1zM89 127h1v1h-1zM98 127h1v1h-1zM107 127h1v1h-1zM108 127h1v1h-1zM133 127h1v1h-1zM156 127h1v1h-1zM75 128h1v1h-1zM76 128h1v1h-1zM83 128h1v1h-1zM153 128h1v1h-1zM37 129h1v1h-1zM76 129h1v1h-1zM136 129h1v1h-1zM138 129h1v1h-1zM139 129h1v1h-1zM50 130h1v1h-1zM84 130h1v1h-1zM173 130h1v1h-1zM52 131h1v1h-1zM69 131h1v1h-1zM135 131h1v1h-1zM141 131h1v1h-1zM142 131h1v1h-1zM73 132h1v1h-1zM85 132h1v1h-1zM106 132h1v1h-1zM152 132h1v1h-1zM45 133h1v1h-1zM114 133h1v1h-1zM126 133h1v1h-1zM79 134h1v1h-1zM136 134h1v1h-1zM146 134h1v1h-1zM147 134h1v1h-1zM148 134h1v1h-1zM149 134h1v1h-1zM65 135h1v1h-1zM72 135h1v1h-1zM75 135h1v1h-1zM146 135h1v1h-1zM68 136h1v1h-1zM82 136h1v1h-1zM89 136h1v1h-1zM110 136h1v1h-1zM140 136h1v1h-1zM79 137h1v1h-1zM120 137h1v1h-1zM134 137h1v1h-1zM141 137h1v1h-1zM142 137h1v1h-1zM85 138h1v1h-1zM98 138h1v1h-1zM139 138h1v1h-1zM144 138h1v1h-1zM58 139h1v1h-1zM74 139h1v1h-1zM130 139h1v1h-1zM138 139h1v1h-1zM66 140h1v1h-1zM83 140h1v1h-1zM84 140h1v1h-1zM119 140h1v1h-1zM122 140h1v1h-1zM190 140h1v1h-1zM75 141h1v1h-1zM50 142h1v1h-1zM57 142h1v1h-1zM81 142h1v1h-1zM85 142h1v1h-1zM142 142h1v1h-1zM124 143h1v1h-1zM127 143h1v1h-1zM160 143h1v1h-1zM62 144h1v1h-1zM63 144h1v1h-1zM70 144h1v1h-1zM90 144h1v1h-1zM116 144h1v1h-1zM150 144h1v1h-1zM63 145h1v1h-1zM132 145h1v1h-1zM133 145h1v1h-1zM150 145h1v1h-1zM157 145h1v1h-1zM86 146h1v1h-1zM101 146h1v1h-1zM57 147h1v1h-1zM59 147h1v1h-1zM135 147h1v1h-1zM143 147h1v1h-1zM75 148h1v1h-1zM85 148h1v1h-1zM153 148h1v1h-1zM88 149h1v1h-1zM96 150h1v1h-1zM131 150h1v1h-1zM140 150h1v1h-1zM133 151h1v1h-1zM144 151h1v1h-1zM41 152h1v1h-1zM88 152h1v1h-1zM99 152h1v1h-1zM120 152h1v1h-1zM65 153h1v1h-1zM79 153h1v1h-1zM109 153h1v1h-1zM142 153h1v1h-1zM152 153h1v1h-1zM166 153h1v1h-1zM81 154h1v1h-1zM83 154h1v1h-1zM87 154h1v1h-1zM131 154h1v1h-1zM137 154h1v1h-1zM142 154h1v1h-1zM161 154h1v1h-1zM57 155h1v1h-1zM67 155h1v1h-1zM71 155h1v1h-1zM78 155h1v1h-1zM137 155h1v1h-1zM146 155h1v1h-1zM155 155h1v1h-1zM69 156h1v1h-1zM71 156h1v1h-1zM115 156h1v1h-1zM143 156h1v1h-1zM63 157h1v1h-1zM106 157h1v1h-1zM143 157h1v1h-1zM76 158h1v1h-1zM123 158h1v1h-1zM129 158h1v1h-1zM134 158h1v1h-1zM152 158h1v1h-1zM82 159h1v1h-1zM108 159h1v1h-1zM137 159h1v1h-1zM75 160h1v1h-1zM86 160h1v1h-1zM87 160h1v1h-1zM115 160h1v1h-1zM141 160h1v1h-1zM77 161h1v1h-1zM87 161h1v1h-1zM123 161h1v1h-1zM87 162h1v1h-1zM97 162h1v1h-1zM99 162h1v1h-1zM114 162h1v1h-1zM126 162h1v1h-1zM127 162h1v1h-1zM135 162h1v1h-1zM141 162h1v1h-1zM98 163h1v1h-1zM139 163h1v1h-1zM60 164h1v1h-1zM102 164h1v1h-1zM120 164h1v1h-1zM101 165h1v1h-1zM110 165h1v1h-1zM117 165h1v1h-1zM64 166h1v1h-1zM71 166h1v1h-1zM138 166h1v1h-1zM31 167h1v1h-1zM85 167h1v1h-1zM112 167h1v1h-1zM137 167h1v1h-1zM93 168h1v1h-1zM115 168h1v1h-1zM50 169h1v1h-1zM66 169h1v1h-1zM67 169h1v1h-1zM72 169h1v1h-1zM125 169h1v1h-1zM158 169h1v1h-1zM114 170h1v1h-1zM78 171h1v1h-1zM125 171h1v1h-1zM127 172h1v1h-1zM66 173h1v1h-1zM87 173h1v1h-1zM139 173h1v1h-1zM150 173h1v1h-1zM99 174h1v1h-1zM104 174h1v1h-1zM117 174h1v1h-1zM127 174h1v1h-1zM147 174h1v1h-1zM167 174h1v1h-1zM171 174h1v1h-1zM121 175h1v1h-1zM149 175h1v1h-1zM57 176h1v1h-1zM67 176h1v1h-1zM79 176h1v1h-1zM91 176h1v1h-1zM99 176h1v1h-1zM108 176h1v1h-1zM120 176h1v1h-1zM85 177h1v1h-1zM91 177h1v1h-1zM111 177h1v1h-1zM138 177h1v1h-1zM147 177h1v1h-1zM90 179h1v1h-1zM91 179h1v1h-1zM106 179h1v1h-1zM187 179h1v1h-1zM149 180h1v1h-1zM103 181h1v1h-1zM108 181h1v1h-1zM117 181h1v1h-1zM120 183h1v1h-1zM87 184h1v1h-1zM107 184h1v1h-1zM58 185h1v1h-1zM136 185h1v1h-1zM171 185h1v1h-1zM85 186h1v1h-1zM113 186h1v1h-1zM116 187h1v1h-1zM126 187h1v1h-1zM104 188h1v1h-1zM138 188h1v1h-1zM160 188h1v1h-1zM88 189h1v1h-1zM103 189h1v1h-1zM133 189h1v1h-1zM134 190h1v1h-1zM109 191h1v1h-1zM114 193h1v1h-1zM131 194h1v1h-1zM87 195h1v1h-1zM155 195h1v1h-1zM93 197h1v1h-1zM94 201h1v1h-1zM130 201h1v1h-1zM58 203h1v1h-1zM101 203h1v1h-1zM66 212h1v1h-1zM45 226h1v1h-1zM133 257h1v1h-1z"/>
<path fill="#88d8c1" d="M96 64h1v1h-1zM163 66h1v1h-1zM90 70h1v1h-1zM107 77h1v1h-1zM92 81h1v1h-1zM81 83h1v1h-1zM68 85h1v1h-1zM107 88h1v1h-1zM111 88h1v1h-1zM129 88h1v1h-1zM112 90h1v1h-1zM122 91h1v1h-1zM140 91h1v1h-1zM121 92h1v1h-1zM99 94h1v1h-1zM74 95h1v1h-1zM112 96h1v1h-1zM122 96h1v1h-1zM134 96h1v1h-1zM139 96h1v1h-1zM114 97h1v1h-1zM117 97h1v1h-1zM131 97h1v1h-1zM114 98h1v1h-1zM117 98h1v1h-1zM137 98h1v1h-1zM102 99h1v1h-1zM123 99h1v1h-1zM135 99h1v1h-1zM103 100h1v1h-1zM116 101h1v1h-1zM79 102h1v1h-1zM116 102h1v1h-1zM98 103h1v1h-1zM122 103h1v1h-1zM79 104h1v1h-1zM112 104h1v1h-1zM113 104h1v1h-1zM94 105h1v1h-1zM103 105h1v1h-1zM101 106h1v1h-1zM114 106h1v1h-1zM128 106h1v1h-1zM132 107h1v1h-1zM108 108h1v1h-1zM109 108h1v1h-1zM118 108h1v1h-1zM131 108h1v1h-1zM133 108h1v1h-1zM55 109h1v1h-1zM90 109h1v1h-1zM106 109h1v1h-1zM108 109h1v1h-1zM73 110h1v1h-1zM79 110h1v1h-1zM89 110h1v1h-1zM95 110h1v1h-1zM125 110h1v1h-1zM130 110h1v1h-1zM92 111h1v1h-1zM103 111h1v1h-1zM116 111h1v1h-1zM127 111h1v1h-1zM89 112h1v1h-1zM101 112h1v1h-1zM112 112h1v1h-1zM113 112h1v1h-1zM131 112h1v1h-1zM136 112h1v1h-1zM131 113h1v1h-1zM98 114h1v1h-1zM123 114h1v1h-1zM79 115h1v1h-1zM81 115h1v1h-1zM110 115h1v1h-1zM136 115h1v1h-1zM152 115h1v1h-1zM72 116h1v1h-1zM114 116h1v1h-1zM119 116h1v1h-1zM110 117h1v1h-1zM78 118h1v1h-1zM83 118h1v1h-1zM143 118h1v1h-1zM53 119h1v1h-1zM123 119h1v1h-1zM136 119h1v1h-1zM151 119h1v1h-1zM74 120h1v1h-1zM103 120h1v1h-1zM121 120h1v1h-1zM133 120h1v1h-1zM134 120h1v1h-1zM137 120h1v1h-1zM59 121h1v1h-1zM64 121h1v1h-1zM81 121h1v1h-1zM159 121h1v1h-1zM61 122h1v1h-1zM94 122h1v1h-1zM80 123h1v1h-1zM75 124h1v1h-1zM126 124h1v1h-1zM141 124h1v1h-1zM136 125h1v1h-1zM139 125h1v1h-1zM65 126h1v1h-1zM75 126h1v1h-1zM91 126h1v1h-1zM150 126h1v1h-1zM92 127h1v1h-1zM116 127h1v1h-1zM145 127h1v1h-1zM80 128h1v1h-1zM88 128h1v1h-1zM133 128h1v1h-1zM155 128h1v1h-1zM63 129h1v1h-1zM158 129h1v1h-1zM55 130h1v1h-1zM136 130h1v1h-1zM166 130h1v1h-1zM66 131h1v1h-1zM79 131h1v1h-1zM159 131h1v1h-1zM110 132h1v1h-1zM142 132h1v1h-1zM76 133h1v1h-1zM43 134h1v1h-1zM76 134h1v1h-1zM90 134h1v1h-1zM145 134h1v1h-1zM71 135h1v1h-1zM139 135h1v1h-1zM142 135h1v1h-1zM163 135h1v1h-1zM180 135h1v1h-1zM120 136h1v1h-1zM122 136h1v1h-1zM144 136h1v1h-1zM85 137h1v1h-1zM92 137h1v1h-1zM130 137h1v1h-1zM66 138h1v1h-1zM72 138h1v1h-1zM74 138h1v1h-1zM75 138h1v1h-1zM122 138h1v1h-1zM137 138h1v1h-1zM167 138h1v1h-1zM54 139h1v1h-1zM80 139h1v1h-1zM150 139h1v1h-1zM107 140h1v1h-1zM139 140h1v1h-1zM58 141h1v1h-1zM120 141h1v1h-1zM94 142h1v1h-1zM146 142h1v1h-1zM172 142h1v1h-1zM80 143h1v1h-1zM151 143h1v1h-1zM74 144h1v1h-1zM82 144h1v1h-1zM130 144h1v1h-1zM67 145h1v1h-1zM79 145h1v1h-1zM69 146h1v1h-1zM109 146h1v1h-1zM143 146h1v1h-1zM34 147h1v1h-1zM67 147h1v1h-1zM80 147h1v1h-1zM88 147h1v1h-1zM89 147h1v1h-1zM100 147h1v1h-1zM134 147h1v1h-1zM141 147h1v1h-1zM154 147h1v1h-1zM84 148h1v1h-1zM146 148h1v1h-1zM151 148h1v1h-1zM154 148h1v1h-1zM56 149h1v1h-1zM80 150h1v1h-1zM106 150h1v1h-1zM143 150h1v1h-1zM79 151h1v1h-1zM81 151h1v1h-1zM86 151h1v1h-1zM134 151h1v1h-1zM147 151h1v1h-1zM150 151h1v1h-1zM155 151h1v1h-1zM187 151h1v1h-1zM128 152h1v1h-1zM142 152h1v1h-1zM80 153h1v1h-1zM167 153h1v1h-1zM61 154h1v1h-1zM82 154h1v1h-1zM73 155h1v1h-1zM102 155h1v1h-1zM78 156h1v1h-1zM68 157h1v1h-1zM129 157h1v1h-1zM141 157h1v1h-1zM75 158h1v1h-1zM141 158h1v1h-1zM153 158h1v1h-1zM174 158h1v1h-1zM83 159h1v1h-1zM84 159h1v1h-1zM133 159h1v1h-1zM162 159h1v1h-1zM72 160h1v1h-1zM75 161h1v1h-1zM94 161h1v1h-1zM126 161h1v1h-1zM156 161h1v1h-1zM106 162h1v1h-1zM113 162h1v1h-1zM118 162h1v1h-1zM121 162h1v1h-1zM79 163h1v1h-1zM126 163h1v1h-1zM130 163h1v1h-1zM94 164h1v1h-1zM134 164h1v1h-1zM136 164h1v1h-1zM142 164h1v1h-1zM145 164h1v1h-1zM44 165h1v1h-1zM120 165h1v1h-1zM121 165h1v1h-1zM126 165h1v1h-1zM129 165h1v1h-1zM145 165h1v1h-1zM162 165h1v1h-1zM81 166h1v1h-1zM82 166h1v1h-1zM96 166h1v1h-1zM117 167h1v1h-1zM121 167h1v1h-1zM53 168h1v1h-1zM59 168h1v1h-1zM118 168h1v1h-1zM134 168h1v1h-1zM93 169h1v1h-1zM109 169h1v1h-1zM126 169h1v1h-1zM94 170h1v1h-1zM101 170h1v1h-1zM125 170h1v1h-1zM126 170h1v1h-1zM137 170h1v1h-1zM95 171h1v1h-1zM100 171h1v1h-1zM64 172h1v1h-1zM100 172h1v1h-1zM118 172h1v1h-1zM151 172h1v1h-1zM108 173h1v1h-1zM138 173h1v1h-1zM71 174h1v1h-1zM93 174h1v1h-1zM110 174h1v1h-1zM115 174h1v1h-1zM120 174h1v1h-1zM121 174h1v1h-1zM134 174h1v1h-1zM140 174h1v1h-1zM97 176h1v1h-1zM122 176h1v1h-1zM74 177h1v1h-1zM121 177h1v1h-1zM86 178h1v1h-1zM99 178h1v1h-1zM115 178h1v1h-1zM116 178h1v1h-1zM80 179h1v1h-1zM107 179h1v1h-1zM111 179h1v1h-1zM114 179h1v1h-1zM46 180h1v1h-1zM84 180h1v1h-1zM90 180h1v1h-1zM83 183h1v1h-1zM84 184h1v1h-1zM102 185h1v1h-1zM117 186h1v1h-1zM119 186h1v1h-1zM72 187h1v1h-1zM102 187h1v1h-1zM121 187h1v1h-1zM76 188h1v1h-1zM120 188h1v1h-1zM67 189h1v1h-1zM99 189h1v1h-1zM135 189h1v1h-1zM95 191h1v1h-1zM114 191h1v1h-1zM93 194h1v1h-1zM102 194h1v1h-1zM140 195h1v1h-1zM105 196h1v1h-1zM113 196h1v1h-1zM68 197h1v1h-1zM141 206h1v1h-1zM123 208h1v1h-1zM91 220h1v1h-1z"/>
<path fill="#92daac" d="M100 73h1v1h-1zM76 76h1v1h-1zM90 83h1v1h-1zM112 84h1v1h-1zM125 86h1v1h-1zM91 89h1v1h-1zM83 90h1v1h-1zM116 90h1v1h-1zM69 92h1v1h-1zM119 93h1v1h-1zM88 96h1v1h-1zM121 96h1v1h-1zM86 97h1v1h-1zM89 97h1v1h-1zM133 97h1v1h-1zM71 98h1v1h-1zM121 99h1v1h-1zM114 100h1v1h-1zM125 100h1v1h-1zM134 100h1v1h-1zM98 102h1v1h-1zM108 102h1v1h-1zM113 103h1v1h-1zM133 103h1v1h-1zM158 104h1v1h-1zM101 105h1v1h-1zM128 105h1v1h-1zM134 105h1v1h-1zM136 105h1v1h-1zM168 105h1v1h-1zM96 106h1v1h-1zM116 106h1v1h-1zM121 107h1v1h-1zM99 108h1v1h-1zM106 108h1v1h-1zM81 109h1v1h-1zM94 109h1v1h-1zM96 109h1v1h-1zM101 109h1v1h-1zM129 109h1v1h-1zM75 110h1v1h-1zM78 110h1v1h-1zM75 111h1v1h-1zM85 111h1v1h-1zM88 111h1v1h-1zM138 111h1v1h-1zM98 112h1v1h-1zM140 112h1v1h-1zM90 113h1v1h-1zM98 113h1v1h-1zM100 113h1v1h-1zM105 113h1v1h-1zM160 113h1v1h-1zM107 114h1v1h-1zM138 114h1v1h-1zM89 115h1v1h-1zM125 115h1v1h-1zM79 116h1v1h-1zM88 116h1v1h-1zM96 116h1v1h-1zM105 116h1v1h-1zM68 117h1v1h-1zM86 117h1v1h-1zM123 117h1v1h-1zM127 117h1v1h-1zM98 118h1v1h-1zM109 118h1v1h-1zM144 118h1v1h-1zM80 119h1v1h-1zM100 119h1v1h-1zM120 119h1v1h-1zM135 120h1v1h-1zM138 120h1v1h-1zM92 121h1v1h-1zM129 121h1v1h-1zM145 121h1v1h-1zM79 122h1v1h-1zM88 122h1v1h-1zM103 122h1v1h-1zM73 123h1v1h-1zM74 123h1v1h-1zM98 124h1v1h-1zM131 124h1v1h-1zM63 125h1v1h-1zM88 125h1v1h-1zM125 125h1v1h-1zM133 125h1v1h-1zM146 125h1v1h-1zM81 126h1v1h-1zM118 127h1v1h-1zM123 127h1v1h-1zM166 128h1v1h-1zM129 129h1v1h-1zM146 129h1v1h-1zM72 130h1v1h-1zM101 130h1v1h-1zM123 130h1v1h-1zM125 130h1v1h-1zM84 131h1v1h-1zM123 131h1v1h-1zM134 131h1v1h-1zM79 132h1v1h-1zM132 132h1v1h-1zM49 133h1v1h-1zM91 133h1v1h-1zM141 133h1v1h-1zM78 134h1v1h-1zM109 134h1v1h-1zM116 135h1v1h-1zM137 135h1v1h-1zM150 135h1v1h-1zM80 136h1v1h-1zM92 136h1v1h-1zM152 136h1v1h-1zM154 136h1v1h-1zM66 137h1v1h-1zM81 137h1v1h-1zM101 137h1v1h-1zM148 137h1v1h-1zM128 138h1v1h-1zM131 138h1v1h-1zM163 138h1v1h-1zM67 139h1v1h-1zM76 139h1v1h-1zM144 139h1v1h-1zM77 140h1v1h-1zM80 140h1v1h-1zM118 140h1v1h-1zM143 140h1v1h-1zM63 141h1v1h-1zM71 141h1v1h-1zM104 141h1v1h-1zM115 141h1v1h-1zM134 141h1v1h-1zM148 141h1v1h-1zM115 142h1v1h-1zM121 142h1v1h-1zM78 143h1v1h-1zM98 144h1v1h-1zM101 144h1v1h-1zM139 144h1v1h-1zM175 144h1v1h-1zM81 145h1v1h-1zM91 145h1v1h-1zM117 145h1v1h-1zM73 146h1v1h-1zM76 146h1v1h-1zM110 146h1v1h-1zM63 147h1v1h-1zM118 147h1v1h-1zM42 148h1v1h-1zM62 148h1v1h-1zM87 148h1v1h-1zM131 149h1v1h-1zM133 149h1v1h-1zM146 149h1v1h-1zM62 150h1v1h-1zM105 151h1v1h-1zM27 152h1v1h-1zM75 152h1v1h-1zM78 152h1v1h-1zM132 152h1v1h-1zM135 152h1v1h-1zM140 152h1v1h-1zM72 153h1v1h-1zM75 153h1v1h-1zM92 153h1v1h-1zM110 153h1v1h-1zM141 153h1v1h-1zM65 154h1v1h-1zM91 154h1v1h-1zM135 154h1v1h-1zM81 155h1v1h-1zM87 155h1v1h-1zM130 155h1v1h-1zM82 156h1v1h-1zM153 156h1v1h-1zM80 157h1v1h-1zM81 157h1v1h-1zM87 157h1v1h-1zM111 157h1v1h-1zM127 157h1v1h-1zM139 157h1v1h-1zM92 158h1v1h-1zM151 158h1v1h-1zM74 159h1v1h-1zM75 159h1v1h-1zM78 160h1v1h-1zM146 160h1v1h-1zM108 161h1v1h-1zM115 161h1v1h-1zM127 161h1v1h-1zM133 161h1v1h-1zM104 162h1v1h-1zM132 162h1v1h-1zM133 162h1v1h-1zM158 162h1v1h-1zM84 163h1v1h-1zM112 163h1v1h-1zM117 163h1v1h-1zM122 163h1v1h-1zM141 163h1v1h-1zM161 163h1v1h-1zM77 164h1v1h-1zM79 164h1v1h-1zM82 164h1v1h-1zM84 164h1v1h-1zM104 164h1v1h-1zM99 165h1v1h-1zM105 165h1v1h-1zM118 165h1v1h-1zM163 165h1v1h-1zM103 166h1v1h-1zM123 166h1v1h-1zM84 167h1v1h-1zM102 167h1v1h-1zM132 167h1v1h-1zM84 168h1v1h-1zM96 168h1v1h-1zM97 168h1v1h-1zM105 168h1v1h-1zM112 168h1v1h-1zM125 168h1v1h-1zM131 168h1v1h-1zM107 169h1v1h-1zM120 169h1v1h-1zM131 169h1v1h-1zM143 169h1v1h-1zM84 170h1v1h-1zM118 170h1v1h-1zM132 170h1v1h-1zM68 171h1v1h-1zM85 172h1v1h-1zM87 172h1v1h-1zM102 172h1v1h-1zM115 172h1v1h-1zM91 173h1v1h-1zM106 174h1v1h-1zM125 174h1v1h-1zM200 174h1v1h-1zM92 175h1v1h-1zM95 175h1v1h-1zM113 175h1v1h-1zM66 176h1v1h-1zM123 176h1v1h-1zM150 176h1v1h-1zM122 177h1v1h-1zM108 178h1v1h-1zM79 179h1v1h-1zM119 179h1v1h-1zM134 180h1v1h-1zM112 181h1v1h-1zM126 181h1v1h-1zM133 181h1v1h-1zM79 183h1v1h-1zM96 183h1v1h-1zM106 183h1v1h-1zM105 185h1v1h-1zM108 185h1v1h-1zM107 187h1v1h-1zM161 187h1v1h-1zM129 190h1v1h-1zM70 194h1v1h-1zM123 194h1v1h-1zM125 210h1v1h-1zM101 220h1v1h-1z"/>
<path fill="#9ddc97" d="M138 74h1v1h-1zM150 79h1v1h-1zM106 81h1v1h-1zM99 84h1v1h-1zM97 91h1v1h-1zM101 95h1v1h-1zM57 98h1v1h-1zM110 98h1v1h-1zM94 99h1v1h-1zM104 99h1v1h-1zM105 99h1v1h-1zM105 100h1v1h-1zM111 100h1v1h-1zM117 100h1v1h-1zM85 101h1v1h-1zM92 102h1v1h-1zM94 103h1v1h-1zM106 103h1v1h-1zM119 103h1v1h-1zM80 104h1v1h-1zM118 104h1v1h-1zM125 104h1v1h-1zM129 104h1v1h-1zM96 105h1v1h-1zM109 105h1v1h-1zM95 106h1v1h-1zM122 106h1v1h-1zM139 106h1v1h-1zM103 107h1v1h-1zM111 107h1v1h-1zM122 107h1v1h-1zM123 107h1v1h-1zM91 108h1v1h-1zM126 108h1v1h-1zM112 109h1v1h-1zM115 109h1v1h-1zM133 109h1v1h-1zM134 109h1v1h-1zM104 110h1v1h-1zM82 111h1v1h-1zM91 111h1v1h-1zM114 111h1v1h-1zM128 111h1v1h-1zM66 112h1v1h-1zM78 112h1v1h-1zM117 112h1v1h-1zM119 112h1v1h-1zM42 113h1v1h-1zM96 113h1v1h-1zM106 113h1v1h-1zM129 113h1v1h-1zM100 114h1v1h-1zM110 114h1v1h-1zM119 114h1v1h-1zM72 115h1v1h-1zM92 115h1v1h-1zM119 115h1v1h-1zM87 116h1v1h-1zM99 116h1v1h-1zM111 116h1v1h-1zM97 117h1v1h-1zM104 117h1v1h-1zM129 117h1v1h-1zM105 118h1v1h-1zM106 118h1v1h-1zM125 118h1v1h-1zM91 120h1v1h-1zM96 120h1v1h-1zM130 120h1v1h-1zM131 120h1v1h-1zM110 121h1v1h-1zM111 121h1v1h-1zM158 121h1v1h-1zM72 122h1v1h-1zM104 122h1v1h-1zM122 122h1v1h-1zM134 122h1v1h-1zM81 123h1v1h-1zM86 123h1v1h-1zM131 123h1v1h-1zM90 124h1v1h-1zM114 124h1v1h-1zM118 124h1v1h-1zM129 124h1v1h-1zM135 124h1v1h-1zM148 125h1v1h-1zM82 126h1v1h-1zM123 126h1v1h-1zM138 126h1v1h-1zM140 126h1v1h-1zM73 127h1v1h-1zM109 127h1v1h-1zM114 127h1v1h-1zM168 127h1v1h-1zM103 128h1v1h-1zM139 128h1v1h-1zM142 128h1v1h-1zM159 128h1v1h-1zM71 129h1v1h-1zM101 129h1v1h-1zM135 129h1v1h-1zM76 130h1v1h-1zM86 130h1v1h-1zM105 131h1v1h-1zM107 131h1v1h-1zM139 131h1v1h-1zM66 132h1v1h-1zM128 132h1v1h-1zM146 132h1v1h-1zM158 132h1v1h-1zM79 133h1v1h-1zM77 134h1v1h-1zM103 135h1v1h-1zM77 136h1v1h-1zM85 136h1v1h-1zM134 136h1v1h-1zM70 137h1v1h-1zM87 137h1v1h-1zM89 137h1v1h-1zM136 137h1v1h-1zM91 138h1v1h-1zM161 138h1v1h-1zM77 139h1v1h-1zM73 140h1v1h-1zM75 140h1v1h-1zM78 140h1v1h-1zM129 140h1v1h-1zM146 140h1v1h-1zM78 141h1v1h-1zM93 141h1v1h-1zM112 141h1v1h-1zM145 141h1v1h-1zM151 141h1v1h-1zM87 142h1v1h-1zM138 142h1v1h-1zM148 142h1v1h-1zM67 143h1v1h-1zM122 143h1v1h-1zM135 143h1v1h-1zM102 144h1v1h-1zM132 144h1v1h-1zM134 144h1v1h-1zM144 144h1v1h-1zM83 145h1v1h-1zM112 146h1v1h-1zM133 146h1v1h-1zM135 146h1v1h-1zM137 147h1v1h-1zM90 148h1v1h-1zM85 149h1v1h-1zM111 149h1v1h-1zM129 149h1v1h-1zM145 149h1v1h-1zM75 150h1v1h-1zM77 150h1v1h-1zM85 150h1v1h-1zM123 150h1v1h-1zM166 150h1v1h-1zM99 151h1v1h-1zM101 151h1v1h-1zM136 151h1v1h-1zM138 151h1v1h-1zM82 152h1v1h-1zM85 152h1v1h-1zM92 152h1v1h-1zM108 152h1v1h-1zM117 152h1v1h-1zM145 152h1v1h-1zM69 153h1v1h-1zM87 153h1v1h-1zM137 153h1v1h-1zM143 153h1v1h-1zM149 153h1v1h-1zM67 154h1v1h-1zM108 154h1v1h-1zM150 154h1v1h-1zM144 155h1v1h-1zM72 156h1v1h-1zM128 156h1v1h-1zM86 157h1v1h-1zM96 157h1v1h-1zM97 157h1v1h-1zM110 157h1v1h-1zM121 157h1v1h-1zM71 159h1v1h-1zM94 159h1v1h-1zM116 159h1v1h-1zM100 160h1v1h-1zM109 160h1v1h-1zM111 161h1v1h-1zM67 162h1v1h-1zM82 162h1v1h-1zM91 162h1v1h-1zM94 162h1v1h-1zM120 162h1v1h-1zM64 163h1v1h-1zM95 163h1v1h-1zM91 164h1v1h-1zM123 164h1v1h-1zM125 164h1v1h-1zM141 164h1v1h-1zM151 164h1v1h-1zM98 165h1v1h-1zM103 165h1v1h-1zM128 165h1v1h-1zM132 165h1v1h-1zM63 166h1v1h-1zM69 166h1v1h-1zM83 166h1v1h-1zM114 166h1v1h-1zM128 166h1v1h-1zM141 166h1v1h-1zM96 167h1v1h-1zM103 167h1v1h-1zM140 167h1v1h-1zM94 168h1v1h-1zM103 168h1v1h-1zM107 168h1v1h-1zM113 168h1v1h-1zM141 168h1v1h-1zM78 169h1v1h-1zM91 170h1v1h-1zM106 170h1v1h-1zM113 170h1v1h-1zM115 170h1v1h-1zM116 170h1v1h-1zM80 171h1v1h-1zM96 171h1v1h-1zM107 171h1v1h-1zM110 171h1v1h-1zM121 171h1v1h-1zM116 172h1v1h-1zM93 173h1v1h-1zM114 174h1v1h-1zM110 175h1v1h-1zM50 176h1v1h-1zM88 176h1v1h-1zM67 177h1v1h-1zM77 177h1v1h-1zM142 177h1v1h-1zM88 178h1v1h-1zM100 178h1v1h-1zM110 179h1v1h-1zM104 181h1v1h-1zM105 183h1v1h-1zM162 186h1v1h-1zM109 188h1v1h-1zM123 192h1v1h-1zM101 194h1v1h-1zM115 194h1v1h-1zM155 197h1v1h-1z"/>
<path fill="#aadd8a" d="M139 33h1v1h-1zM99 82h1v1h-1zM76 87h1v1h-1zM126 87h1v1h-1zM80 89h1v1h-1zM94 91h1v1h-1zM120 96h1v1h-1zM115 99h1v1h-1zM99 100h1v1h-1zM108 100h1v1h-1zM110 100h1v1h-1zM96 103h1v1h-1zM143 103h1v1h-1zM152 103h1v1h-1zM72 105h1v1h-1zM89 105h1v1h-1zM126 106h1v1h-1zM102 108h1v1h-1zM114 108h1v1h-1zM123 109h1v1h-1zM142 109h1v1h-1zM120 110h1v1h-1zM151 110h1v1h-1zM153 110h1v1h-1zM97 111h1v1h-1zM150 111h1v1h-1zM116 113h1v1h-1zM88 114h1v1h-1zM102 114h1v1h-1zM111 114h1v1h-1zM85 115h1v1h-1zM91 116h1v1h-1zM107 116h1v1h-1zM121 116h1v1h-1zM127 116h1v1h-1zM134 116h1v1h-1zM89 118h1v1h-1zM152 118h1v1h-1zM79 119h1v1h-1zM83 119h1v1h-1zM77 120h1v1h-1zM83 120h1v1h-1zM87 120h1v1h-1zM90 120h1v1h-1zM101 120h1v1h-1zM102 120h1v1h-1zM151 120h1v1h-1zM95 121h1v1h-1zM98 121h1v1h-1zM125 121h1v1h-1zM141 121h1v1h-1zM84 122h1v1h-1zM78 123h1v1h-1zM89 123h1v1h-1zM134 123h1v1h-1zM84 124h1v1h-1zM97 124h1v1h-1zM124 124h1v1h-1zM125 124h1v1h-1zM75 125h1v1h-1zM110 125h1v1h-1zM115 125h1v1h-1zM119 125h1v1h-1zM122 125h1v1h-1zM124 125h1v1h-1zM140 125h1v1h-1zM141 125h1v1h-1zM76 126h1v1h-1zM86 126h1v1h-1zM93 126h1v1h-1zM85 127h1v1h-1zM111 127h1v1h-1zM127 127h1v1h-1zM66 128h1v1h-1zM73 128h1v1h-1zM74 129h1v1h-1zM81 129h1v1h-1zM85 129h1v1h-1zM124 129h1v1h-1zM137 129h1v1h-1zM62 131h1v1h-1zM91 131h1v1h-1zM102 131h1v1h-1zM84 132h1v1h-1zM88 132h1v1h-1zM143 132h1v1h-1zM145 132h1v1h-1zM84 134h1v1h-1zM103 134h1v1h-1zM113 134h1v1h-1zM115 134h1v1h-1zM68 135h1v1h-1zM79 135h1v1h-1zM86 135h1v1h-1zM111 135h1v1h-1zM128 135h1v1h-1zM75 136h1v1h-1zM117 136h1v1h-1zM118 136h1v1h-1zM135 136h1v1h-1zM137 136h1v1h-1zM138 136h1v1h-1zM62 137h1v1h-1zM84 137h1v1h-1zM138 137h1v1h-1zM147 137h1v1h-1zM83 138h1v1h-1zM99 138h1v1h-1zM79 139h1v1h-1zM82 139h1v1h-1zM131 140h1v1h-1zM132 140h1v1h-1zM74 141h1v1h-1zM125 141h1v1h-1zM132 141h1v1h-1zM101 142h1v1h-1zM82 143h1v1h-1zM114 143h1v1h-1zM136 143h1v1h-1zM149 143h1v1h-1zM65 144h1v1h-1zM86 144h1v1h-1zM136 144h1v1h-1zM138 144h1v1h-1zM77 145h1v1h-1zM115 145h1v1h-1zM80 146h1v1h-1zM81 146h1v1h-1zM82 146h1v1h-1zM97 146h1v1h-1zM83 147h1v1h-1zM127 148h1v1h-1zM133 148h1v1h-1zM139 148h1v1h-1zM76 150h1v1h-1zM150 150h1v1h-1zM72 151h1v1h-1zM82 151h1v1h-1zM132 151h1v1h-1zM104 152h1v1h-1zM126 152h1v1h-1zM90 153h1v1h-1zM93 153h1v1h-1zM99 153h1v1h-1zM105 153h1v1h-1zM113 153h1v1h-1zM121 153h1v1h-1zM145 153h1v1h-1zM34 154h1v1h-1zM105 154h1v1h-1zM107 154h1v1h-1zM123 154h1v1h-1zM124 154h1v1h-1zM126 154h1v1h-1zM75 156h1v1h-1zM85 156h1v1h-1zM86 156h1v1h-1zM93 156h1v1h-1zM96 156h1v1h-1zM127 156h1v1h-1zM42 157h1v1h-1zM59 157h1v1h-1zM120 157h1v1h-1zM128 157h1v1h-1zM130 157h1v1h-1zM84 158h1v1h-1zM137 158h1v1h-1zM91 159h1v1h-1zM97 159h1v1h-1zM107 159h1v1h-1zM153 159h1v1h-1zM77 160h1v1h-1zM126 160h1v1h-1zM78 161h1v1h-1zM79 161h1v1h-1zM90 161h1v1h-1zM105 161h1v1h-1zM107 161h1v1h-1zM96 162h1v1h-1zM124 162h1v1h-1zM114 163h1v1h-1zM134 163h1v1h-1zM100 164h1v1h-1zM110 164h1v1h-1zM121 164h1v1h-1zM102 165h1v1h-1zM112 165h1v1h-1zM108 166h1v1h-1zM112 166h1v1h-1zM116 166h1v1h-1zM130 166h1v1h-1zM78 167h1v1h-1zM94 167h1v1h-1zM83 168h1v1h-1zM109 168h1v1h-1zM99 169h1v1h-1zM85 170h1v1h-1zM88 170h1v1h-1zM105 170h1v1h-1zM59 172h1v1h-1zM109 172h1v1h-1zM77 173h1v1h-1zM102 173h1v1h-1zM104 173h1v1h-1zM79 174h1v1h-1zM87 176h1v1h-1zM105 176h1v1h-1zM104 180h1v1h-1zM81 181h1v1h-1zM129 181h1v1h-1zM100 182h1v1h-1zM132 184h1v1h-1zM92 188h1v1h-1zM136 196h1v1h-1zM97 203h1v1h-1zM67 216h1v1h-1z"/>
<path fill="#b6df7d" d="M89 57h1v1h-1zM122 85h1v1h-1zM80 103h1v1h-1zM121 103h1v1h-1zM118 105h1v1h-1zM79 106h1v1h-1zM64 107h1v1h-1zM111 108h1v1h-1zM103 109h1v1h-1zM115 110h1v1h-1zM118 110h1v1h-1zM118 112h1v1h-1zM155 112h1v1h-1zM112 113h1v1h-1zM122 113h1v1h-1zM123 113h1v1h-1zM93 115h1v1h-1zM97 115h1v1h-1zM120 115h1v1h-1zM123 115h1v1h-1zM150 115h1v1h-1zM110 116h1v1h-1zM113 116h1v1h-1zM122 116h1v1h-1zM142 116h1v1h-1zM114 118h1v1h-1zM117 118h1v1h-1zM94 119h1v1h-1zM105 119h1v1h-1zM106 119h1v1h-1zM124 119h1v1h-1zM129 119h1v1h-1zM132 119h1v1h-1zM82 121h1v1h-1zM97 121h1v1h-1zM105 121h1v1h-1zM106 121h1v1h-1zM107 122h1v1h-1zM117 122h1v1h-1zM133 122h1v1h-1zM138 122h1v1h-1zM79 123h1v1h-1zM100 123h1v1h-1zM103 123h1v1h-1zM110 123h1v1h-1zM101 124h1v1h-1zM132 125h1v1h-1zM89 126h1v1h-1zM92 126h1v1h-1zM103 126h1v1h-1zM88 127h1v1h-1zM136 127h1v1h-1zM77 128h1v1h-1zM79 128h1v1h-1zM80 129h1v1h-1zM121 129h1v1h-1zM88 130h1v1h-1zM114 130h1v1h-1zM188 130h1v1h-1zM78 131h1v1h-1zM82 131h1v1h-1zM67 132h1v1h-1zM78 132h1v1h-1zM159 132h1v1h-1zM89 133h1v1h-1zM92 133h1v1h-1zM96 133h1v1h-1zM100 133h1v1h-1zM123 133h1v1h-1zM135 133h1v1h-1zM105 134h1v1h-1zM106 134h1v1h-1zM127 134h1v1h-1zM132 134h1v1h-1zM141 134h1v1h-1zM77 135h1v1h-1zM81 135h1v1h-1zM92 135h1v1h-1zM101 135h1v1h-1zM123 135h1v1h-1zM154 135h1v1h-1zM130 136h1v1h-1zM178 136h1v1h-1zM71 137h1v1h-1zM95 137h1v1h-1zM77 138h1v1h-1zM93 138h1v1h-1zM123 139h1v1h-1zM162 139h1v1h-1zM85 140h1v1h-1zM92 140h1v1h-1zM97 142h1v1h-1zM133 142h1v1h-1zM84 143h1v1h-1zM90 143h1v1h-1zM142 143h1v1h-1zM78 144h1v1h-1zM85 144h1v1h-1zM93 145h1v1h-1zM139 145h1v1h-1zM72 146h1v1h-1zM134 146h1v1h-1zM61 147h1v1h-1zM70 147h1v1h-1zM136 147h1v1h-1zM140 147h1v1h-1zM89 148h1v1h-1zM99 148h1v1h-1zM137 149h1v1h-1zM122 150h1v1h-1zM129 150h1v1h-1zM155 150h1v1h-1zM122 151h1v1h-1zM149 151h1v1h-1zM96 152h1v1h-1zM138 153h1v1h-1zM88 154h1v1h-1zM128 154h1v1h-1zM146 154h1v1h-1zM74 156h1v1h-1zM81 156h1v1h-1zM134 156h1v1h-1zM136 156h1v1h-1zM138 156h1v1h-1zM117 157h1v1h-1zM123 157h1v1h-1zM148 157h1v1h-1zM70 158h1v1h-1zM74 158h1v1h-1zM100 158h1v1h-1zM119 158h1v1h-1zM110 159h1v1h-1zM98 160h1v1h-1zM116 160h1v1h-1zM133 160h1v1h-1zM65 161h1v1h-1zM89 161h1v1h-1zM92 161h1v1h-1zM93 161h1v1h-1zM103 161h1v1h-1zM121 161h1v1h-1zM138 161h1v1h-1zM73 162h1v1h-1zM138 162h1v1h-1zM81 163h1v1h-1zM105 163h1v1h-1zM132 163h1v1h-1zM127 164h1v1h-1zM124 165h1v1h-1zM73 166h1v1h-1zM110 166h1v1h-1zM126 166h1v1h-1zM129 166h1v1h-1zM105 167h1v1h-1zM126 167h1v1h-1zM136 167h1v1h-1zM95 168h1v1h-1zM117 168h1v1h-1zM113 169h1v1h-1zM121 169h1v1h-1zM86 170h1v1h-1zM102 170h1v1h-1zM108 170h1v1h-1zM122 171h1v1h-1zM71 172h1v1h-1zM113 173h1v1h-1zM126 173h1v1h-1zM131 173h1v1h-1zM82 175h1v1h-1zM104 175h1v1h-1zM105 175h1v1h-1zM119 175h1v1h-1zM107 178h1v1h-1zM148 178h1v1h-1zM127 182h1v1h-1zM71 183h1v1h-1z"/>
<path fill="#c1e277" d="M129 85h1v1h-1zM137 86h1v1h-1zM145 86h1v1h-1zM101 98h1v1h-1zM99 99h1v1h-1zM109 99h1v1h-1zM111 101h1v1h-1zM94 104h1v1h-1zM108 105h1v1h-1zM102 106h1v1h-1zM105 107h1v1h-1zM79 108h1v1h-1zM104 109h1v1h-1zM125 109h1v1h-1zM62 110h1v1h-1zM83 110h1v1h-1zM98 111h1v1h-1zM104 111h1v1h-1zM122 111h1v1h-1zM97 112h1v1h-1zM121 112h1v1h-1zM87 113h1v1h-1zM170 113h1v1h-1zM116 114h1v1h-1zM118 114h1v1h-1zM134 114h1v1h-1zM146 114h1v1h-1zM104 115h1v1h-1zM133 115h1v1h-1zM138 115h1v1h-1zM94 117h1v1h-1zM123 118h1v1h-1zM127 118h1v1h-1zM136 118h1v1h-1zM78 119h1v1h-1zM86 119h1v1h-1zM130 119h1v1h-1zM122 120h1v1h-1zM127 120h1v1h-1zM114 121h1v1h-1zM73 122h1v1h-1zM85 122h1v1h-1zM89 122h1v1h-1zM101 122h1v1h-1zM113 122h1v1h-1zM115 122h1v1h-1zM133 123h1v1h-1zM92 124h1v1h-1zM94 124h1v1h-1zM134 124h1v1h-1zM83 125h1v1h-1zM99 125h1v1h-1zM94 126h1v1h-1zM119 126h1v1h-1zM127 126h1v1h-1zM128 126h1v1h-1zM124 127h1v1h-1zM128 127h1v1h-1zM86 128h1v1h-1zM108 128h1v1h-1zM128 128h1v1h-1zM131 128h1v1h-1zM79 129h1v1h-1zM97 129h1v1h-1zM85 130h1v1h-1zM102 130h1v1h-1zM117 131h1v1h-1zM82 132h1v1h-1zM95 132h1v1h-1zM131 132h1v1h-1zM85 133h1v1h-1zM93 133h1v1h-1zM119 133h1v1h-1zM132 133h1v1h-1zM139 133h1v1h-1zM87 134h1v1h-1zM98 134h1v1h-1zM134 134h1v1h-1zM74 135h1v1h-1zM90 136h1v1h-1zM99 136h1v1h-1zM104 136h1v1h-1zM128 136h1v1h-1zM133 136h1v1h-1zM129 138h1v1h-1zM130 138h1v1h-1zM143 138h1v1h-1zM113 139h1v1h-1zM129 139h1v1h-1zM110 140h1v1h-1zM120 140h1v1h-1zM127 140h1v1h-1zM137 140h1v1h-1zM85 141h1v1h-1zM128 141h1v1h-1zM136 141h1v1h-1zM141 141h1v1h-1zM82 142h1v1h-1zM109 142h1v1h-1zM123 142h1v1h-1zM114 144h1v1h-1zM126 144h1v1h-1zM131 144h1v1h-1zM135 144h1v1h-1zM85 145h1v1h-1zM88 145h1v1h-1zM77 146h1v1h-1zM83 146h1v1h-1zM105 146h1v1h-1zM117 146h1v1h-1zM77 147h1v1h-1zM96 147h1v1h-1zM116 147h1v1h-1zM122 147h1v1h-1zM77 148h1v1h-1zM95 148h1v1h-1zM107 148h1v1h-1zM137 148h1v1h-1zM68 149h1v1h-1zM82 149h1v1h-1zM83 149h1v1h-1zM107 149h1v1h-1zM116 149h1v1h-1zM126 149h1v1h-1zM107 150h1v1h-1zM126 150h1v1h-1zM80 152h1v1h-1zM85 154h1v1h-1zM90 154h1v1h-1zM111 154h1v1h-1zM127 155h1v1h-1zM83 156h1v1h-1zM104 156h1v1h-1zM113 156h1v1h-1zM122 156h1v1h-1zM129 156h1v1h-1zM130 156h1v1h-1zM103 157h1v1h-1zM131 157h1v1h-1zM87 158h1v1h-1zM146 158h1v1h-1zM29 159h1v1h-1zM102 159h1v1h-1zM106 159h1v1h-1zM138 159h1v1h-1zM95 160h1v1h-1zM97 160h1v1h-1zM127 160h1v1h-1zM112 161h1v1h-1zM88 162h1v1h-1zM93 162h1v1h-1zM85 163h1v1h-1zM113 163h1v1h-1zM129 163h1v1h-1zM96 164h1v1h-1zM119 165h1v1h-1zM137 165h1v1h-1zM80 166h1v1h-1zM126 168h1v1h-1zM101 169h1v1h-1zM111 169h1v1h-1zM129 169h1v1h-1zM89 170h1v1h-1zM112 170h1v1h-1zM121 170h1v1h-1zM112 171h1v1h-1zM114 171h1v1h-1zM115 173h1v1h-1zM189 173h1v1h-1zM109 174h1v1h-1zM118 174h1v1h-1zM133 174h1v1h-1zM104 176h1v1h-1zM130 176h1v1h-1zM101 180h1v1h-1zM126 180h1v1h-1zM109 182h1v1h-1zM98 186h1v1h-1zM157 187h1v1h-1z"/>
<path fill="#cce472" d="M75 101h1v1h-1zM131 101h1v1h-1zM107 106h1v1h-1zM144 106h1v1h-1zM80 107h1v1h-1zM81 110h1v1h-1zM111 111h1v1h-1zM119 111h1v1h-1zM123 111h1v1h-1zM102 112h1v1h-1zM92 113h1v1h-1zM114 114h1v1h-1zM140 114h1v1h-1zM90 115h1v1h-1zM96 115h1v1h-1zM132 115h1v1h-1zM60 117h1v1h-1zM107 117h1v1h-1zM114 117h1v1h-1zM116 117h1v1h-1zM95 118h1v1h-1zM115 118h1v1h-1zM118 118h1v1h-1zM133 118h1v1h-1zM134 118h1v1h-1zM103 119h1v1h-1zM71 120h1v1h-1zM110 120h1v1h-1zM132 120h1v1h-1zM58 121h1v1h-1zM107 121h1v1h-1zM111 122h1v1h-1zM139 122h1v1h-1zM116 123h1v1h-1zM88 124h1v1h-1zM104 124h1v1h-1zM91 125h1v1h-1zM93 125h1v1h-1zM123 125h1v1h-1zM77 126h1v1h-1zM98 126h1v1h-1zM120 126h1v1h-1zM130 126h1v1h-1zM29 127h1v1h-1zM79 127h1v1h-1zM135 127h1v1h-1zM140 127h1v1h-1zM107 128h1v1h-1zM98 129h1v1h-1zM82 130h1v1h-1zM98 130h1v1h-1zM140 130h1v1h-1zM147 130h1v1h-1zM87 131h1v1h-1zM97 131h1v1h-1zM101 131h1v1h-1zM125 131h1v1h-1zM132 131h1v1h-1zM166 131h1v1h-1zM81 132h1v1h-1zM83 132h1v1h-1zM134 132h1v1h-1zM71 133h1v1h-1zM83 134h1v1h-1zM96 135h1v1h-1zM115 135h1v1h-1zM71 136h1v1h-1zM78 136h1v1h-1zM113 136h1v1h-1zM88 137h1v1h-1zM126 137h1v1h-1zM127 137h1v1h-1zM139 137h1v1h-1zM140 138h1v1h-1zM83 139h1v1h-1zM86 139h1v1h-1zM127 139h1v1h-1zM149 139h1v1h-1zM87 140h1v1h-1zM105 140h1v1h-1zM86 141h1v1h-1zM140 141h1v1h-1zM83 142h1v1h-1zM149 142h1v1h-1zM171 142h1v1h-1zM109 143h1v1h-1zM140 143h1v1h-1zM77 144h1v1h-1zM121 144h1v1h-1zM140 144h1v1h-1zM82 145h1v1h-1zM125 145h1v1h-1zM67 146h1v1h-1zM88 146h1v1h-1zM98 146h1v1h-1zM119 146h1v1h-1zM105 147h1v1h-1zM119 147h1v1h-1zM91 148h1v1h-1zM94 148h1v1h-1zM117 148h1v1h-1zM140 148h1v1h-1zM70 149h1v1h-1zM162 149h1v1h-1zM110 150h1v1h-1zM132 150h1v1h-1zM134 150h1v1h-1zM149 150h1v1h-1zM73 151h1v1h-1zM97 151h1v1h-1zM90 152h1v1h-1zM83 153h1v1h-1zM86 153h1v1h-1zM91 153h1v1h-1zM101 153h1v1h-1zM112 153h1v1h-1zM78 154h1v1h-1zM93 155h1v1h-1zM103 155h1v1h-1zM124 155h1v1h-1zM126 155h1v1h-1zM128 155h1v1h-1zM133 155h1v1h-1zM114 156h1v1h-1zM120 156h1v1h-1zM124 157h1v1h-1zM117 158h1v1h-1zM124 158h1v1h-1zM123 159h1v1h-1zM135 159h1v1h-1zM110 160h1v1h-1zM117 160h1v1h-1zM120 160h1v1h-1zM121 160h1v1h-1zM124 160h1v1h-1zM136 160h1v1h-1zM143 160h1v1h-1zM113 161h1v1h-1zM108 162h1v1h-1zM111 163h1v1h-1zM121 163h1v1h-1zM125 163h1v1h-1zM137 163h1v1h-1zM95 164h1v1h-1zM112 164h1v1h-1zM122 165h1v1h-1zM123 165h1v1h-1zM127 166h1v1h-1zM80 167h1v1h-1zM100 167h1v1h-1zM129 167h1v1h-1zM114 168h1v1h-1zM121 168h1v1h-1zM123 168h1v1h-1zM130 168h1v1h-1zM89 169h1v1h-1zM116 169h1v1h-1zM110 170h1v1h-1zM119 170h1v1h-1zM160 170h1v1h-1zM101 171h1v1h-1zM115 171h1v1h-1zM124 175h1v1h-1zM87 178h1v1h-1zM101 179h1v1h-1z"/>
<path fill="#d8e670" d="M129 91h1v1h-1zM91 92h1v1h-1zM100 110h1v1h-1zM102 111h1v1h-1zM109 112h1v1h-1zM115 112h1v1h-1zM104 114h1v1h-1zM91 115h1v1h-1zM101 115h1v1h-1zM105 115h1v1h-1zM112 115h1v1h-1zM116 115h1v1h-1zM126 115h1v1h-1zM104 116h1v1h-1zM118 116h1v1h-1zM84 117h1v1h-1zM105 117h1v1h-1zM124 117h1v1h-1zM113 118h1v1h-1zM116 118h1v1h-1zM88 119h1v1h-1zM133 119h1v1h-1zM139 119h1v1h-1zM129 120h1v1h-1zM87 121h1v1h-1zM90 121h1v1h-1zM109 121h1v1h-1zM123 121h1v1h-1zM124 121h1v1h-1zM86 122h1v1h-1zM105 122h1v1h-1zM108 122h1v1h-1zM109 122h1v1h-1zM126 122h1v1h-1zM93 123h1v1h-1zM114 123h1v1h-1zM143 124h1v1h-1zM128 125h1v1h-1zM138 125h1v1h-1zM113 126h1v1h-1zM114 126h1v1h-1zM154 126h1v1h-1zM93 127h1v1h-1zM129 127h1v1h-1zM146 127h1v1h-1zM67 128h1v1h-1zM98 128h1v1h-1zM91 129h1v1h-1zM114 129h1v1h-1zM122 129h1v1h-1zM108 130h1v1h-1zM94 131h1v1h-1zM77 132h1v1h-1zM97 132h1v1h-1zM119 132h1v1h-1zM120 132h1v1h-1zM97 133h1v1h-1zM99 133h1v1h-1zM101 133h1v1h-1zM123 134h1v1h-1zM138 135h1v1h-1zM86 137h1v1h-1zM103 137h1v1h-1zM114 137h1v1h-1zM81 138h1v1h-1zM132 138h1v1h-1zM135 138h1v1h-1zM172 138h1v1h-1zM84 139h1v1h-1zM128 139h1v1h-1zM131 139h1v1h-1zM74 140h1v1h-1zM79 140h1v1h-1zM126 140h1v1h-1zM134 140h1v1h-1zM136 140h1v1h-1zM73 141h1v1h-1zM88 141h1v1h-1zM127 141h1v1h-1zM144 141h1v1h-1zM74 142h1v1h-1zM99 142h1v1h-1zM114 142h1v1h-1zM122 142h1v1h-1zM128 142h1v1h-1zM83 143h1v1h-1zM119 143h1v1h-1zM125 144h1v1h-1zM128 144h1v1h-1zM157 144h1v1h-1zM99 145h1v1h-1zM134 145h1v1h-1zM85 146h1v1h-1zM96 146h1v1h-1zM125 146h1v1h-1zM131 146h1v1h-1zM84 147h1v1h-1zM86 147h1v1h-1zM106 147h1v1h-1zM130 147h1v1h-1zM103 148h1v1h-1zM105 148h1v1h-1zM111 148h1v1h-1zM123 148h1v1h-1zM132 148h1v1h-1zM100 150h1v1h-1zM126 151h1v1h-1zM76 152h1v1h-1zM83 152h1v1h-1zM121 152h1v1h-1zM136 152h1v1h-1zM85 153h1v1h-1zM89 153h1v1h-1zM104 153h1v1h-1zM116 153h1v1h-1zM98 154h1v1h-1zM90 155h1v1h-1zM91 155h1v1h-1zM96 155h1v1h-1zM113 155h1v1h-1zM116 155h1v1h-1zM118 155h1v1h-1zM134 155h1v1h-1zM89 156h1v1h-1zM92 156h1v1h-1zM98 156h1v1h-1zM112 156h1v1h-1zM118 156h1v1h-1zM137 156h1v1h-1zM92 157h1v1h-1zM118 157h1v1h-1zM86 158h1v1h-1zM76 159h1v1h-1zM88 159h1v1h-1zM118 159h1v1h-1zM90 160h1v1h-1zM96 160h1v1h-1zM118 160h1v1h-1zM97 161h1v1h-1zM98 161h1v1h-1zM99 161h1v1h-1zM98 162h1v1h-1zM107 162h1v1h-1zM98 164h1v1h-1zM107 164h1v1h-1zM106 166h1v1h-1zM119 166h1v1h-1zM91 167h1v1h-1zM100 168h1v1h-1zM116 168h1v1h-1zM97 169h1v1h-1zM133 169h1v1h-1zM100 170h1v1h-1zM122 170h1v1h-1zM123 170h1v1h-1zM99 171h1v1h-1zM120 171h1v1h-1zM108 172h1v1h-1zM112 172h1v1h-1zM118 173h1v1h-1zM113 191h1v1h-1zM97 196h1v1h-1z"/>
<path fill="#e4e870" d="M99 78h1v1h-1zM109 96h1v1h-1zM93 104h1v1h-1zM120 107h1v1h-1zM89 111h1v1h-1zM110 111h1v1h-1zM102 113h1v1h-1zM107 113h1v1h-1zM107 115h1v1h-1zM124 116h1v1h-1zM82 117h1v1h-1zM92 117h1v1h-1zM131 118h1v1h-1zM85 119h1v1h-1zM98 119h1v1h-1zM107 119h1v1h-1zM112 120h1v1h-1zM115 120h1v1h-1zM89 121h1v1h-1zM112 121h1v1h-1zM100 122h1v1h-1zM116 122h1v1h-1zM87 123h1v1h-1zM97 123h1v1h-1zM118 123h1v1h-1zM145 123h1v1h-1zM105 124h1v1h-1zM85 126h1v1h-1zM131 126h1v1h-1zM68 127h1v1h-1zM120 127h1v1h-1zM93 129h1v1h-1zM104 129h1v1h-1zM75 130h1v1h-1zM90 130h1v1h-1zM127 130h1v1h-1zM133 130h1v1h-1zM141 130h1v1h-1zM100 131h1v1h-1zM126 131h1v1h-1zM93 132h1v1h-1zM104 132h1v1h-1zM88 133h1v1h-1zM106 133h1v1h-1zM129 133h1v1h-1zM130 133h1v1h-1zM104 134h1v1h-1zM108 134h1v1h-1zM124 134h1v1h-1zM98 135h1v1h-1zM119 135h1v1h-1zM136 135h1v1h-1zM97 136h1v1h-1zM136 136h1v1h-1zM102 137h1v1h-1zM113 137h1v1h-1zM82 138h1v1h-1zM113 138h1v1h-1zM117 138h1v1h-1zM119 138h1v1h-1zM142 138h1v1h-1zM96 139h1v1h-1zM100 139h1v1h-1zM117 139h1v1h-1zM93 140h1v1h-1zM97 140h1v1h-1zM106 140h1v1h-1zM116 140h1v1h-1zM90 141h1v1h-1zM92 141h1v1h-1zM94 141h1v1h-1zM89 142h1v1h-1zM93 142h1v1h-1zM104 142h1v1h-1zM110 142h1v1h-1zM113 142h1v1h-1zM134 142h1v1h-1zM91 143h1v1h-1zM125 143h1v1h-1zM128 143h1v1h-1zM137 143h1v1h-1zM120 145h1v1h-1zM135 145h1v1h-1zM95 146h1v1h-1zM107 146h1v1h-1zM132 146h1v1h-1zM72 147h1v1h-1zM73 147h1v1h-1zM95 147h1v1h-1zM97 147h1v1h-1zM98 147h1v1h-1zM129 147h1v1h-1zM138 147h1v1h-1zM122 148h1v1h-1zM74 149h1v1h-1zM84 149h1v1h-1zM69 150h1v1h-1zM84 150h1v1h-1zM145 150h1v1h-1zM111 151h1v1h-1zM124 151h1v1h-1zM86 152h1v1h-1zM87 152h1v1h-1zM115 152h1v1h-1zM124 152h1v1h-1zM129 152h1v1h-1zM134 152h1v1h-1zM141 152h1v1h-1zM124 153h1v1h-1zM86 154h1v1h-1zM62 155h1v1h-1zM94 155h1v1h-1zM95 155h1v1h-1zM117 155h1v1h-1zM87 156h1v1h-1zM90 156h1v1h-1zM94 156h1v1h-1zM95 156h1v1h-1zM97 156h1v1h-1zM107 156h1v1h-1zM102 158h1v1h-1zM122 158h1v1h-1zM131 159h1v1h-1zM102 160h1v1h-1zM103 160h1v1h-1zM104 160h1v1h-1zM112 160h1v1h-1zM119 160h1v1h-1zM130 160h1v1h-1zM101 161h1v1h-1zM110 161h1v1h-1zM118 161h1v1h-1zM109 162h1v1h-1zM111 162h1v1h-1zM162 162h1v1h-1zM89 163h1v1h-1zM109 163h1v1h-1zM108 164h1v1h-1zM93 165h1v1h-1zM97 165h1v1h-1zM106 165h1v1h-1zM135 165h1v1h-1zM85 166h1v1h-1zM88 166h1v1h-1zM100 166h1v1h-1zM115 166h1v1h-1zM118 166h1v1h-1zM98 167h1v1h-1zM123 169h1v1h-1zM151 169h1v1h-1zM69 170h1v1h-1zM109 170h1v1h-1zM96 172h1v1h-1zM122 172h1v1h-1zM115 177h1v1h-1zM108 182h1v1h-1z"/>
<path fill="#efe970" d="M98 88h1v1h-1zM127 90h1v1h-1zM119 101h1v1h-1zM116 105h1v1h-1zM94 106h1v1h-1zM113 107h1v1h-1zM125 107h1v1h-1zM103 110h1v1h-1zM96 111h1v1h-1zM124 113h1v1h-1zM79 114h1v1h-1zM81 114h1v1h-1zM87 115h1v1h-1zM127 115h1v1h-1zM82 116h1v1h-1zM98 117h1v1h-1zM111 117h1v1h-1zM87 118h1v1h-1zM90 118h1v1h-1zM99 118h1v1h-1zM111 120h1v1h-1zM126 120h1v1h-1zM101 121h1v1h-1zM90 122h1v1h-1zM96 122h1v1h-1zM108 123h1v1h-1zM120 123h1v1h-1zM122 123h1v1h-1zM72 124h1v1h-1zM120 124h1v1h-1zM123 124h1v1h-1zM107 125h1v1h-1zM101 126h1v1h-1zM106 126h1v1h-1zM81 127h1v1h-1zM117 127h1v1h-1zM95 128h1v1h-1zM99 128h1v1h-1zM102 129h1v1h-1zM79 130h1v1h-1zM91 130h1v1h-1zM118 130h1v1h-1zM131 130h1v1h-1zM96 131h1v1h-1zM113 131h1v1h-1zM105 132h1v1h-1zM111 132h1v1h-1zM118 132h1v1h-1zM109 133h1v1h-1zM72 134h1v1h-1zM83 135h1v1h-1zM87 135h1v1h-1zM104 135h1v1h-1zM126 135h1v1h-1zM129 135h1v1h-1zM86 136h1v1h-1zM116 136h1v1h-1zM131 137h1v1h-1zM93 139h1v1h-1zM94 140h1v1h-1zM101 140h1v1h-1zM102 140h1v1h-1zM115 140h1v1h-1zM124 140h1v1h-1zM89 141h1v1h-1zM137 142h1v1h-1zM86 143h1v1h-1zM88 143h1v1h-1zM94 143h1v1h-1zM110 143h1v1h-1zM111 143h1v1h-1zM123 143h1v1h-1zM126 143h1v1h-1zM129 143h1v1h-1zM93 146h1v1h-1zM100 146h1v1h-1zM123 146h1v1h-1zM71 147h1v1h-1zM79 147h1v1h-1zM83 148h1v1h-1zM96 148h1v1h-1zM117 149h1v1h-1zM108 150h1v1h-1zM116 150h1v1h-1zM117 150h1v1h-1zM128 150h1v1h-1zM130 151h1v1h-1zM106 152h1v1h-1zM77 153h1v1h-1zM81 153h1v1h-1zM94 153h1v1h-1zM107 153h1v1h-1zM130 153h1v1h-1zM89 154h1v1h-1zM93 154h1v1h-1zM95 154h1v1h-1zM100 154h1v1h-1zM134 154h1v1h-1zM97 155h1v1h-1zM119 155h1v1h-1zM100 156h1v1h-1zM80 158h1v1h-1zM96 158h1v1h-1zM114 158h1v1h-1zM89 159h1v1h-1zM117 159h1v1h-1zM122 159h1v1h-1zM93 160h1v1h-1zM94 160h1v1h-1zM111 160h1v1h-1zM131 160h1v1h-1zM116 161h1v1h-1zM128 161h1v1h-1zM82 163h1v1h-1zM116 165h1v1h-1zM114 169h1v1h-1zM101 172h1v1h-1zM110 172h1v1h-1zM91 178h1v1h-1z"/>
<path fill="#f4e36d" d="M96 110h1v1h-1zM129 112h1v1h-1zM142 112h1v1h-1zM97 113h1v1h-1zM95 114h1v1h-1zM124 114h1v1h-1zM127 114h1v1h-1zM113 115h1v1h-1zM95 116h1v1h-1zM112 116h1v1h-1zM125 116h1v1h-1zM121 117h1v1h-1zM122 118h1v1h-1zM90 119h1v1h-1zM110 119h1v1h-1zM117 119h1v1h-1zM104 120h1v1h-1zM124 120h1v1h-1zM114 122h1v1h-1zM119 122h1v1h-1zM131 122h1v1h-1zM88 123h1v1h-1zM94 123h1v1h-1zM130 123h1v1h-1zM80 124h1v1h-1zM87 124h1v1h-1zM137 124h1v1h-1zM96 125h1v1h-1zM102 125h1v1h-1zM84 126h1v1h-1zM100 126h1v1h-1zM116 126h1v1h-1zM130 127h1v1h-1zM132 127h1v1h-1zM96 128h1v1h-1zM104 128h1v1h-1zM105 129h1v1h-1zM92 130h1v1h-1zM112 130h1v1h-1zM89 131h1v1h-1zM121 131h1v1h-1zM122 131h1v1h-1zM124 131h1v1h-1zM102 132h1v1h-1zM121 132h1v1h-1zM124 132h1v1h-1zM126 132h1v1h-1zM151 132h1v1h-1zM98 133h1v1h-1zM112 133h1v1h-1zM116 133h1v1h-1zM88 135h1v1h-1zM117 135h1v1h-1zM109 136h1v1h-1zM115 136h1v1h-1zM127 136h1v1h-1zM133 137h1v1h-1zM95 138h1v1h-1zM96 138h1v1h-1zM133 138h1v1h-1zM75 139h1v1h-1zM91 139h1v1h-1zM94 139h1v1h-1zM97 139h1v1h-1zM111 140h1v1h-1zM117 141h1v1h-1zM124 141h1v1h-1zM68 142h1v1h-1zM75 142h1v1h-1zM96 142h1v1h-1zM102 142h1v1h-1zM103 142h1v1h-1zM89 143h1v1h-1zM96 143h1v1h-1zM113 144h1v1h-1zM76 145h1v1h-1zM86 145h1v1h-1zM121 145h1v1h-1zM91 146h1v1h-1zM102 146h1v1h-1zM139 146h1v1h-1zM126 147h1v1h-1zM80 148h1v1h-1zM126 148h1v1h-1zM128 148h1v1h-1zM112 150h1v1h-1zM120 150h1v1h-1zM80 151h1v1h-1zM91 151h1v1h-1zM77 154h1v1h-1zM84 154h1v1h-1zM99 154h1v1h-1zM104 154h1v1h-1zM127 154h1v1h-1zM80 155h1v1h-1zM115 155h1v1h-1zM129 155h1v1h-1zM99 156h1v1h-1zM105 156h1v1h-1zM119 156h1v1h-1zM88 157h1v1h-1zM99 158h1v1h-1zM107 158h1v1h-1zM113 158h1v1h-1zM121 158h1v1h-1zM125 158h1v1h-1zM109 159h1v1h-1zM104 161h1v1h-1zM124 161h1v1h-1zM102 162h1v1h-1zM116 162h1v1h-1zM88 163h1v1h-1zM128 163h1v1h-1zM93 164h1v1h-1zM82 165h1v1h-1zM94 165h1v1h-1zM104 165h1v1h-1zM104 166h1v1h-1zM113 167h1v1h-1zM133 167h1v1h-1zM117 169h1v1h-1zM111 170h1v1h-1zM111 172h1v1h-1zM152 175h1v1h-1zM93 183h1v1h-1z"/>
<path fill="#fadc61" d="M91 97h1v1h-1zM113 111h1v1h-1zM80 113h1v1h-1zM121 115h1v1h-1zM122 115h1v1h-1zM124 115h1v1h-1zM101 116h1v1h-1zM102 117h1v1h-1zM93 118h1v1h-1zM114 119h1v1h-1zM115 119h1v1h-1zM120 120h1v1h-1zM115 121h1v1h-1zM99 123h1v1h-1zM115 123h1v1h-1zM128 124h1v1h-1zM121 125h1v1h-1zM78 126h1v1h-1zM90 126h1v1h-1zM126 127h1v1h-1zM93 128h1v1h-1zM105 128h1v1h-1zM117 128h1v1h-1zM87 129h1v1h-1zM89 129h1v1h-1zM99 129h1v1h-1zM98 131h1v1h-1zM108 131h1v1h-1zM129 131h1v1h-1zM89 132h1v1h-1zM117 132h1v1h-1zM105 133h1v1h-1zM96 134h1v1h-1zM139 134h1v1h-1zM97 135h1v1h-1zM105 135h1v1h-1zM118 135h1v1h-1zM76 136h1v1h-1zM94 136h1v1h-1zM129 136h1v1h-1zM108 138h1v1h-1zM124 139h1v1h-1zM140 139h1v1h-1zM99 140h1v1h-1zM99 141h1v1h-1zM131 141h1v1h-1zM143 141h1v1h-1zM111 142h1v1h-1zM129 142h1v1h-1zM74 143h1v1h-1zM87 143h1v1h-1zM89 144h1v1h-1zM93 144h1v1h-1zM120 144h1v1h-1zM85 147h1v1h-1zM87 147h1v1h-1zM119 148h1v1h-1zM128 149h1v1h-1zM121 150h1v1h-1zM127 150h1v1h-1zM84 151h1v1h-1zM128 151h1v1h-1zM100 152h1v1h-1zM111 152h1v1h-1zM116 152h1v1h-1zM131 152h1v1h-1zM88 153h1v1h-1zM96 153h1v1h-1zM113 154h1v1h-1zM119 154h1v1h-1zM83 155h1v1h-1zM98 155h1v1h-1zM125 155h1v1h-1zM121 156h1v1h-1zM84 157h1v1h-1zM112 158h1v1h-1zM99 159h1v1h-1zM126 159h1v1h-1zM134 159h1v1h-1zM105 160h1v1h-1zM113 160h1v1h-1zM115 162h1v1h-1zM99 163h1v1h-1zM107 163h1v1h-1zM133 163h1v1h-1zM105 166h1v1h-1zM124 167h1v1h-1zM117 171h1v1h-1zM126 171h1v1h-1z"/>
<path fill="#f9cb5c" d="M79 92h1v1h-1zM148 106h1v1h-1zM125 114h1v1h-1zM133 114h1v1h-1zM103 117h1v1h-1zM126 117h1v1h-1zM88 118h1v1h-1zM97 118h1v1h-1zM100 118h1v1h-1zM127 119h1v1h-1zM75 120h1v1h-1zM125 120h1v1h-1zM102 121h1v1h-1zM118 121h1v1h-1zM121 123h1v1h-1zM106 124h1v1h-1zM107 124h1v1h-1zM110 124h1v1h-1zM113 124h1v1h-1zM87 125h1v1h-1zM95 126h1v1h-1zM102 126h1v1h-1zM105 126h1v1h-1zM100 127h1v1h-1zM125 127h1v1h-1zM100 128h1v1h-1zM120 128h1v1h-1zM121 128h1v1h-1zM107 129h1v1h-1zM116 129h1v1h-1zM120 129h1v1h-1zM89 130h1v1h-1zM117 130h1v1h-1zM122 130h1v1h-1zM85 131h1v1h-1zM90 131h1v1h-1zM115 131h1v1h-1zM74 133h1v1h-1zM131 133h1v1h-1zM89 134h1v1h-1zM135 135h1v1h-1zM141 135h1v1h-1zM84 136h1v1h-1zM123 136h1v1h-1zM132 136h1v1h-1zM94 137h1v1h-1zM124 137h1v1h-1zM87 139h1v1h-1zM125 139h1v1h-1zM100 140h1v1h-1zM87 141h1v1h-1zM96 141h1v1h-1zM111 141h1v1h-1zM122 141h1v1h-1zM126 141h1v1h-1zM130 141h1v1h-1zM137 141h1v1h-1zM126 142h1v1h-1zM130 142h1v1h-1zM100 143h1v1h-1zM132 143h1v1h-1zM96 144h1v1h-1zM106 144h1v1h-1zM129 144h1v1h-1zM137 144h1v1h-1zM92 146h1v1h-1zM99 146h1v1h-1zM104 147h1v1h-1zM117 147h1v1h-1zM116 148h1v1h-1zM124 148h1v1h-1zM136 148h1v1h-1zM110 149h1v1h-1zM82 150h1v1h-1zM83 150h1v1h-1zM114 150h1v1h-1zM118 150h1v1h-1zM135 150h1v1h-1zM96 151h1v1h-1zM117 151h1v1h-1zM95 152h1v1h-1zM114 152h1v1h-1zM84 153h1v1h-1zM106 153h1v1h-1zM82 155h1v1h-1zM110 155h1v1h-1zM132 155h1v1h-1zM89 157h1v1h-1zM94 157h1v1h-1zM116 157h1v1h-1zM130 158h1v1h-1zM101 159h1v1h-1zM112 159h1v1h-1zM120 159h1v1h-1zM89 160h1v1h-1zM122 160h1v1h-1zM119 161h1v1h-1zM123 162h1v1h-1zM93 163h1v1h-1zM124 168h1v1h-1zM104 172h1v1h-1zM109 181h1v1h-1z"/>
<path fill="#f8b957" d="M106 112h1v1h-1zM94 114h1v1h-1zM122 114h1v1h-1zM102 118h1v1h-1zM107 118h1v1h-1zM109 119h1v1h-1zM108 120h1v1h-1zM90 123h1v1h-1zM104 123h1v1h-1zM112 123h1v1h-1zM96 124h1v1h-1zM115 124h1v1h-1zM117 124h1v1h-1zM80 125h1v1h-1zM87 126h1v1h-1zM91 127h1v1h-1zM121 127h1v1h-1zM122 127h1v1h-1zM122 128h1v1h-1zM109 129h1v1h-1zM128 129h1v1h-1zM116 130h1v1h-1zM128 130h1v1h-1zM139 130h1v1h-1zM99 131h1v1h-1zM110 131h1v1h-1zM112 131h1v1h-1zM133 132h1v1h-1zM87 133h1v1h-1zM107 133h1v1h-1zM100 134h1v1h-1zM76 137h1v1h-1zM105 137h1v1h-1zM121 137h1v1h-1zM128 137h1v1h-1zM89 138h1v1h-1zM123 138h1v1h-1zM85 139h1v1h-1zM108 141h1v1h-1zM133 141h1v1h-1zM138 141h1v1h-1zM106 143h1v1h-1zM108 143h1v1h-1zM112 143h1v1h-1zM113 143h1v1h-1zM84 145h1v1h-1zM92 145h1v1h-1zM97 145h1v1h-1zM111 146h1v1h-1zM118 146h1v1h-1zM104 148h1v1h-1zM90 149h1v1h-1zM108 149h1v1h-1zM122 149h1v1h-1zM97 150h1v1h-1zM104 150h1v1h-1zM136 150h1v1h-1zM83 151h1v1h-1zM94 151h1v1h-1zM106 151h1v1h-1zM127 151h1v1h-1zM91 152h1v1h-1zM108 153h1v1h-1zM119 153h1v1h-1zM126 153h1v1h-1zM114 154h1v1h-1zM125 154h1v1h-1zM86 155h1v1h-1zM109 157h1v1h-1zM88 158h1v1h-1zM106 158h1v1h-1zM116 158h1v1h-1zM135 158h1v1h-1zM115 159h1v1h-1zM127 159h1v1h-1zM128 162h1v1h-1zM102 163h1v1h-1zM122 200h1v1h-1z"/>
<path fill="#f7a753" d="M110 107h1v1h-1zM100 112h1v1h-1zM93 117h1v1h-1zM108 118h1v1h-1zM111 118h1v1h-1zM126 118h1v1h-1zM137 118h1v1h-1zM104 119h1v1h-1zM93 120h1v1h-1zM119 121h1v1h-1zM121 121h1v1h-1zM134 121h1v1h-1zM120 122h1v1h-1zM109 123h1v1h-1zM128 123h1v1h-1zM108 126h1v1h-1zM134 129h1v1h-1zM129 130h1v1h-1zM86 131h1v1h-1zM88 131h1v1h-1zM116 131h1v1h-1zM94 132h1v1h-1zM108 132h1v1h-1zM112 132h1v1h-1zM123 132h1v1h-1zM82 133h1v1h-1zM84 133h1v1h-1zM103 133h1v1h-1zM113 133h1v1h-1zM88 134h1v1h-1zM91 135h1v1h-1zM120 135h1v1h-1zM91 136h1v1h-1zM103 136h1v1h-1zM114 136h1v1h-1zM97 137h1v1h-1zM104 137h1v1h-1zM106 137h1v1h-1zM123 137h1v1h-1zM97 138h1v1h-1zM112 138h1v1h-1zM116 138h1v1h-1zM150 138h1v1h-1zM132 139h1v1h-1zM82 140h1v1h-1zM95 140h1v1h-1zM129 141h1v1h-1zM92 142h1v1h-1zM125 142h1v1h-1zM115 143h1v1h-1zM131 143h1v1h-1zM87 144h1v1h-1zM103 144h1v1h-1zM105 144h1v1h-1zM117 144h1v1h-1zM104 145h1v1h-1zM109 145h1v1h-1zM118 145h1v1h-1zM116 146h1v1h-1zM127 146h1v1h-1zM136 146h1v1h-1zM123 147h1v1h-1zM131 147h1v1h-1zM93 148h1v1h-1zM97 148h1v1h-1zM109 148h1v1h-1zM102 149h1v1h-1zM106 149h1v1h-1zM89 150h1v1h-1zM90 150h1v1h-1zM91 150h1v1h-1zM107 151h1v1h-1zM129 151h1v1h-1zM139 151h1v1h-1zM103 152h1v1h-1zM123 152h1v1h-1zM120 153h1v1h-1zM127 153h1v1h-1zM103 154h1v1h-1zM110 154h1v1h-1zM133 154h1v1h-1zM126 156h1v1h-1zM108 157h1v1h-1zM125 157h1v1h-1zM78 158h1v1h-1zM90 159h1v1h-1zM113 159h1v1h-1zM125 159h1v1h-1zM128 159h1v1h-1zM107 160h1v1h-1zM100 161h1v1h-1zM102 161h1v1h-1zM96 163h1v1h-1zM108 163h1v1h-1zM116 163h1v1h-1zM130 165h1v1h-1zM98 166h1v1h-1zM117 166h1v1h-1zM108 169h1v1h-1zM115 169h1v1h-1z"/>
<path fill="#f4964f" d="M181 88h1v1h-1zM99 114h1v1h-1zM89 116h1v1h-1zM108 116h1v1h-1zM81 118h1v1h-1zM97 120h1v1h-1zM100 120h1v1h-1zM114 120h1v1h-1zM108 121h1v1h-1zM93 122h1v1h-1zM100 125h1v1h-1zM104 125h1v1h-1zM129 125h1v1h-1zM109 126h1v1h-1zM126 126h1v1h-1zM110 127h1v1h-1zM113 127h1v1h-1zM119 127h1v1h-1zM131 127h1v1h-1zM101 128h1v1h-1zM92 129h1v1h-1zM94 129h1v1h-1zM68 130h1v1h-1zM94 130h1v1h-1zM106 130h1v1h-1zM113 130h1v1h-1zM87 132h1v1h-1zM113 132h1v1h-1zM118 133h1v1h-1zM120 133h1v1h-1zM107 134h1v1h-1zM120 134h1v1h-1zM131 134h1v1h-1zM109 135h1v1h-1zM132 135h1v1h-1zM79 136h1v1h-1zM98 136h1v1h-1zM86 138h1v1h-1zM105 138h1v1h-1zM110 138h1v1h-1zM134 138h1v1h-1zM120 139h1v1h-1zM137 139h1v1h-1zM91 140h1v1h-1zM96 140h1v1h-1zM114 140h1v1h-1zM150 140h1v1h-1zM121 141h1v1h-1zM135 141h1v1h-1zM100 142h1v1h-1zM110 144h1v1h-1zM127 144h1v1h-1zM87 145h1v1h-1zM112 145h1v1h-1zM124 145h1v1h-1zM90 146h1v1h-1zM108 146h1v1h-1zM113 146h1v1h-1zM114 146h1v1h-1zM115 146h1v1h-1zM78 147h1v1h-1zM90 147h1v1h-1zM99 147h1v1h-1zM102 147h1v1h-1zM121 147h1v1h-1zM98 148h1v1h-1zM125 148h1v1h-1zM134 148h1v1h-1zM91 149h1v1h-1zM94 149h1v1h-1zM103 149h1v1h-1zM105 149h1v1h-1zM114 149h1v1h-1zM119 150h1v1h-1zM116 151h1v1h-1zM107 152h1v1h-1zM113 152h1v1h-1zM118 152h1v1h-1zM129 153h1v1h-1zM131 153h1v1h-1zM121 154h1v1h-1zM122 154h1v1h-1zM121 155h1v1h-1zM132 156h1v1h-1zM133 156h1v1h-1zM113 157h1v1h-1zM122 157h1v1h-1zM89 158h1v1h-1zM108 158h1v1h-1zM114 159h1v1h-1zM84 160h1v1h-1zM120 163h1v1h-1zM109 164h1v1h-1zM127 169h1v1h-1z"/>
<path fill="#f2864c" d="M105 112h1v1h-1zM110 112h1v1h-1zM93 113h1v1h-1zM115 113h1v1h-1zM118 113h1v1h-1zM108 115h1v1h-1zM118 115h1v1h-1zM99 117h1v1h-1zM105 120h1v1h-1zM107 120h1v1h-1zM119 120h1v1h-1zM97 122h1v1h-1zM117 123h1v1h-1zM95 124h1v1h-1zM111 125h1v1h-1zM101 127h1v1h-1zM129 128h1v1h-1zM103 129h1v1h-1zM115 129h1v1h-1zM118 129h1v1h-1zM97 130h1v1h-1zM103 130h1v1h-1zM120 130h1v1h-1zM124 130h1v1h-1zM95 131h1v1h-1zM96 132h1v1h-1zM127 132h1v1h-1zM91 134h1v1h-1zM95 134h1v1h-1zM113 135h1v1h-1zM102 136h1v1h-1zM139 136h1v1h-1zM92 138h1v1h-1zM103 138h1v1h-1zM106 139h1v1h-1zM118 139h1v1h-1zM88 140h1v1h-1zM125 140h1v1h-1zM112 142h1v1h-1zM124 142h1v1h-1zM101 143h1v1h-1zM107 143h1v1h-1zM134 143h1v1h-1zM89 145h1v1h-1zM131 145h1v1h-1zM103 146h1v1h-1zM128 147h1v1h-1zM112 148h1v1h-1zM120 148h1v1h-1zM94 150h1v1h-1zM161 151h1v1h-1zM110 152h1v1h-1zM97 153h1v1h-1zM98 153h1v1h-1zM125 153h1v1h-1zM107 155h1v1h-1zM112 155h1v1h-1zM107 157h1v1h-1zM79 158h1v1h-1zM103 158h1v1h-1zM109 158h1v1h-1zM115 158h1v1h-1zM120 158h1v1h-1zM105 159h1v1h-1zM136 159h1v1h-1zM119 163h1v1h-1zM122 164h1v1h-1z"/>
<path fill="#ef7549" d="M100 111h1v1h-1zM103 114h1v1h-1zM98 116h1v1h-1zM101 119h1v1h-1zM116 119h1v1h-1zM99 122h1v1h-1zM95 123h1v1h-1zM98 123h1v1h-1zM89 125h1v1h-1zM95 125h1v1h-1zM120 125h1v1h-1zM134 125h1v1h-1zM121 126h1v1h-1zM96 127h1v1h-1zM115 127h1v1h-1zM113 128h1v1h-1zM115 128h1v1h-1zM108 129h1v1h-1zM125 129h1v1h-1zM115 130h1v1h-1zM121 130h1v1h-1zM114 131h1v1h-1zM127 131h1v1h-1zM90 132h1v1h-1zM107 132h1v1h-1zM129 132h1v1h-1zM115 133h1v1h-1zM97 134h1v1h-1zM114 135h1v1h-1zM127 135h1v1h-1zM93 137h1v1h-1zM104 138h1v1h-1zM115 138h1v1h-1zM130 140h1v1h-1zM91 141h1v1h-1zM91 142h1v1h-1zM127 142h1v1h-1zM103 143h1v1h-1zM115 144h1v1h-1zM118 144h1v1h-1zM95 145h1v1h-1zM122 145h1v1h-1zM127 145h1v1h-1zM104 146h1v1h-1zM122 146h1v1h-1zM103 147h1v1h-1zM114 147h1v1h-1zM124 147h1v1h-1zM108 148h1v1h-1zM130 148h1v1h-1zM96 149h1v1h-1zM99 149h1v1h-1zM87 150h1v1h-1zM92 150h1v1h-1zM125 150h1v1h-1zM110 151h1v1h-1zM121 151h1v1h-1zM81 152h1v1h-1zM93 152h1v1h-1zM115 153h1v1h-1zM115 154h1v1h-1zM109 155h1v1h-1zM91 157h1v1h-1zM98 158h1v1h-1zM103 159h1v1h-1zM104 159h1v1h-1zM105 162h1v1h-1zM112 162h1v1h-1zM84 165h1v1h-1zM113 166h1v1h-1z"/>
<path fill="#ea6948" d="M129 110h1v1h-1zM111 113h1v1h-1zM105 114h1v1h-1zM108 117h1v1h-1zM109 117h1v1h-1zM113 117h1v1h-1zM115 117h1v1h-1zM130 121h1v1h-1zM127 122h1v1h-1zM107 123h1v1h-1zM125 123h1v1h-1zM106 125h1v1h-1zM117 125h1v1h-1zM85 128h1v1h-1zM90 128h1v1h-1zM113 129h1v1h-1zM111 130h1v1h-1zM134 130h1v1h-1zM103 131h1v1h-1zM128 131h1v1h-1zM99 132h1v1h-1zM111 133h1v1h-1zM121 133h1v1h-1zM94 134h1v1h-1zM90 135h1v1h-1zM108 135h1v1h-1zM88 136h1v1h-1zM95 136h1v1h-1zM96 136h1v1h-1zM112 136h1v1h-1zM124 136h1v1h-1zM94 138h1v1h-1zM111 138h1v1h-1zM125 138h1v1h-1zM99 139h1v1h-1zM101 139h1v1h-1zM102 139h1v1h-1zM109 140h1v1h-1zM123 140h1v1h-1zM142 140h1v1h-1zM116 141h1v1h-1zM118 141h1v1h-1zM112 144h1v1h-1zM119 144h1v1h-1zM98 145h1v1h-1zM107 145h1v1h-1zM94 146h1v1h-1zM115 148h1v1h-1zM121 149h1v1h-1zM123 149h1v1h-1zM124 149h1v1h-1zM102 151h1v1h-1zM109 151h1v1h-1zM118 151h1v1h-1zM98 152h1v1h-1zM114 157h1v1h-1zM115 157h1v1h-1zM104 158h1v1h-1zM99 164h1v1h-1zM117 164h1v1h-1zM104 167h1v1h-1zM97 173h1v1h-1z"/>
<path fill="#e45c46" d="M101 117h1v1h-1zM92 125h1v1h-1zM112 125h1v1h-1zM107 126h1v1h-1zM95 127h1v1h-1zM99 127h1v1h-1zM105 127h1v1h-1zM106 128h1v1h-1zM100 129h1v1h-1zM93 130h1v1h-1zM91 132h1v1h-1zM95 133h1v1h-1zM133 134h1v1h-1zM106 136h1v1h-1zM108 136h1v1h-1zM121 136h1v1h-1zM102 138h1v1h-1zM105 139h1v1h-1zM116 139h1v1h-1zM136 139h1v1h-1zM100 141h1v1h-1zM92 143h1v1h-1zM117 143h1v1h-1zM118 143h1v1h-1zM111 145h1v1h-1zM113 145h1v1h-1zM141 146h1v1h-1zM102 148h1v1h-1zM105 150h1v1h-1zM112 152h1v1h-1zM117 153h1v1h-1zM111 155h1v1h-1zM108 156h1v1h-1zM110 156h1v1h-1zM124 156h1v1h-1zM98 157h1v1h-1zM100 157h1v1h-1zM100 159h1v1h-1zM100 162h1v1h-1zM106 164h1v1h-1z"/>
<path fill="#de5045" d="M114 110h1v1h-1zM46 115h1v1h-1zM119 119h1v1h-1zM81 120h1v1h-1zM98 120h1v1h-1zM122 121h1v1h-1zM113 123h1v1h-1zM110 126h1v1h-1zM115 126h1v1h-1zM118 126h1v1h-1zM104 127h1v1h-1zM87 128h1v1h-1zM89 128h1v1h-1zM127 128h1v1h-1zM106 129h1v1h-1zM110 130h1v1h-1zM104 133h1v1h-1zM101 134h1v1h-1zM89 135h1v1h-1zM102 135h1v1h-1zM106 135h1v1h-1zM107 139h1v1h-1zM134 139h1v1h-1zM79 141h1v1h-1zM98 141h1v1h-1zM95 142h1v1h-1zM136 142h1v1h-1zM99 144h1v1h-1zM108 144h1v1h-1zM111 147h1v1h-1zM100 148h1v1h-1zM106 148h1v1h-1zM95 149h1v1h-1zM104 149h1v1h-1zM125 149h1v1h-1zM134 149h1v1h-1zM99 150h1v1h-1zM113 150h1v1h-1zM100 151h1v1h-1zM113 151h1v1h-1zM94 152h1v1h-1zM109 152h1v1h-1zM122 152h1v1h-1zM100 153h1v1h-1zM118 154h1v1h-1zM99 155h1v1h-1zM101 155h1v1h-1zM123 155h1v1h-1zM109 156h1v1h-1zM104 157h1v1h-1zM106 163h1v1h-1zM113 165h1v1h-1zM103 169h1v1h-1z"/>
<path fill="#d24a44" d="M114 109h1v1h-1zM96 121h1v1h-1zM117 121h1v1h-1zM112 124h1v1h-1zM114 125h1v1h-1zM124 126h1v1h-1zM109 130h1v1h-1zM130 130h1v1h-1zM125 132h1v1h-1zM110 133h1v1h-1zM127 133h1v1h-1zM102 134h1v1h-1zM121 134h1v1h-1zM105 136h1v1h-1zM96 137h1v1h-1zM90 138h1v1h-1zM109 139h1v1h-1zM107 142h1v1h-1zM108 142h1v1h-1zM118 142h1v1h-1zM107 144h1v1h-1zM92 147h1v1h-1zM110 148h1v1h-1zM103 150h1v1h-1zM93 151h1v1h-1zM112 151h1v1h-1zM125 160h1v1h-1z"/>
<path fill="#c54542" d="M111 119h1v1h-1zM102 123h1v1h-1zM113 125h1v1h-1zM114 128h1v1h-1zM127 129h1v1h-1zM106 131h1v1h-1zM130 131h1v1h-1zM107 138h1v1h-1zM112 139h1v1h-1zM86 140h1v1h-1zM98 140h1v1h-1zM117 140h1v1h-1zM83 141h1v1h-1zM120 142h1v1h-1zM116 143h1v1h-1zM100 144h1v1h-1zM123 144h1v1h-1zM102 145h1v1h-1zM101 149h1v1h-1zM103 151h1v1h-1zM115 151h1v1h-1zM91 163h1v1h-1zM116 164h1v1h-1z"/>
<path fill="#b74041" d="M113 113h1v1h-1zM98 125h1v1h-1zM96 126h1v1h-1zM104 126h1v1h-1zM102 128h1v1h-1zM109 128h1v1h-1zM100 135h1v1h-1zM121 135h1v1h-1zM101 136h1v1h-1zM140 137h1v1h-1zM115 139h1v1h-1zM109 141h1v1h-1zM110 141h1v1h-1zM97 143h1v1h-1zM128 145h1v1h-1zM106 146h1v1h-1zM110 147h1v1h-1zM113 148h1v1h-1zM95 151h1v1h-1zM104 151h1v1h-1zM103 162h1v1h-1zM103 163h1v1h-1zM114 165h1v1h-1zM137 172h1v1h-1z"/>
<path fill="#a74042" d="M109 113h1v1h-1zM92 120h1v1h-1zM99 124h1v1h-1zM101 125h1v1h-1zM108 125h1v1h-1zM119 128h1v1h-1zM95 130h1v1h-1zM100 130h1v1h-1zM95 135h1v1h-1zM116 137h1v1h-1zM104 143h1v1h-1zM142 146h1v1h-1zM92 151h1v1h-1zM102 152h1v1h-1zM102 154h1v1h-1zM123 160h1v1h-1z"/>
<path fill="#983f44" d="M125 128h1v1h-1zM110 129h1v1h-1zM119 130h1v1h-1zM115 132h1v1h-1zM128 133h1v1h-1zM115 137h1v1h-1zM126 138h1v1h-1zM121 139h1v1h-1zM116 142h1v1h-1zM120 146h1v1h-1zM111 150h1v1h-1z"/>
<path fill="#883e45" d="M112 110h1v1h-1zM99 119h1v1h-1zM117 120h1v1h-1zM95 122h1v1h-1zM110 122h1v1h-1zM112 122h1v1h-1zM118 122h1v1h-1zM121 122h1v1h-1zM123 122h1v1h-1zM124 123h1v1h-1zM102 124h1v1h-1zM122 124h1v1h-1zM111 126h1v1h-1zM103 127h1v1h-1zM111 128h1v1h-1zM123 128h1v1h-1zM124 128h1v1h-1zM82 129h1v1h-1zM104 130h1v1h-1zM105 130h1v1h-1zM132 130h1v1h-1zM93 131h1v1h-1zM104 131h1v1h-1zM109 131h1v1h-1zM111 131h1v1h-1zM100 132h1v1h-1zM101 132h1v1h-1zM109 132h1v1h-1zM114 132h1v1h-1zM138 132h1v1h-1zM102 133h1v1h-1zM108 133h1v1h-1zM99 134h1v1h-1zM111 134h1v1h-1zM116 134h1v1h-1zM117 134h1v1h-1zM126 134h1v1h-1zM99 135h1v1h-1zM119 136h1v1h-1zM126 136h1v1h-1zM98 137h1v1h-1zM108 137h1v1h-1zM109 137h1v1h-1zM110 137h1v1h-1zM118 137h1v1h-1zM119 137h1v1h-1zM125 137h1v1h-1zM87 138h1v1h-1zM106 138h1v1h-1zM114 138h1v1h-1zM127 138h1v1h-1zM108 139h1v1h-1zM111 139h1v1h-1zM119 139h1v1h-1zM89 140h1v1h-1zM104 140h1v1h-1zM112 140h1v1h-1zM113 140h1v1h-1zM128 140h1v1h-1zM101 141h1v1h-1zM102 141h1v1h-1zM114 141h1v1h-1zM123 141h1v1h-1zM105 142h1v1h-1zM119 142h1v1h-1zM95 143h1v1h-1zM102 143h1v1h-1zM105 143h1v1h-1zM120 143h1v1h-1zM121 143h1v1h-1zM104 144h1v1h-1zM109 144h1v1h-1zM122 144h1v1h-1zM96 145h1v1h-1zM101 145h1v1h-1zM105 145h1v1h-1zM108 145h1v1h-1zM114 145h1v1h-1zM101 147h1v1h-1zM109 147h1v1h-1zM115 147h1v1h-1zM114 148h1v1h-1zM93 149h1v1h-1zM113 149h1v1h-1zM119 149h1v1h-1zM115 150h1v1h-1zM130 150h1v1h-1zM108 151h1v1h-1zM120 151h1v1h-1zM125 151h1v1h-1zM97 152h1v1h-1zM101 152h1v1h-1zM130 152h1v1h-1zM114 153h1v1h-1zM133 153h1v1h-1zM96 154h1v1h-1zM116 154h1v1h-1zM108 155h1v1h-1zM114 155h1v1h-1zM120 155h1v1h-1zM102 157h1v1h-1zM119 157h1v1h-1zM105 158h1v1h-1zM106 161h1v1h-1zM101 162h1v1h-1z"/></g></g>
<rect x="70.50" y="30.00" width="612.50" height="610.00" fill="url(#tex2)"/>
<rect x="70.50" y="30.00" width="612.50" height="610.00" fill="none" stroke="#1a1516" stroke-width="1.4"/>
<path d="M62.00 30.00H70.50M70.50 22.50V30.00" stroke="#1a1516" stroke-width="1" fill="none"/>
<path d="M683.00 30.00H691.70M683.00 22.50V30.00" stroke="#1a1516" stroke-width="1" fill="none"/>
<path d="M64.50 640.00H70.50M70.50 640.00V646.60" stroke="#1a1516" stroke-width="1" fill="none"/>
<path d="M683.00 640.00H689.20M683.00 640.00V646.60" stroke="#1a1516" stroke-width="1" fill="none"/>
<line x1="274.50" y1="22.50" x2="274.50" y2="646.60" stroke="#1c1418" stroke-width="1.1"/>
<line x1="478.50" y1="22.50" x2="478.50" y2="646.60" stroke="#1c1418" stroke-width="1.1"/>
<line x1="64.50" y1="233.00" x2="689.20" y2="233.00" stroke="#1c1418" stroke-width="1.1"/>
<line x1="64.50" y1="436.50" x2="689.20" y2="436.50" stroke="#1c1418" stroke-width="1.1"/>
<path d="M594 48.3 Q609 82 620.8 116.6 Q620 118.5 618 117 Q607 103 594.4 93 Q581 104 570 117.5 Q568 119 567.3 117 Q579 82 594 48.3Z" fill="#1a1516"/>
<path d="M93.8 608.5V617.3H201V608.5" fill="none" stroke="#1a1516" stroke-width="2"/>
<rect x="121.00" y="680.00" width="520.50" height="16.00" fill="url(#cb)" stroke="#141012" stroke-width="1.8"/>
<line x1="121.30" y1="696.00" x2="121.30" y2="705.20" stroke="#141012" stroke-width="2"/>
<line x1="188.50" y1="696.00" x2="188.50" y2="705.20" stroke="#141012" stroke-width="2"/>
<line x1="253.80" y1="696.00" x2="253.80" y2="705.20" stroke="#141012" stroke-width="2"/>
<line x1="318.30" y1="697.50" x2="318.30" y2="706.70" stroke="#141012" stroke-width="2"/>
<line x1="378.80" y1="697.50" x2="378.80" y2="706.70" stroke="#141012" stroke-width="2"/>
<line x1="481.00" y1="697.50" x2="481.00" y2="706.70" stroke="#141012" stroke-width="2"/>
<line x1="641.5" y1="696" x2="641.5" y2="705.2" stroke="#141012" stroke-width="2"/>
<g opacity="0.999">
<text x="89.23" y="600.30" font-size="20.30" letter-spacing="0.00">0</text>
<text x="171.72" y="600.30" font-size="20.30" letter-spacing="1.17">50 km</text>
<text y="14.50" font-size="21.30"><tspan x="242.93 254.99 266.96">102</tspan><tspan x="278.27" dy="3.30" font-size="25.70">°</tspan></text>
<text y="14.50" font-size="21.30"><tspan x="443.53 454.79 465.98">103</tspan><tspan x="478.27" dy="3.30" font-size="25.70">°</tspan><tspan x="488.49" dy="-3.30">E</tspan></text>
<text y="37.30" font-size="21.30"><tspan x="-1.32 11.53">31</tspan><tspan x="22.37" dy="3.30" font-size="25.70">°</tspan><tspan x="32.79" dy="-3.30">N</tspan></text>
<text y="241.80" font-size="21.30"><tspan x="16.88 29.19">30</tspan><tspan x="40.17" dy="3.30" font-size="25.70">°</tspan></text>
<text y="446.00" font-size="21.30"><tspan x="16.96 29.31">29</tspan><tspan x="40.17" dy="3.30" font-size="25.70">°</tspan></text>
<text x="106.43" y="727.10" font-size="20.30" letter-spacing="1.19">0.0</text>
<text x="168.13" y="727.10" font-size="20.30" letter-spacing="0.85">0.05</text>
<text x="238.83" y="727.60" font-size="20.30" letter-spacing="0.94">0.10</text>
<text x="297.93" y="729.20" font-size="20.30" letter-spacing="0.68">0.15</text>
<text x="364.93" y="729.00" font-size="20.30" letter-spacing="0.67">0.20</text>
<text x="466.33" y="728.70" font-size="20.30" letter-spacing="0.67">0.30</text>
<text x="596.33" y="726.70" font-size="20.30" letter-spacing="1.54">0.40<tspan font-size="20.6" x="635.9 658.2 679.4">及以上</tspan></text>
<text x="346.51" y="765.00" font-size="20.40" letter-spacing="1.26">PGA(g)</text>
</g>
</svg>
</body></html>
